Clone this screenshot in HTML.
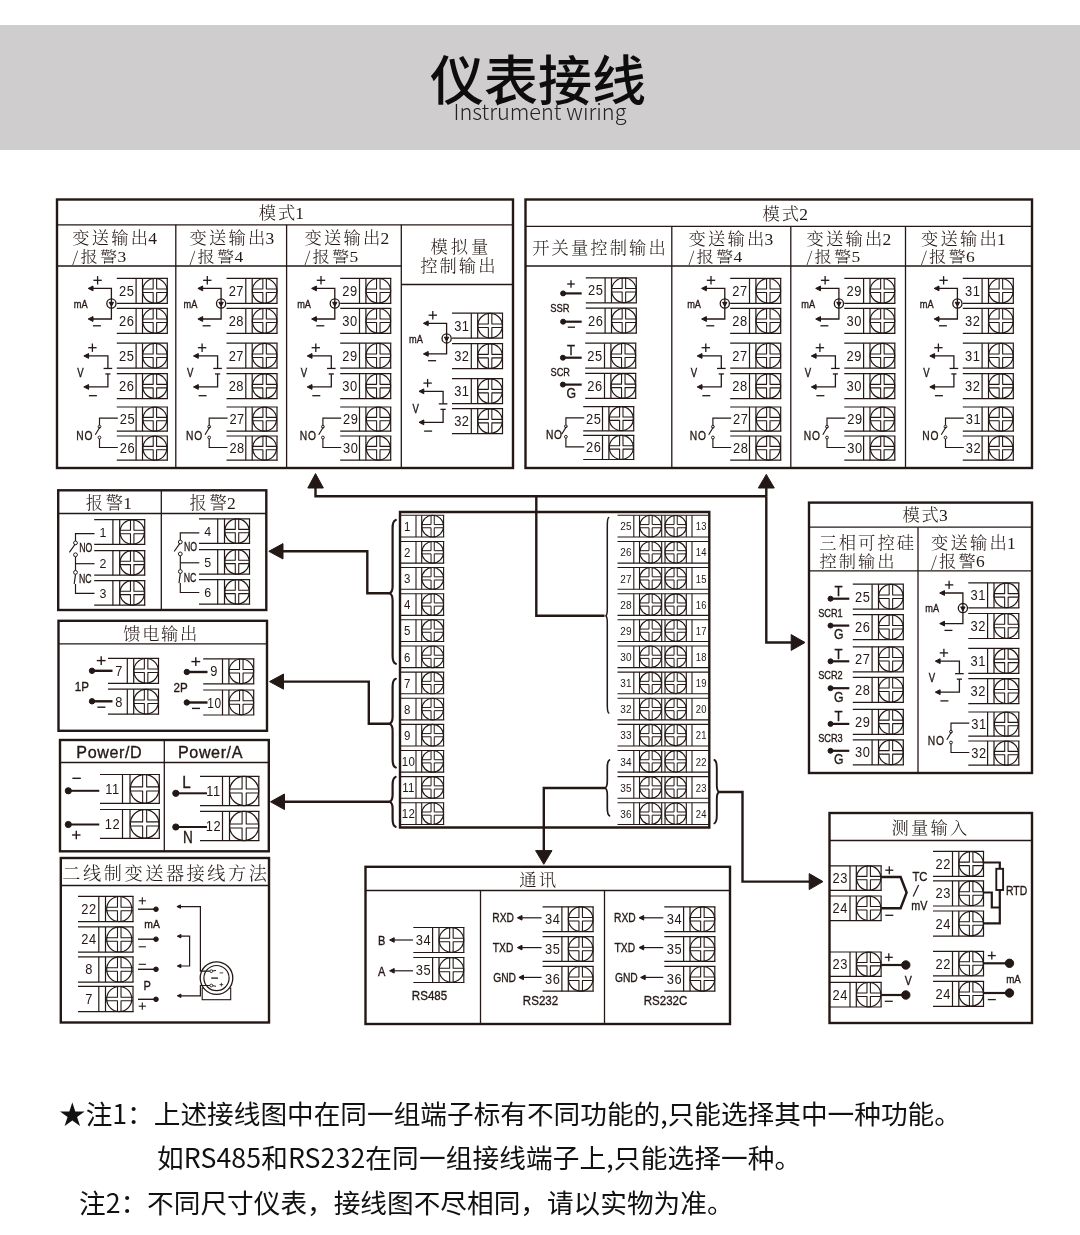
<!DOCTYPE html>
<html lang="zh-CN">
<head>
<meta charset="utf-8">
<title>仪表接线 Instrument wiring</title>
<style>
html,body{margin:0;padding:0;background:#fff;}
body{width:1080px;height:1235px;position:relative;overflow:hidden;font-family:"Liberation Sans","Noto Sans CJK SC",sans-serif;color:#111;}
.banner{position:absolute;left:0;top:25px;width:1080px;height:125.4px;background:#cfcdce;}
.title{position:absolute;left:0;width:1080px;text-align:center;top:38.5px;font-family:"Noto Sans CJK SC","Liberation Sans",sans-serif;font-weight:500;font-size:54px;line-height:78px;color:#0d0d0d;letter-spacing:0;margin-left:-2px;}
.sub{position:absolute;left:0;width:1080px;text-align:center;top:94.8px;font-family:"Noto Sans CJK SC","Liberation Sans",sans-serif;font-weight:300;font-size:21.7px;line-height:32px;color:#222;}
svg{position:absolute;left:0;top:0;}
.title,.sub,.note,svg{will-change:transform;}
svg *{stroke:#231815;}
svg text,svg tspan{stroke:none;fill:#231815;}
.l{font-family:"Liberation Sans",sans-serif;}
.s{font-family:"Noto Serif CJK SC","Liberation Serif",serif;font-weight:300;}
svg text.b{stroke:#231815;stroke-width:0.35px;}
.d{font-family:"Liberation Serif",serif;font-weight:400;}
.note{position:absolute;white-space:nowrap;font-family:"Noto Sans CJK SC","Liberation Sans",sans-serif;font-size:26.67px;line-height:40px;color:#111;}
</style>
</head>
<body>
<div class="banner"></div>
<div class="title">仪表接线</div>
<div class="sub">Instrument wiring</div>
<svg width="1080" height="1235" viewBox="0 0 1080 1235" fill="none">
<rect x="57" y="199.5" width="456" height="268.5" stroke-width="2.4" fill="none"/>
<line x1="57" y1="224.8" x2="513" y2="224.8" stroke-width="1.3"/>
<line x1="57" y1="266" x2="401.3" y2="266" stroke-width="1.3"/>
<line x1="175.8" y1="224.8" x2="175.8" y2="468" stroke-width="1.3"/>
<line x1="286.6" y1="224.8" x2="286.6" y2="468" stroke-width="1.3"/>
<line x1="401.3" y1="224.8" x2="401.3" y2="468" stroke-width="1.3"/>
<line x1="401.3" y1="284.5" x2="513" y2="284.5" stroke-width="1.3"/>
<text class="s" x="258.8" y="218.6" font-size="17.3" text-anchor="start" letter-spacing="1.8">模式<tspan class="d" font-size="17.47" dx="-1.6">1</tspan></text>
<text class="s" x="72.3" y="244.3" font-size="17.3" text-anchor="start" letter-spacing="2.2">变送输出<tspan class="d" font-size="17.47" dx="-2">4</tspan></text>
<text class="s" font-size="17.3" text-anchor="start" letter-spacing="2.2" transform="translate(72.3 262.2) scale(1 0.88)">/报警<tspan class="d" font-size="17.47" dx="-2">3</tspan></text>
<text class="s" x="189.5" y="244.3" font-size="17.3" text-anchor="start" letter-spacing="2.2">变送输出<tspan class="d" font-size="17.47" dx="-2">3</tspan></text>
<text class="s" font-size="17.3" text-anchor="start" letter-spacing="2.2" transform="translate(189.5 262.2) scale(1 0.88)">/报警<tspan class="d" font-size="17.47" dx="-2">4</tspan></text>
<text class="s" x="304.5" y="244.3" font-size="17.3" text-anchor="start" letter-spacing="2.2">变送输出<tspan class="d" font-size="17.47" dx="-2">2</tspan></text>
<text class="s" font-size="17.3" text-anchor="start" letter-spacing="2.2" transform="translate(304.5 262.2) scale(1 0.88)">/报警<tspan class="d" font-size="17.47" dx="-2">5</tspan></text>
<text class="s" x="430.5" y="253.3" font-size="17.3" text-anchor="start" letter-spacing="3">模拟量</text>
<text class="s" x="420.3" y="271.5" font-size="17.3" text-anchor="start" letter-spacing="2">控制输出</text>
<line x1="116.8" y1="278.3" x2="167.9" y2="278.3" stroke-width="1.2"/>
<line x1="116.8" y1="303.3" x2="167.9" y2="303.3" stroke-width="1.2"/>
<line x1="136.1" y1="278.3" x2="136.1" y2="303.3" stroke-width="1.2"/>
<line x1="142.5" y1="278.3" x2="142.5" y2="303.3" stroke-width="1.2"/>
<line x1="167.3" y1="278.3" x2="167.3" y2="303.3" stroke-width="1.2"/>
<circle cx="154.9" cy="290.8" r="12.3" stroke-width="1.2" fill="none"/>
<polyline points="142.5,289.05 153.15,289.05 153.15,278.3" stroke-width="1.08" stroke-linejoin="round"/>
<polyline points="142.5,292.55 153.15,292.55 153.15,303.3" stroke-width="1.08" stroke-linejoin="round"/>
<polyline points="167.3,289.05 156.65,289.05 156.65,278.3" stroke-width="1.08" stroke-linejoin="round"/>
<polyline points="167.3,292.55 156.65,292.55 156.65,303.3" stroke-width="1.08" stroke-linejoin="round"/>
<text class="l" font-size="14" text-anchor="middle" letter-spacing="0.6" transform="translate(126.65 295.84) scale(0.92 1)">25</text>
<line x1="116.8" y1="308.3" x2="167.9" y2="308.3" stroke-width="1.2"/>
<line x1="116.8" y1="333.3" x2="167.9" y2="333.3" stroke-width="1.2"/>
<line x1="136.1" y1="308.3" x2="136.1" y2="333.3" stroke-width="1.2"/>
<line x1="142.5" y1="308.3" x2="142.5" y2="333.3" stroke-width="1.2"/>
<line x1="167.3" y1="308.3" x2="167.3" y2="333.3" stroke-width="1.2"/>
<circle cx="154.9" cy="320.8" r="12.3" stroke-width="1.2" fill="none"/>
<polyline points="142.5,319.05 153.15,319.05 153.15,308.3" stroke-width="1.08" stroke-linejoin="round"/>
<polyline points="142.5,322.55 153.15,322.55 153.15,333.3" stroke-width="1.08" stroke-linejoin="round"/>
<polyline points="167.3,319.05 156.65,319.05 156.65,308.3" stroke-width="1.08" stroke-linejoin="round"/>
<polyline points="167.3,322.55 156.65,322.55 156.65,333.3" stroke-width="1.08" stroke-linejoin="round"/>
<text class="l" font-size="14" text-anchor="middle" letter-spacing="0.6" transform="translate(126.65 325.84) scale(0.92 1)">26</text>
<polyline points="91.2,288.4 111.4,288.4 111.4,319 91.2,319" stroke-width="1.3" stroke-linejoin="miter"/>
<polygon points="88.2,288.4 93,286 93,290.8" fill="#231815" stroke="none"/>
<polygon points="88.2,319 93,316.6 93,321.4" fill="#231815" stroke="none"/>
<circle cx="111.4" cy="303.5" r="4.6" stroke-width="1.3" fill="none"/>
<polygon points="111.4,306.3 109.2,302.3 113.6,302.3" fill="#231815" stroke="none"/>
<line x1="93.4" y1="280.3" x2="101.8" y2="280.3" stroke-width="1.3"/>
<line x1="97.6" y1="276.1" x2="97.6" y2="284.5" stroke-width="1.3"/>
<line x1="92.9" y1="325.8" x2="100.9" y2="325.8" stroke-width="1.3"/>
<text class="l b" font-size="11.5" text-anchor="start" transform="translate(73.8 307.6) scale(0.8 1)">mA</text>
<line x1="116.8" y1="343.2" x2="167.9" y2="343.2" stroke-width="1.2"/>
<line x1="116.8" y1="368.2" x2="167.9" y2="368.2" stroke-width="1.2"/>
<line x1="136.1" y1="343.2" x2="136.1" y2="368.2" stroke-width="1.2"/>
<line x1="142.5" y1="343.2" x2="142.5" y2="368.2" stroke-width="1.2"/>
<line x1="167.3" y1="343.2" x2="167.3" y2="368.2" stroke-width="1.2"/>
<circle cx="154.9" cy="355.7" r="12.3" stroke-width="1.2" fill="none"/>
<polyline points="142.5,353.95 153.15,353.95 153.15,343.2" stroke-width="1.08" stroke-linejoin="round"/>
<polyline points="142.5,357.45 153.15,357.45 153.15,368.2" stroke-width="1.08" stroke-linejoin="round"/>
<polyline points="167.3,353.95 156.65,353.95 156.65,343.2" stroke-width="1.08" stroke-linejoin="round"/>
<polyline points="167.3,357.45 156.65,357.45 156.65,368.2" stroke-width="1.08" stroke-linejoin="round"/>
<text class="l" font-size="14" text-anchor="middle" letter-spacing="0.6" transform="translate(126.65 360.74) scale(0.92 1)">25</text>
<line x1="116.8" y1="373.6" x2="167.9" y2="373.6" stroke-width="1.2"/>
<line x1="116.8" y1="398.6" x2="167.9" y2="398.6" stroke-width="1.2"/>
<line x1="136.1" y1="373.6" x2="136.1" y2="398.6" stroke-width="1.2"/>
<line x1="142.5" y1="373.6" x2="142.5" y2="398.6" stroke-width="1.2"/>
<line x1="167.3" y1="373.6" x2="167.3" y2="398.6" stroke-width="1.2"/>
<circle cx="154.9" cy="386.1" r="12.3" stroke-width="1.2" fill="none"/>
<polyline points="142.5,384.35 153.15,384.35 153.15,373.6" stroke-width="1.08" stroke-linejoin="round"/>
<polyline points="142.5,387.85 153.15,387.85 153.15,398.6" stroke-width="1.08" stroke-linejoin="round"/>
<polyline points="167.3,384.35 156.65,384.35 156.65,373.6" stroke-width="1.08" stroke-linejoin="round"/>
<polyline points="167.3,387.85 156.65,387.85 156.65,398.6" stroke-width="1.08" stroke-linejoin="round"/>
<text class="l" font-size="14" text-anchor="middle" letter-spacing="0.6" transform="translate(126.65 391.14) scale(0.92 1)">26</text>
<polyline points="86.8,355.95 107.9,355.95 107.9,368.45" stroke-width="1.3" stroke-linejoin="miter"/>
<polyline points="107.9,373.95 107.9,386.95 86.8,386.95" stroke-width="1.3" stroke-linejoin="miter"/>
<line x1="103.6" y1="368.45" x2="112.2" y2="368.45" stroke-width="1.3"/>
<line x1="105.3" y1="373.95" x2="110.5" y2="373.95" stroke-width="1.3"/>
<polygon points="83.8,355.95 88.6,353.55 88.6,358.35" fill="#231815" stroke="none"/>
<polygon points="83.8,386.95 88.6,384.55 88.6,389.35" fill="#231815" stroke="none"/>
<line x1="88.2" y1="347.7" x2="96.6" y2="347.7" stroke-width="1.3"/>
<line x1="92.4" y1="343.5" x2="92.4" y2="351.9" stroke-width="1.3"/>
<line x1="88.9" y1="395.7" x2="96.9" y2="395.7" stroke-width="1.3"/>
<text class="l b" font-size="12" text-anchor="start" transform="translate(77.3 377.2) scale(0.8 1)">V</text>
<line x1="116.8" y1="407" x2="167.9" y2="407" stroke-width="1.2"/>
<line x1="116.8" y1="431.2" x2="167.9" y2="431.2" stroke-width="1.2"/>
<line x1="136.1" y1="407" x2="136.1" y2="431.2" stroke-width="1.2"/>
<line x1="142.5" y1="407" x2="142.5" y2="431.2" stroke-width="1.2"/>
<line x1="167.3" y1="407" x2="167.3" y2="431.2" stroke-width="1.2"/>
<circle cx="154.9" cy="419.1" r="12" stroke-width="1.2" fill="none"/>
<polyline points="142.5,417.41 153.21,417.41 153.21,407" stroke-width="1.08" stroke-linejoin="round"/>
<polyline points="142.5,420.79 153.21,420.79 153.21,431.2" stroke-width="1.08" stroke-linejoin="round"/>
<polyline points="167.3,417.41 156.59,417.41 156.59,407" stroke-width="1.08" stroke-linejoin="round"/>
<polyline points="167.3,420.79 156.59,420.79 156.59,431.2" stroke-width="1.08" stroke-linejoin="round"/>
<text class="l" font-size="14" text-anchor="middle" letter-spacing="0.6" transform="translate(127.4 424.14) scale(0.92 1)">25</text>
<line x1="116.8" y1="436" x2="167.9" y2="436" stroke-width="1.2"/>
<line x1="116.8" y1="460.2" x2="167.9" y2="460.2" stroke-width="1.2"/>
<line x1="136.1" y1="436" x2="136.1" y2="460.2" stroke-width="1.2"/>
<line x1="142.5" y1="436" x2="142.5" y2="460.2" stroke-width="1.2"/>
<line x1="167.3" y1="436" x2="167.3" y2="460.2" stroke-width="1.2"/>
<circle cx="154.9" cy="448.1" r="12" stroke-width="1.2" fill="none"/>
<polyline points="142.5,446.41 153.21,446.41 153.21,436" stroke-width="1.08" stroke-linejoin="round"/>
<polyline points="142.5,449.79 153.21,449.79 153.21,460.2" stroke-width="1.08" stroke-linejoin="round"/>
<polyline points="167.3,446.41 156.59,446.41 156.59,436" stroke-width="1.08" stroke-linejoin="round"/>
<polyline points="167.3,449.79 156.59,449.79 156.59,460.2" stroke-width="1.08" stroke-linejoin="round"/>
<text class="l" font-size="14" text-anchor="middle" letter-spacing="0.6" transform="translate(127.4 453.14) scale(0.92 1)">26</text>
<polyline points="117.8,418.2 99.5,418.2 99.5,425.2" stroke-width="1.17" stroke-linejoin="miter"/>
<polyline points="117.8,447.5 99.5,447.5 99.5,438.9" stroke-width="1.17" stroke-linejoin="miter"/>
<circle cx="99.5" cy="426.7" r="1.4" stroke-width="1" fill="none"/>
<circle cx="99.5" cy="437.5" r="1.4" stroke-width="1" fill="none"/>
<line x1="100.1" y1="426.8" x2="95.3" y2="434.7" stroke-width="1.17"/>
<text class="l b" font-size="12.5" text-anchor="start" letter-spacing="1" transform="translate(76.3 439.7) scale(0.82 1)">NO</text>
<line x1="226.5" y1="278.3" x2="277.6" y2="278.3" stroke-width="1.2"/>
<line x1="226.5" y1="303.3" x2="277.6" y2="303.3" stroke-width="1.2"/>
<line x1="245.8" y1="278.3" x2="245.8" y2="303.3" stroke-width="1.2"/>
<line x1="252.2" y1="278.3" x2="252.2" y2="303.3" stroke-width="1.2"/>
<line x1="277" y1="278.3" x2="277" y2="303.3" stroke-width="1.2"/>
<circle cx="264.6" cy="290.8" r="12.3" stroke-width="1.2" fill="none"/>
<polyline points="252.2,289.05 262.85,289.05 262.85,278.3" stroke-width="1.08" stroke-linejoin="round"/>
<polyline points="252.2,292.55 262.85,292.55 262.85,303.3" stroke-width="1.08" stroke-linejoin="round"/>
<polyline points="277,289.05 266.35,289.05 266.35,278.3" stroke-width="1.08" stroke-linejoin="round"/>
<polyline points="277,292.55 266.35,292.55 266.35,303.3" stroke-width="1.08" stroke-linejoin="round"/>
<text class="l" font-size="14" text-anchor="middle" letter-spacing="0.6" transform="translate(236.35 295.84) scale(0.92 1)">27</text>
<line x1="226.5" y1="308.3" x2="277.6" y2="308.3" stroke-width="1.2"/>
<line x1="226.5" y1="333.3" x2="277.6" y2="333.3" stroke-width="1.2"/>
<line x1="245.8" y1="308.3" x2="245.8" y2="333.3" stroke-width="1.2"/>
<line x1="252.2" y1="308.3" x2="252.2" y2="333.3" stroke-width="1.2"/>
<line x1="277" y1="308.3" x2="277" y2="333.3" stroke-width="1.2"/>
<circle cx="264.6" cy="320.8" r="12.3" stroke-width="1.2" fill="none"/>
<polyline points="252.2,319.05 262.85,319.05 262.85,308.3" stroke-width="1.08" stroke-linejoin="round"/>
<polyline points="252.2,322.55 262.85,322.55 262.85,333.3" stroke-width="1.08" stroke-linejoin="round"/>
<polyline points="277,319.05 266.35,319.05 266.35,308.3" stroke-width="1.08" stroke-linejoin="round"/>
<polyline points="277,322.55 266.35,322.55 266.35,333.3" stroke-width="1.08" stroke-linejoin="round"/>
<text class="l" font-size="14" text-anchor="middle" letter-spacing="0.6" transform="translate(236.35 325.84) scale(0.92 1)">28</text>
<polyline points="200.9,288.4 221.1,288.4 221.1,319 200.9,319" stroke-width="1.3" stroke-linejoin="miter"/>
<polygon points="197.9,288.4 202.7,286 202.7,290.8" fill="#231815" stroke="none"/>
<polygon points="197.9,319 202.7,316.6 202.7,321.4" fill="#231815" stroke="none"/>
<circle cx="221.1" cy="303.5" r="4.6" stroke-width="1.3" fill="none"/>
<polygon points="221.1,306.3 218.9,302.3 223.3,302.3" fill="#231815" stroke="none"/>
<line x1="203.1" y1="280.3" x2="211.5" y2="280.3" stroke-width="1.3"/>
<line x1="207.3" y1="276.1" x2="207.3" y2="284.5" stroke-width="1.3"/>
<line x1="202.6" y1="325.8" x2="210.6" y2="325.8" stroke-width="1.3"/>
<text class="l b" font-size="11.5" text-anchor="start" transform="translate(183.5 307.6) scale(0.8 1)">mA</text>
<line x1="226.5" y1="343.2" x2="277.6" y2="343.2" stroke-width="1.2"/>
<line x1="226.5" y1="368.2" x2="277.6" y2="368.2" stroke-width="1.2"/>
<line x1="245.8" y1="343.2" x2="245.8" y2="368.2" stroke-width="1.2"/>
<line x1="252.2" y1="343.2" x2="252.2" y2="368.2" stroke-width="1.2"/>
<line x1="277" y1="343.2" x2="277" y2="368.2" stroke-width="1.2"/>
<circle cx="264.6" cy="355.7" r="12.3" stroke-width="1.2" fill="none"/>
<polyline points="252.2,353.95 262.85,353.95 262.85,343.2" stroke-width="1.08" stroke-linejoin="round"/>
<polyline points="252.2,357.45 262.85,357.45 262.85,368.2" stroke-width="1.08" stroke-linejoin="round"/>
<polyline points="277,353.95 266.35,353.95 266.35,343.2" stroke-width="1.08" stroke-linejoin="round"/>
<polyline points="277,357.45 266.35,357.45 266.35,368.2" stroke-width="1.08" stroke-linejoin="round"/>
<text class="l" font-size="14" text-anchor="middle" letter-spacing="0.6" transform="translate(236.35 360.74) scale(0.92 1)">27</text>
<line x1="226.5" y1="373.6" x2="277.6" y2="373.6" stroke-width="1.2"/>
<line x1="226.5" y1="398.6" x2="277.6" y2="398.6" stroke-width="1.2"/>
<line x1="245.8" y1="373.6" x2="245.8" y2="398.6" stroke-width="1.2"/>
<line x1="252.2" y1="373.6" x2="252.2" y2="398.6" stroke-width="1.2"/>
<line x1="277" y1="373.6" x2="277" y2="398.6" stroke-width="1.2"/>
<circle cx="264.6" cy="386.1" r="12.3" stroke-width="1.2" fill="none"/>
<polyline points="252.2,384.35 262.85,384.35 262.85,373.6" stroke-width="1.08" stroke-linejoin="round"/>
<polyline points="252.2,387.85 262.85,387.85 262.85,398.6" stroke-width="1.08" stroke-linejoin="round"/>
<polyline points="277,384.35 266.35,384.35 266.35,373.6" stroke-width="1.08" stroke-linejoin="round"/>
<polyline points="277,387.85 266.35,387.85 266.35,398.6" stroke-width="1.08" stroke-linejoin="round"/>
<text class="l" font-size="14" text-anchor="middle" letter-spacing="0.6" transform="translate(236.35 391.14) scale(0.92 1)">28</text>
<polyline points="196.5,355.95 217.6,355.95 217.6,368.45" stroke-width="1.3" stroke-linejoin="miter"/>
<polyline points="217.6,373.95 217.6,386.95 196.5,386.95" stroke-width="1.3" stroke-linejoin="miter"/>
<line x1="213.3" y1="368.45" x2="221.9" y2="368.45" stroke-width="1.3"/>
<line x1="215" y1="373.95" x2="220.2" y2="373.95" stroke-width="1.3"/>
<polygon points="193.5,355.95 198.3,353.55 198.3,358.35" fill="#231815" stroke="none"/>
<polygon points="193.5,386.95 198.3,384.55 198.3,389.35" fill="#231815" stroke="none"/>
<line x1="197.9" y1="347.7" x2="206.3" y2="347.7" stroke-width="1.3"/>
<line x1="202.1" y1="343.5" x2="202.1" y2="351.9" stroke-width="1.3"/>
<line x1="198.6" y1="395.7" x2="206.6" y2="395.7" stroke-width="1.3"/>
<text class="l b" font-size="12" text-anchor="start" transform="translate(187 377.2) scale(0.8 1)">V</text>
<line x1="226.5" y1="407" x2="277.6" y2="407" stroke-width="1.2"/>
<line x1="226.5" y1="431.2" x2="277.6" y2="431.2" stroke-width="1.2"/>
<line x1="245.8" y1="407" x2="245.8" y2="431.2" stroke-width="1.2"/>
<line x1="252.2" y1="407" x2="252.2" y2="431.2" stroke-width="1.2"/>
<line x1="277" y1="407" x2="277" y2="431.2" stroke-width="1.2"/>
<circle cx="264.6" cy="419.1" r="12" stroke-width="1.2" fill="none"/>
<polyline points="252.2,417.41 262.91,417.41 262.91,407" stroke-width="1.08" stroke-linejoin="round"/>
<polyline points="252.2,420.79 262.91,420.79 262.91,431.2" stroke-width="1.08" stroke-linejoin="round"/>
<polyline points="277,417.41 266.29,417.41 266.29,407" stroke-width="1.08" stroke-linejoin="round"/>
<polyline points="277,420.79 266.29,420.79 266.29,431.2" stroke-width="1.08" stroke-linejoin="round"/>
<text class="l" font-size="14" text-anchor="middle" letter-spacing="0.6" transform="translate(237.1 424.14) scale(0.92 1)">27</text>
<line x1="226.5" y1="436" x2="277.6" y2="436" stroke-width="1.2"/>
<line x1="226.5" y1="460.2" x2="277.6" y2="460.2" stroke-width="1.2"/>
<line x1="245.8" y1="436" x2="245.8" y2="460.2" stroke-width="1.2"/>
<line x1="252.2" y1="436" x2="252.2" y2="460.2" stroke-width="1.2"/>
<line x1="277" y1="436" x2="277" y2="460.2" stroke-width="1.2"/>
<circle cx="264.6" cy="448.1" r="12" stroke-width="1.2" fill="none"/>
<polyline points="252.2,446.41 262.91,446.41 262.91,436" stroke-width="1.08" stroke-linejoin="round"/>
<polyline points="252.2,449.79 262.91,449.79 262.91,460.2" stroke-width="1.08" stroke-linejoin="round"/>
<polyline points="277,446.41 266.29,446.41 266.29,436" stroke-width="1.08" stroke-linejoin="round"/>
<polyline points="277,449.79 266.29,449.79 266.29,460.2" stroke-width="1.08" stroke-linejoin="round"/>
<text class="l" font-size="14" text-anchor="middle" letter-spacing="0.6" transform="translate(237.1 453.14) scale(0.92 1)">28</text>
<polyline points="227.5,418.2 209.2,418.2 209.2,425.2" stroke-width="1.17" stroke-linejoin="miter"/>
<polyline points="227.5,447.5 209.2,447.5 209.2,438.9" stroke-width="1.17" stroke-linejoin="miter"/>
<circle cx="209.2" cy="426.7" r="1.4" stroke-width="1" fill="none"/>
<circle cx="209.2" cy="437.5" r="1.4" stroke-width="1" fill="none"/>
<line x1="209.8" y1="426.8" x2="205" y2="434.7" stroke-width="1.17"/>
<text class="l b" font-size="12.5" text-anchor="start" letter-spacing="1" transform="translate(186 439.7) scale(0.82 1)">NO</text>
<line x1="340.2" y1="278.3" x2="391.3" y2="278.3" stroke-width="1.2"/>
<line x1="340.2" y1="303.3" x2="391.3" y2="303.3" stroke-width="1.2"/>
<line x1="359.5" y1="278.3" x2="359.5" y2="303.3" stroke-width="1.2"/>
<line x1="365.9" y1="278.3" x2="365.9" y2="303.3" stroke-width="1.2"/>
<line x1="390.7" y1="278.3" x2="390.7" y2="303.3" stroke-width="1.2"/>
<circle cx="378.3" cy="290.8" r="12.3" stroke-width="1.2" fill="none"/>
<polyline points="365.9,289.05 376.55,289.05 376.55,278.3" stroke-width="1.08" stroke-linejoin="round"/>
<polyline points="365.9,292.55 376.55,292.55 376.55,303.3" stroke-width="1.08" stroke-linejoin="round"/>
<polyline points="390.7,289.05 380.05,289.05 380.05,278.3" stroke-width="1.08" stroke-linejoin="round"/>
<polyline points="390.7,292.55 380.05,292.55 380.05,303.3" stroke-width="1.08" stroke-linejoin="round"/>
<text class="l" font-size="14" text-anchor="middle" letter-spacing="0.6" transform="translate(350.05 295.84) scale(0.92 1)">29</text>
<line x1="340.2" y1="308.3" x2="391.3" y2="308.3" stroke-width="1.2"/>
<line x1="340.2" y1="333.3" x2="391.3" y2="333.3" stroke-width="1.2"/>
<line x1="359.5" y1="308.3" x2="359.5" y2="333.3" stroke-width="1.2"/>
<line x1="365.9" y1="308.3" x2="365.9" y2="333.3" stroke-width="1.2"/>
<line x1="390.7" y1="308.3" x2="390.7" y2="333.3" stroke-width="1.2"/>
<circle cx="378.3" cy="320.8" r="12.3" stroke-width="1.2" fill="none"/>
<polyline points="365.9,319.05 376.55,319.05 376.55,308.3" stroke-width="1.08" stroke-linejoin="round"/>
<polyline points="365.9,322.55 376.55,322.55 376.55,333.3" stroke-width="1.08" stroke-linejoin="round"/>
<polyline points="390.7,319.05 380.05,319.05 380.05,308.3" stroke-width="1.08" stroke-linejoin="round"/>
<polyline points="390.7,322.55 380.05,322.55 380.05,333.3" stroke-width="1.08" stroke-linejoin="round"/>
<text class="l" font-size="14" text-anchor="middle" letter-spacing="0.6" transform="translate(350.05 325.84) scale(0.92 1)">30</text>
<polyline points="314.6,288.4 334.8,288.4 334.8,319 314.6,319" stroke-width="1.3" stroke-linejoin="miter"/>
<polygon points="311.6,288.4 316.4,286 316.4,290.8" fill="#231815" stroke="none"/>
<polygon points="311.6,319 316.4,316.6 316.4,321.4" fill="#231815" stroke="none"/>
<circle cx="334.8" cy="303.5" r="4.6" stroke-width="1.3" fill="none"/>
<polygon points="334.8,306.3 332.6,302.3 337,302.3" fill="#231815" stroke="none"/>
<line x1="316.8" y1="280.3" x2="325.2" y2="280.3" stroke-width="1.3"/>
<line x1="321" y1="276.1" x2="321" y2="284.5" stroke-width="1.3"/>
<line x1="316.3" y1="325.8" x2="324.3" y2="325.8" stroke-width="1.3"/>
<text class="l b" font-size="11.5" text-anchor="start" transform="translate(297.2 307.6) scale(0.8 1)">mA</text>
<line x1="340.2" y1="343.2" x2="391.3" y2="343.2" stroke-width="1.2"/>
<line x1="340.2" y1="368.2" x2="391.3" y2="368.2" stroke-width="1.2"/>
<line x1="359.5" y1="343.2" x2="359.5" y2="368.2" stroke-width="1.2"/>
<line x1="365.9" y1="343.2" x2="365.9" y2="368.2" stroke-width="1.2"/>
<line x1="390.7" y1="343.2" x2="390.7" y2="368.2" stroke-width="1.2"/>
<circle cx="378.3" cy="355.7" r="12.3" stroke-width="1.2" fill="none"/>
<polyline points="365.9,353.95 376.55,353.95 376.55,343.2" stroke-width="1.08" stroke-linejoin="round"/>
<polyline points="365.9,357.45 376.55,357.45 376.55,368.2" stroke-width="1.08" stroke-linejoin="round"/>
<polyline points="390.7,353.95 380.05,353.95 380.05,343.2" stroke-width="1.08" stroke-linejoin="round"/>
<polyline points="390.7,357.45 380.05,357.45 380.05,368.2" stroke-width="1.08" stroke-linejoin="round"/>
<text class="l" font-size="14" text-anchor="middle" letter-spacing="0.6" transform="translate(350.05 360.74) scale(0.92 1)">29</text>
<line x1="340.2" y1="373.6" x2="391.3" y2="373.6" stroke-width="1.2"/>
<line x1="340.2" y1="398.6" x2="391.3" y2="398.6" stroke-width="1.2"/>
<line x1="359.5" y1="373.6" x2="359.5" y2="398.6" stroke-width="1.2"/>
<line x1="365.9" y1="373.6" x2="365.9" y2="398.6" stroke-width="1.2"/>
<line x1="390.7" y1="373.6" x2="390.7" y2="398.6" stroke-width="1.2"/>
<circle cx="378.3" cy="386.1" r="12.3" stroke-width="1.2" fill="none"/>
<polyline points="365.9,384.35 376.55,384.35 376.55,373.6" stroke-width="1.08" stroke-linejoin="round"/>
<polyline points="365.9,387.85 376.55,387.85 376.55,398.6" stroke-width="1.08" stroke-linejoin="round"/>
<polyline points="390.7,384.35 380.05,384.35 380.05,373.6" stroke-width="1.08" stroke-linejoin="round"/>
<polyline points="390.7,387.85 380.05,387.85 380.05,398.6" stroke-width="1.08" stroke-linejoin="round"/>
<text class="l" font-size="14" text-anchor="middle" letter-spacing="0.6" transform="translate(350.05 391.14) scale(0.92 1)">30</text>
<polyline points="310.2,355.95 331.3,355.95 331.3,368.45" stroke-width="1.3" stroke-linejoin="miter"/>
<polyline points="331.3,373.95 331.3,386.95 310.2,386.95" stroke-width="1.3" stroke-linejoin="miter"/>
<line x1="327" y1="368.45" x2="335.6" y2="368.45" stroke-width="1.3"/>
<line x1="328.7" y1="373.95" x2="333.9" y2="373.95" stroke-width="1.3"/>
<polygon points="307.2,355.95 312,353.55 312,358.35" fill="#231815" stroke="none"/>
<polygon points="307.2,386.95 312,384.55 312,389.35" fill="#231815" stroke="none"/>
<line x1="311.6" y1="347.7" x2="320" y2="347.7" stroke-width="1.3"/>
<line x1="315.8" y1="343.5" x2="315.8" y2="351.9" stroke-width="1.3"/>
<line x1="312.3" y1="395.7" x2="320.3" y2="395.7" stroke-width="1.3"/>
<text class="l b" font-size="12" text-anchor="start" transform="translate(300.7 377.2) scale(0.8 1)">V</text>
<line x1="340.2" y1="407" x2="391.3" y2="407" stroke-width="1.2"/>
<line x1="340.2" y1="431.2" x2="391.3" y2="431.2" stroke-width="1.2"/>
<line x1="359.5" y1="407" x2="359.5" y2="431.2" stroke-width="1.2"/>
<line x1="365.9" y1="407" x2="365.9" y2="431.2" stroke-width="1.2"/>
<line x1="390.7" y1="407" x2="390.7" y2="431.2" stroke-width="1.2"/>
<circle cx="378.3" cy="419.1" r="12" stroke-width="1.2" fill="none"/>
<polyline points="365.9,417.41 376.61,417.41 376.61,407" stroke-width="1.08" stroke-linejoin="round"/>
<polyline points="365.9,420.79 376.61,420.79 376.61,431.2" stroke-width="1.08" stroke-linejoin="round"/>
<polyline points="390.7,417.41 379.99,417.41 379.99,407" stroke-width="1.08" stroke-linejoin="round"/>
<polyline points="390.7,420.79 379.99,420.79 379.99,431.2" stroke-width="1.08" stroke-linejoin="round"/>
<text class="l" font-size="14" text-anchor="middle" letter-spacing="0.6" transform="translate(350.8 424.14) scale(0.92 1)">29</text>
<line x1="340.2" y1="436" x2="391.3" y2="436" stroke-width="1.2"/>
<line x1="340.2" y1="460.2" x2="391.3" y2="460.2" stroke-width="1.2"/>
<line x1="359.5" y1="436" x2="359.5" y2="460.2" stroke-width="1.2"/>
<line x1="365.9" y1="436" x2="365.9" y2="460.2" stroke-width="1.2"/>
<line x1="390.7" y1="436" x2="390.7" y2="460.2" stroke-width="1.2"/>
<circle cx="378.3" cy="448.1" r="12" stroke-width="1.2" fill="none"/>
<polyline points="365.9,446.41 376.61,446.41 376.61,436" stroke-width="1.08" stroke-linejoin="round"/>
<polyline points="365.9,449.79 376.61,449.79 376.61,460.2" stroke-width="1.08" stroke-linejoin="round"/>
<polyline points="390.7,446.41 379.99,446.41 379.99,436" stroke-width="1.08" stroke-linejoin="round"/>
<polyline points="390.7,449.79 379.99,449.79 379.99,460.2" stroke-width="1.08" stroke-linejoin="round"/>
<text class="l" font-size="14" text-anchor="middle" letter-spacing="0.6" transform="translate(350.8 453.14) scale(0.92 1)">30</text>
<polyline points="341.2,418.2 322.9,418.2 322.9,425.2" stroke-width="1.17" stroke-linejoin="miter"/>
<polyline points="341.2,447.5 322.9,447.5 322.9,438.9" stroke-width="1.17" stroke-linejoin="miter"/>
<circle cx="322.9" cy="426.7" r="1.4" stroke-width="1" fill="none"/>
<circle cx="322.9" cy="437.5" r="1.4" stroke-width="1" fill="none"/>
<line x1="323.5" y1="426.8" x2="318.7" y2="434.7" stroke-width="1.17"/>
<text class="l b" font-size="12.5" text-anchor="start" letter-spacing="1" transform="translate(299.7 439.7) scale(0.82 1)">NO</text>
<line x1="452" y1="313.2" x2="503.1" y2="313.2" stroke-width="1.2"/>
<line x1="452" y1="338.2" x2="503.1" y2="338.2" stroke-width="1.2"/>
<line x1="471.3" y1="313.2" x2="471.3" y2="338.2" stroke-width="1.2"/>
<line x1="477.7" y1="313.2" x2="477.7" y2="338.2" stroke-width="1.2"/>
<line x1="502.5" y1="313.2" x2="502.5" y2="338.2" stroke-width="1.2"/>
<circle cx="490.1" cy="325.7" r="12.3" stroke-width="1.2" fill="none"/>
<polyline points="477.7,323.95 488.35,323.95 488.35,313.2" stroke-width="1.08" stroke-linejoin="round"/>
<polyline points="477.7,327.45 488.35,327.45 488.35,338.2" stroke-width="1.08" stroke-linejoin="round"/>
<polyline points="502.5,323.95 491.85,323.95 491.85,313.2" stroke-width="1.08" stroke-linejoin="round"/>
<polyline points="502.5,327.45 491.85,327.45 491.85,338.2" stroke-width="1.08" stroke-linejoin="round"/>
<text class="l" font-size="14" text-anchor="middle" letter-spacing="0.6" transform="translate(461.85 330.74) scale(0.92 1)">31</text>
<line x1="452" y1="343.6" x2="503.1" y2="343.6" stroke-width="1.2"/>
<line x1="452" y1="368.6" x2="503.1" y2="368.6" stroke-width="1.2"/>
<line x1="471.3" y1="343.6" x2="471.3" y2="368.6" stroke-width="1.2"/>
<line x1="477.7" y1="343.6" x2="477.7" y2="368.6" stroke-width="1.2"/>
<line x1="502.5" y1="343.6" x2="502.5" y2="368.6" stroke-width="1.2"/>
<circle cx="490.1" cy="356.1" r="12.3" stroke-width="1.2" fill="none"/>
<polyline points="477.7,354.35 488.35,354.35 488.35,343.6" stroke-width="1.08" stroke-linejoin="round"/>
<polyline points="477.7,357.85 488.35,357.85 488.35,368.6" stroke-width="1.08" stroke-linejoin="round"/>
<polyline points="502.5,354.35 491.85,354.35 491.85,343.6" stroke-width="1.08" stroke-linejoin="round"/>
<polyline points="502.5,357.85 491.85,357.85 491.85,368.6" stroke-width="1.08" stroke-linejoin="round"/>
<text class="l" font-size="14" text-anchor="middle" letter-spacing="0.6" transform="translate(461.85 361.14) scale(0.92 1)">32</text>
<polyline points="426.4,323.3 446.6,323.3 446.6,353.9 426.4,353.9" stroke-width="1.3" stroke-linejoin="miter"/>
<polygon points="423.4,323.3 428.2,320.9 428.2,325.7" fill="#231815" stroke="none"/>
<polygon points="423.4,353.9 428.2,351.5 428.2,356.3" fill="#231815" stroke="none"/>
<circle cx="446.6" cy="338.4" r="4.6" stroke-width="1.3" fill="none"/>
<polygon points="446.6,341.2 444.4,337.2 448.8,337.2" fill="#231815" stroke="none"/>
<line x1="428.6" y1="315.2" x2="437" y2="315.2" stroke-width="1.3"/>
<line x1="432.8" y1="311" x2="432.8" y2="319.4" stroke-width="1.3"/>
<line x1="428.1" y1="360.7" x2="436.1" y2="360.7" stroke-width="1.3"/>
<text class="l b" font-size="11.5" text-anchor="start" transform="translate(409 342.5) scale(0.8 1)">mA</text>
<line x1="452" y1="378.6" x2="503.1" y2="378.6" stroke-width="1.2"/>
<line x1="452" y1="403.6" x2="503.1" y2="403.6" stroke-width="1.2"/>
<line x1="471.3" y1="378.6" x2="471.3" y2="403.6" stroke-width="1.2"/>
<line x1="477.7" y1="378.6" x2="477.7" y2="403.6" stroke-width="1.2"/>
<line x1="502.5" y1="378.6" x2="502.5" y2="403.6" stroke-width="1.2"/>
<circle cx="490.1" cy="391.1" r="12.3" stroke-width="1.2" fill="none"/>
<polyline points="477.7,389.35 488.35,389.35 488.35,378.6" stroke-width="1.08" stroke-linejoin="round"/>
<polyline points="477.7,392.85 488.35,392.85 488.35,403.6" stroke-width="1.08" stroke-linejoin="round"/>
<polyline points="502.5,389.35 491.85,389.35 491.85,378.6" stroke-width="1.08" stroke-linejoin="round"/>
<polyline points="502.5,392.85 491.85,392.85 491.85,403.6" stroke-width="1.08" stroke-linejoin="round"/>
<text class="l" font-size="14" text-anchor="middle" letter-spacing="0.6" transform="translate(461.85 396.14) scale(0.92 1)">31</text>
<line x1="452" y1="408.6" x2="503.1" y2="408.6" stroke-width="1.2"/>
<line x1="452" y1="433.6" x2="503.1" y2="433.6" stroke-width="1.2"/>
<line x1="471.3" y1="408.6" x2="471.3" y2="433.6" stroke-width="1.2"/>
<line x1="477.7" y1="408.6" x2="477.7" y2="433.6" stroke-width="1.2"/>
<line x1="502.5" y1="408.6" x2="502.5" y2="433.6" stroke-width="1.2"/>
<circle cx="490.1" cy="421.1" r="12.3" stroke-width="1.2" fill="none"/>
<polyline points="477.7,419.35 488.35,419.35 488.35,408.6" stroke-width="1.08" stroke-linejoin="round"/>
<polyline points="477.7,422.85 488.35,422.85 488.35,433.6" stroke-width="1.08" stroke-linejoin="round"/>
<polyline points="502.5,419.35 491.85,419.35 491.85,408.6" stroke-width="1.08" stroke-linejoin="round"/>
<polyline points="502.5,422.85 491.85,422.85 491.85,433.6" stroke-width="1.08" stroke-linejoin="round"/>
<text class="l" font-size="14" text-anchor="middle" letter-spacing="0.6" transform="translate(461.85 426.14) scale(0.92 1)">32</text>
<polyline points="422,391.35 443.1,391.35 443.1,403.85" stroke-width="1.3" stroke-linejoin="miter"/>
<polyline points="443.1,409.35 443.1,422.35 422,422.35" stroke-width="1.3" stroke-linejoin="miter"/>
<line x1="438.8" y1="403.85" x2="447.4" y2="403.85" stroke-width="1.3"/>
<line x1="440.5" y1="409.35" x2="445.7" y2="409.35" stroke-width="1.3"/>
<polygon points="419,391.35 423.8,388.95 423.8,393.75" fill="#231815" stroke="none"/>
<polygon points="419,422.35 423.8,419.95 423.8,424.75" fill="#231815" stroke="none"/>
<line x1="423.4" y1="383.1" x2="431.8" y2="383.1" stroke-width="1.3"/>
<line x1="427.6" y1="378.9" x2="427.6" y2="387.3" stroke-width="1.3"/>
<line x1="424.1" y1="431.1" x2="432.1" y2="431.1" stroke-width="1.3"/>
<text class="l b" font-size="12" text-anchor="start" transform="translate(412.5 412.6) scale(0.8 1)">V</text>
<rect x="525.5" y="199.5" width="506.5" height="268.5" stroke-width="2.4" fill="none"/>
<line x1="525.5" y1="226.4" x2="1032" y2="226.4" stroke-width="1.4"/>
<line x1="525.5" y1="266" x2="1032" y2="266" stroke-width="1.3"/>
<line x1="671.8" y1="226.4" x2="671.8" y2="468" stroke-width="1.3"/>
<line x1="790.8" y1="226.4" x2="790.8" y2="468" stroke-width="1.3"/>
<line x1="905.5" y1="226.4" x2="905.5" y2="468" stroke-width="1.3"/>
<text class="s" x="762.6" y="219.6" font-size="17.3" text-anchor="start" letter-spacing="1.8">模式<tspan class="d" font-size="17.47" dx="-1.6">2</tspan></text>
<text class="s" x="532.2" y="254.4" font-size="17.3" text-anchor="start" letter-spacing="2.1">开关量控制输出</text>
<text class="s" x="688.5" y="245.1" font-size="17.3" text-anchor="start" letter-spacing="2.2">变送输出<tspan class="d" font-size="17.47" dx="-2">3</tspan></text>
<text class="s" font-size="17.3" text-anchor="start" letter-spacing="2.2" transform="translate(688.5 262.3) scale(1 0.88)">/报警<tspan class="d" font-size="17.47" dx="-2">4</tspan></text>
<text class="s" x="806.5" y="245.1" font-size="17.3" text-anchor="start" letter-spacing="2.2">变送输出<tspan class="d" font-size="17.47" dx="-2">2</tspan></text>
<text class="s" font-size="17.3" text-anchor="start" letter-spacing="2.2" transform="translate(806.5 262.3) scale(1 0.88)">/报警<tspan class="d" font-size="17.47" dx="-2">5</tspan></text>
<text class="s" x="921" y="245.1" font-size="17.3" text-anchor="start" letter-spacing="2.2">变送输出<tspan class="d" font-size="17.47" dx="-2">1</tspan></text>
<text class="s" font-size="17.3" text-anchor="start" letter-spacing="2.2" transform="translate(921 262.3) scale(1 0.88)">/报警<tspan class="d" font-size="17.47" dx="-2">6</tspan></text>
<line x1="585.8" y1="277.8" x2="636.9" y2="277.8" stroke-width="1.2"/>
<line x1="585.8" y1="302.8" x2="636.9" y2="302.8" stroke-width="1.2"/>
<line x1="605.1" y1="277.8" x2="605.1" y2="302.8" stroke-width="1.2"/>
<line x1="611.5" y1="277.8" x2="611.5" y2="302.8" stroke-width="1.2"/>
<line x1="636.3" y1="277.8" x2="636.3" y2="302.8" stroke-width="1.2"/>
<circle cx="623.9" cy="290.3" r="12.3" stroke-width="1.2" fill="none"/>
<polyline points="611.5,288.55 622.15,288.55 622.15,277.8" stroke-width="1.08" stroke-linejoin="round"/>
<polyline points="611.5,292.05 622.15,292.05 622.15,302.8" stroke-width="1.08" stroke-linejoin="round"/>
<polyline points="636.3,288.55 625.65,288.55 625.65,277.8" stroke-width="1.08" stroke-linejoin="round"/>
<polyline points="636.3,292.05 625.65,292.05 625.65,302.8" stroke-width="1.08" stroke-linejoin="round"/>
<text class="l" font-size="14" text-anchor="middle" letter-spacing="0.6" transform="translate(595.65 295.34) scale(0.92 1)">25</text>
<line x1="585.8" y1="308.2" x2="636.9" y2="308.2" stroke-width="1.2"/>
<line x1="585.8" y1="333.2" x2="636.9" y2="333.2" stroke-width="1.2"/>
<line x1="605.1" y1="308.2" x2="605.1" y2="333.2" stroke-width="1.2"/>
<line x1="611.5" y1="308.2" x2="611.5" y2="333.2" stroke-width="1.2"/>
<line x1="636.3" y1="308.2" x2="636.3" y2="333.2" stroke-width="1.2"/>
<circle cx="623.9" cy="320.7" r="12.3" stroke-width="1.2" fill="none"/>
<polyline points="611.5,318.95 622.15,318.95 622.15,308.2" stroke-width="1.08" stroke-linejoin="round"/>
<polyline points="611.5,322.45 622.15,322.45 622.15,333.2" stroke-width="1.08" stroke-linejoin="round"/>
<polyline points="636.3,318.95 625.65,318.95 625.65,308.2" stroke-width="1.08" stroke-linejoin="round"/>
<polyline points="636.3,322.45 625.65,322.45 625.65,333.2" stroke-width="1.08" stroke-linejoin="round"/>
<text class="l" font-size="14" text-anchor="middle" letter-spacing="0.6" transform="translate(595.65 325.74) scale(0.92 1)">26</text>
<circle cx="563.1" cy="293.4" r="2.5" fill="#231815" stroke="none"/>
<line x1="563.1" y1="293.4" x2="581.7" y2="293.4" stroke-width="2.2"/>
<circle cx="563.1" cy="321.7" r="2.5" fill="#231815" stroke="none"/>
<line x1="563.1" y1="321.7" x2="581.7" y2="321.7" stroke-width="2.2"/>
<line x1="567.2" y1="284" x2="574.8" y2="284" stroke-width="1.3"/>
<line x1="571" y1="280.2" x2="571" y2="287.8" stroke-width="1.3"/>
<line x1="567.8" y1="327.2" x2="575" y2="327.2" stroke-width="1.3"/>
<text class="l b" font-size="11.5" text-anchor="start" transform="translate(550.2 312) scale(0.82 1)">SSR</text>
<line x1="585.2" y1="343.2" x2="636.3" y2="343.2" stroke-width="1.2"/>
<line x1="585.2" y1="368.2" x2="636.3" y2="368.2" stroke-width="1.2"/>
<line x1="604.5" y1="343.2" x2="604.5" y2="368.2" stroke-width="1.2"/>
<line x1="610.9" y1="343.2" x2="610.9" y2="368.2" stroke-width="1.2"/>
<line x1="635.7" y1="343.2" x2="635.7" y2="368.2" stroke-width="1.2"/>
<circle cx="623.3" cy="355.7" r="12.3" stroke-width="1.2" fill="none"/>
<polyline points="610.9,353.95 621.55,353.95 621.55,343.2" stroke-width="1.08" stroke-linejoin="round"/>
<polyline points="610.9,357.45 621.55,357.45 621.55,368.2" stroke-width="1.08" stroke-linejoin="round"/>
<polyline points="635.7,353.95 625.05,353.95 625.05,343.2" stroke-width="1.08" stroke-linejoin="round"/>
<polyline points="635.7,357.45 625.05,357.45 625.05,368.2" stroke-width="1.08" stroke-linejoin="round"/>
<text class="l" font-size="14" text-anchor="middle" letter-spacing="0.6" transform="translate(595.05 360.74) scale(0.92 1)">25</text>
<line x1="585.2" y1="373.4" x2="636.3" y2="373.4" stroke-width="1.2"/>
<line x1="585.2" y1="398.4" x2="636.3" y2="398.4" stroke-width="1.2"/>
<line x1="604.5" y1="373.4" x2="604.5" y2="398.4" stroke-width="1.2"/>
<line x1="610.9" y1="373.4" x2="610.9" y2="398.4" stroke-width="1.2"/>
<line x1="635.7" y1="373.4" x2="635.7" y2="398.4" stroke-width="1.2"/>
<circle cx="623.3" cy="385.9" r="12.3" stroke-width="1.2" fill="none"/>
<polyline points="610.9,384.15 621.55,384.15 621.55,373.4" stroke-width="1.08" stroke-linejoin="round"/>
<polyline points="610.9,387.65 621.55,387.65 621.55,398.4" stroke-width="1.08" stroke-linejoin="round"/>
<polyline points="635.7,384.15 625.05,384.15 625.05,373.4" stroke-width="1.08" stroke-linejoin="round"/>
<polyline points="635.7,387.65 625.05,387.65 625.05,398.4" stroke-width="1.08" stroke-linejoin="round"/>
<text class="l" font-size="14" text-anchor="middle" letter-spacing="0.6" transform="translate(595.05 390.94) scale(0.92 1)">26</text>
<circle cx="562.9" cy="357.7" r="2.5" fill="#231815" stroke="none"/>
<line x1="562.9" y1="357.7" x2="581.7" y2="357.7" stroke-width="2.2"/>
<circle cx="562.9" cy="384.6" r="2.5" fill="#231815" stroke="none"/>
<line x1="562.9" y1="384.6" x2="581.7" y2="384.6" stroke-width="2.2"/>
<text class="l b" font-size="15.3" text-anchor="middle" transform="translate(570.9 354.9) scale(0.86 1)">T</text>
<text class="l b" font-size="15" text-anchor="middle" transform="translate(571.2 397.9) scale(0.82 1)">G</text>
<text class="l b" font-size="11.5" text-anchor="start" transform="translate(550.6 375.8) scale(0.8 1)">SCR</text>
<line x1="583.2" y1="406.6" x2="634.3" y2="406.6" stroke-width="1.2"/>
<line x1="583.2" y1="430.8" x2="634.3" y2="430.8" stroke-width="1.2"/>
<line x1="602.5" y1="406.6" x2="602.5" y2="430.8" stroke-width="1.2"/>
<line x1="608.9" y1="406.6" x2="608.9" y2="430.8" stroke-width="1.2"/>
<line x1="633.7" y1="406.6" x2="633.7" y2="430.8" stroke-width="1.2"/>
<circle cx="621.3" cy="418.7" r="12" stroke-width="1.2" fill="none"/>
<polyline points="608.9,417.01 619.61,417.01 619.61,406.6" stroke-width="1.08" stroke-linejoin="round"/>
<polyline points="608.9,420.39 619.61,420.39 619.61,430.8" stroke-width="1.08" stroke-linejoin="round"/>
<polyline points="633.7,417.01 622.99,417.01 622.99,406.6" stroke-width="1.08" stroke-linejoin="round"/>
<polyline points="633.7,420.39 622.99,420.39 622.99,430.8" stroke-width="1.08" stroke-linejoin="round"/>
<text class="l" font-size="14" text-anchor="middle" letter-spacing="0.6" transform="translate(593.8 423.74) scale(0.92 1)">25</text>
<line x1="583.2" y1="435.3" x2="634.3" y2="435.3" stroke-width="1.2"/>
<line x1="583.2" y1="459.5" x2="634.3" y2="459.5" stroke-width="1.2"/>
<line x1="602.5" y1="435.3" x2="602.5" y2="459.5" stroke-width="1.2"/>
<line x1="608.9" y1="435.3" x2="608.9" y2="459.5" stroke-width="1.2"/>
<line x1="633.7" y1="435.3" x2="633.7" y2="459.5" stroke-width="1.2"/>
<circle cx="621.3" cy="447.4" r="12" stroke-width="1.2" fill="none"/>
<polyline points="608.9,445.71 619.61,445.71 619.61,435.3" stroke-width="1.08" stroke-linejoin="round"/>
<polyline points="608.9,449.09 619.61,449.09 619.61,459.5" stroke-width="1.08" stroke-linejoin="round"/>
<polyline points="633.7,445.71 622.99,445.71 622.99,435.3" stroke-width="1.08" stroke-linejoin="round"/>
<polyline points="633.7,449.09 622.99,449.09 622.99,459.5" stroke-width="1.08" stroke-linejoin="round"/>
<text class="l" font-size="14" text-anchor="middle" letter-spacing="0.6" transform="translate(593.8 452.44) scale(0.92 1)">26</text>
<polyline points="584.2,417.8 565.9,417.8 565.9,424.8" stroke-width="1.17" stroke-linejoin="miter"/>
<polyline points="584.2,446.8 565.9,446.8 565.9,438.2" stroke-width="1.17" stroke-linejoin="miter"/>
<circle cx="565.9" cy="426.3" r="1.4" stroke-width="1" fill="none"/>
<circle cx="565.9" cy="436.8" r="1.4" stroke-width="1" fill="none"/>
<line x1="566.5" y1="426.4" x2="561.7" y2="434.3" stroke-width="1.17"/>
<text class="l b" font-size="12.5" text-anchor="start" letter-spacing="1" transform="translate(545.9 439.3) scale(0.82 1)">NO</text>
<line x1="730.2" y1="278.3" x2="781.3" y2="278.3" stroke-width="1.2"/>
<line x1="730.2" y1="303.3" x2="781.3" y2="303.3" stroke-width="1.2"/>
<line x1="749.5" y1="278.3" x2="749.5" y2="303.3" stroke-width="1.2"/>
<line x1="755.9" y1="278.3" x2="755.9" y2="303.3" stroke-width="1.2"/>
<line x1="780.7" y1="278.3" x2="780.7" y2="303.3" stroke-width="1.2"/>
<circle cx="768.3" cy="290.8" r="12.3" stroke-width="1.2" fill="none"/>
<polyline points="755.9,289.05 766.55,289.05 766.55,278.3" stroke-width="1.08" stroke-linejoin="round"/>
<polyline points="755.9,292.55 766.55,292.55 766.55,303.3" stroke-width="1.08" stroke-linejoin="round"/>
<polyline points="780.7,289.05 770.05,289.05 770.05,278.3" stroke-width="1.08" stroke-linejoin="round"/>
<polyline points="780.7,292.55 770.05,292.55 770.05,303.3" stroke-width="1.08" stroke-linejoin="round"/>
<text class="l" font-size="14" text-anchor="middle" letter-spacing="0.6" transform="translate(740.05 295.84) scale(0.92 1)">27</text>
<line x1="730.2" y1="308.3" x2="781.3" y2="308.3" stroke-width="1.2"/>
<line x1="730.2" y1="333.3" x2="781.3" y2="333.3" stroke-width="1.2"/>
<line x1="749.5" y1="308.3" x2="749.5" y2="333.3" stroke-width="1.2"/>
<line x1="755.9" y1="308.3" x2="755.9" y2="333.3" stroke-width="1.2"/>
<line x1="780.7" y1="308.3" x2="780.7" y2="333.3" stroke-width="1.2"/>
<circle cx="768.3" cy="320.8" r="12.3" stroke-width="1.2" fill="none"/>
<polyline points="755.9,319.05 766.55,319.05 766.55,308.3" stroke-width="1.08" stroke-linejoin="round"/>
<polyline points="755.9,322.55 766.55,322.55 766.55,333.3" stroke-width="1.08" stroke-linejoin="round"/>
<polyline points="780.7,319.05 770.05,319.05 770.05,308.3" stroke-width="1.08" stroke-linejoin="round"/>
<polyline points="780.7,322.55 770.05,322.55 770.05,333.3" stroke-width="1.08" stroke-linejoin="round"/>
<text class="l" font-size="14" text-anchor="middle" letter-spacing="0.6" transform="translate(740.05 325.84) scale(0.92 1)">28</text>
<polyline points="704.6,288.4 724.8,288.4 724.8,319 704.6,319" stroke-width="1.3" stroke-linejoin="miter"/>
<polygon points="701.6,288.4 706.4,286 706.4,290.8" fill="#231815" stroke="none"/>
<polygon points="701.6,319 706.4,316.6 706.4,321.4" fill="#231815" stroke="none"/>
<circle cx="724.8" cy="303.5" r="4.6" stroke-width="1.3" fill="none"/>
<polygon points="724.8,306.3 722.6,302.3 727,302.3" fill="#231815" stroke="none"/>
<line x1="706.8" y1="280.3" x2="715.2" y2="280.3" stroke-width="1.3"/>
<line x1="711" y1="276.1" x2="711" y2="284.5" stroke-width="1.3"/>
<line x1="706.3" y1="325.8" x2="714.3" y2="325.8" stroke-width="1.3"/>
<text class="l b" font-size="11.5" text-anchor="start" transform="translate(687.2 307.6) scale(0.8 1)">mA</text>
<line x1="730.2" y1="343.2" x2="781.3" y2="343.2" stroke-width="1.2"/>
<line x1="730.2" y1="368.2" x2="781.3" y2="368.2" stroke-width="1.2"/>
<line x1="749.5" y1="343.2" x2="749.5" y2="368.2" stroke-width="1.2"/>
<line x1="755.9" y1="343.2" x2="755.9" y2="368.2" stroke-width="1.2"/>
<line x1="780.7" y1="343.2" x2="780.7" y2="368.2" stroke-width="1.2"/>
<circle cx="768.3" cy="355.7" r="12.3" stroke-width="1.2" fill="none"/>
<polyline points="755.9,353.95 766.55,353.95 766.55,343.2" stroke-width="1.08" stroke-linejoin="round"/>
<polyline points="755.9,357.45 766.55,357.45 766.55,368.2" stroke-width="1.08" stroke-linejoin="round"/>
<polyline points="780.7,353.95 770.05,353.95 770.05,343.2" stroke-width="1.08" stroke-linejoin="round"/>
<polyline points="780.7,357.45 770.05,357.45 770.05,368.2" stroke-width="1.08" stroke-linejoin="round"/>
<text class="l" font-size="14" text-anchor="middle" letter-spacing="0.6" transform="translate(740.05 360.74) scale(0.92 1)">27</text>
<line x1="730.2" y1="373.6" x2="781.3" y2="373.6" stroke-width="1.2"/>
<line x1="730.2" y1="398.6" x2="781.3" y2="398.6" stroke-width="1.2"/>
<line x1="749.5" y1="373.6" x2="749.5" y2="398.6" stroke-width="1.2"/>
<line x1="755.9" y1="373.6" x2="755.9" y2="398.6" stroke-width="1.2"/>
<line x1="780.7" y1="373.6" x2="780.7" y2="398.6" stroke-width="1.2"/>
<circle cx="768.3" cy="386.1" r="12.3" stroke-width="1.2" fill="none"/>
<polyline points="755.9,384.35 766.55,384.35 766.55,373.6" stroke-width="1.08" stroke-linejoin="round"/>
<polyline points="755.9,387.85 766.55,387.85 766.55,398.6" stroke-width="1.08" stroke-linejoin="round"/>
<polyline points="780.7,384.35 770.05,384.35 770.05,373.6" stroke-width="1.08" stroke-linejoin="round"/>
<polyline points="780.7,387.85 770.05,387.85 770.05,398.6" stroke-width="1.08" stroke-linejoin="round"/>
<text class="l" font-size="14" text-anchor="middle" letter-spacing="0.6" transform="translate(740.05 391.14) scale(0.92 1)">28</text>
<polyline points="700.2,355.95 721.3,355.95 721.3,368.45" stroke-width="1.3" stroke-linejoin="miter"/>
<polyline points="721.3,373.95 721.3,386.95 700.2,386.95" stroke-width="1.3" stroke-linejoin="miter"/>
<line x1="717" y1="368.45" x2="725.6" y2="368.45" stroke-width="1.3"/>
<line x1="718.7" y1="373.95" x2="723.9" y2="373.95" stroke-width="1.3"/>
<polygon points="697.2,355.95 702,353.55 702,358.35" fill="#231815" stroke="none"/>
<polygon points="697.2,386.95 702,384.55 702,389.35" fill="#231815" stroke="none"/>
<line x1="701.6" y1="347.7" x2="710" y2="347.7" stroke-width="1.3"/>
<line x1="705.8" y1="343.5" x2="705.8" y2="351.9" stroke-width="1.3"/>
<line x1="702.3" y1="395.7" x2="710.3" y2="395.7" stroke-width="1.3"/>
<text class="l b" font-size="12" text-anchor="start" transform="translate(690.7 377.2) scale(0.8 1)">V</text>
<line x1="730.2" y1="407" x2="781.3" y2="407" stroke-width="1.2"/>
<line x1="730.2" y1="431.2" x2="781.3" y2="431.2" stroke-width="1.2"/>
<line x1="749.5" y1="407" x2="749.5" y2="431.2" stroke-width="1.2"/>
<line x1="755.9" y1="407" x2="755.9" y2="431.2" stroke-width="1.2"/>
<line x1="780.7" y1="407" x2="780.7" y2="431.2" stroke-width="1.2"/>
<circle cx="768.3" cy="419.1" r="12" stroke-width="1.2" fill="none"/>
<polyline points="755.9,417.41 766.61,417.41 766.61,407" stroke-width="1.08" stroke-linejoin="round"/>
<polyline points="755.9,420.79 766.61,420.79 766.61,431.2" stroke-width="1.08" stroke-linejoin="round"/>
<polyline points="780.7,417.41 769.99,417.41 769.99,407" stroke-width="1.08" stroke-linejoin="round"/>
<polyline points="780.7,420.79 769.99,420.79 769.99,431.2" stroke-width="1.08" stroke-linejoin="round"/>
<text class="l" font-size="14" text-anchor="middle" letter-spacing="0.6" transform="translate(740.8 424.14) scale(0.92 1)">27</text>
<line x1="730.2" y1="436" x2="781.3" y2="436" stroke-width="1.2"/>
<line x1="730.2" y1="460.2" x2="781.3" y2="460.2" stroke-width="1.2"/>
<line x1="749.5" y1="436" x2="749.5" y2="460.2" stroke-width="1.2"/>
<line x1="755.9" y1="436" x2="755.9" y2="460.2" stroke-width="1.2"/>
<line x1="780.7" y1="436" x2="780.7" y2="460.2" stroke-width="1.2"/>
<circle cx="768.3" cy="448.1" r="12" stroke-width="1.2" fill="none"/>
<polyline points="755.9,446.41 766.61,446.41 766.61,436" stroke-width="1.08" stroke-linejoin="round"/>
<polyline points="755.9,449.79 766.61,449.79 766.61,460.2" stroke-width="1.08" stroke-linejoin="round"/>
<polyline points="780.7,446.41 769.99,446.41 769.99,436" stroke-width="1.08" stroke-linejoin="round"/>
<polyline points="780.7,449.79 769.99,449.79 769.99,460.2" stroke-width="1.08" stroke-linejoin="round"/>
<text class="l" font-size="14" text-anchor="middle" letter-spacing="0.6" transform="translate(740.8 453.14) scale(0.92 1)">28</text>
<polyline points="731.2,418.2 712.9,418.2 712.9,425.2" stroke-width="1.17" stroke-linejoin="miter"/>
<polyline points="731.2,447.5 712.9,447.5 712.9,438.9" stroke-width="1.17" stroke-linejoin="miter"/>
<circle cx="712.9" cy="426.7" r="1.4" stroke-width="1" fill="none"/>
<circle cx="712.9" cy="437.5" r="1.4" stroke-width="1" fill="none"/>
<line x1="713.5" y1="426.8" x2="708.7" y2="434.7" stroke-width="1.17"/>
<text class="l b" font-size="12.5" text-anchor="start" letter-spacing="1" transform="translate(689.7 439.7) scale(0.82 1)">NO</text>
<line x1="844.3" y1="278.3" x2="895.4" y2="278.3" stroke-width="1.2"/>
<line x1="844.3" y1="303.3" x2="895.4" y2="303.3" stroke-width="1.2"/>
<line x1="863.6" y1="278.3" x2="863.6" y2="303.3" stroke-width="1.2"/>
<line x1="870" y1="278.3" x2="870" y2="303.3" stroke-width="1.2"/>
<line x1="894.8" y1="278.3" x2="894.8" y2="303.3" stroke-width="1.2"/>
<circle cx="882.4" cy="290.8" r="12.3" stroke-width="1.2" fill="none"/>
<polyline points="870,289.05 880.65,289.05 880.65,278.3" stroke-width="1.08" stroke-linejoin="round"/>
<polyline points="870,292.55 880.65,292.55 880.65,303.3" stroke-width="1.08" stroke-linejoin="round"/>
<polyline points="894.8,289.05 884.15,289.05 884.15,278.3" stroke-width="1.08" stroke-linejoin="round"/>
<polyline points="894.8,292.55 884.15,292.55 884.15,303.3" stroke-width="1.08" stroke-linejoin="round"/>
<text class="l" font-size="14" text-anchor="middle" letter-spacing="0.6" transform="translate(854.15 295.84) scale(0.92 1)">29</text>
<line x1="844.3" y1="308.3" x2="895.4" y2="308.3" stroke-width="1.2"/>
<line x1="844.3" y1="333.3" x2="895.4" y2="333.3" stroke-width="1.2"/>
<line x1="863.6" y1="308.3" x2="863.6" y2="333.3" stroke-width="1.2"/>
<line x1="870" y1="308.3" x2="870" y2="333.3" stroke-width="1.2"/>
<line x1="894.8" y1="308.3" x2="894.8" y2="333.3" stroke-width="1.2"/>
<circle cx="882.4" cy="320.8" r="12.3" stroke-width="1.2" fill="none"/>
<polyline points="870,319.05 880.65,319.05 880.65,308.3" stroke-width="1.08" stroke-linejoin="round"/>
<polyline points="870,322.55 880.65,322.55 880.65,333.3" stroke-width="1.08" stroke-linejoin="round"/>
<polyline points="894.8,319.05 884.15,319.05 884.15,308.3" stroke-width="1.08" stroke-linejoin="round"/>
<polyline points="894.8,322.55 884.15,322.55 884.15,333.3" stroke-width="1.08" stroke-linejoin="round"/>
<text class="l" font-size="14" text-anchor="middle" letter-spacing="0.6" transform="translate(854.15 325.84) scale(0.92 1)">30</text>
<polyline points="818.7,288.4 838.9,288.4 838.9,319 818.7,319" stroke-width="1.3" stroke-linejoin="miter"/>
<polygon points="815.7,288.4 820.5,286 820.5,290.8" fill="#231815" stroke="none"/>
<polygon points="815.7,319 820.5,316.6 820.5,321.4" fill="#231815" stroke="none"/>
<circle cx="838.9" cy="303.5" r="4.6" stroke-width="1.3" fill="none"/>
<polygon points="838.9,306.3 836.7,302.3 841.1,302.3" fill="#231815" stroke="none"/>
<line x1="820.9" y1="280.3" x2="829.3" y2="280.3" stroke-width="1.3"/>
<line x1="825.1" y1="276.1" x2="825.1" y2="284.5" stroke-width="1.3"/>
<line x1="820.4" y1="325.8" x2="828.4" y2="325.8" stroke-width="1.3"/>
<text class="l b" font-size="11.5" text-anchor="start" transform="translate(801.3 307.6) scale(0.8 1)">mA</text>
<line x1="844.3" y1="343.2" x2="895.4" y2="343.2" stroke-width="1.2"/>
<line x1="844.3" y1="368.2" x2="895.4" y2="368.2" stroke-width="1.2"/>
<line x1="863.6" y1="343.2" x2="863.6" y2="368.2" stroke-width="1.2"/>
<line x1="870" y1="343.2" x2="870" y2="368.2" stroke-width="1.2"/>
<line x1="894.8" y1="343.2" x2="894.8" y2="368.2" stroke-width="1.2"/>
<circle cx="882.4" cy="355.7" r="12.3" stroke-width="1.2" fill="none"/>
<polyline points="870,353.95 880.65,353.95 880.65,343.2" stroke-width="1.08" stroke-linejoin="round"/>
<polyline points="870,357.45 880.65,357.45 880.65,368.2" stroke-width="1.08" stroke-linejoin="round"/>
<polyline points="894.8,353.95 884.15,353.95 884.15,343.2" stroke-width="1.08" stroke-linejoin="round"/>
<polyline points="894.8,357.45 884.15,357.45 884.15,368.2" stroke-width="1.08" stroke-linejoin="round"/>
<text class="l" font-size="14" text-anchor="middle" letter-spacing="0.6" transform="translate(854.15 360.74) scale(0.92 1)">29</text>
<line x1="844.3" y1="373.6" x2="895.4" y2="373.6" stroke-width="1.2"/>
<line x1="844.3" y1="398.6" x2="895.4" y2="398.6" stroke-width="1.2"/>
<line x1="863.6" y1="373.6" x2="863.6" y2="398.6" stroke-width="1.2"/>
<line x1="870" y1="373.6" x2="870" y2="398.6" stroke-width="1.2"/>
<line x1="894.8" y1="373.6" x2="894.8" y2="398.6" stroke-width="1.2"/>
<circle cx="882.4" cy="386.1" r="12.3" stroke-width="1.2" fill="none"/>
<polyline points="870,384.35 880.65,384.35 880.65,373.6" stroke-width="1.08" stroke-linejoin="round"/>
<polyline points="870,387.85 880.65,387.85 880.65,398.6" stroke-width="1.08" stroke-linejoin="round"/>
<polyline points="894.8,384.35 884.15,384.35 884.15,373.6" stroke-width="1.08" stroke-linejoin="round"/>
<polyline points="894.8,387.85 884.15,387.85 884.15,398.6" stroke-width="1.08" stroke-linejoin="round"/>
<text class="l" font-size="14" text-anchor="middle" letter-spacing="0.6" transform="translate(854.15 391.14) scale(0.92 1)">30</text>
<polyline points="814.3,355.95 835.4,355.95 835.4,368.45" stroke-width="1.3" stroke-linejoin="miter"/>
<polyline points="835.4,373.95 835.4,386.95 814.3,386.95" stroke-width="1.3" stroke-linejoin="miter"/>
<line x1="831.1" y1="368.45" x2="839.7" y2="368.45" stroke-width="1.3"/>
<line x1="832.8" y1="373.95" x2="838" y2="373.95" stroke-width="1.3"/>
<polygon points="811.3,355.95 816.1,353.55 816.1,358.35" fill="#231815" stroke="none"/>
<polygon points="811.3,386.95 816.1,384.55 816.1,389.35" fill="#231815" stroke="none"/>
<line x1="815.7" y1="347.7" x2="824.1" y2="347.7" stroke-width="1.3"/>
<line x1="819.9" y1="343.5" x2="819.9" y2="351.9" stroke-width="1.3"/>
<line x1="816.4" y1="395.7" x2="824.4" y2="395.7" stroke-width="1.3"/>
<text class="l b" font-size="12" text-anchor="start" transform="translate(804.8 377.2) scale(0.8 1)">V</text>
<line x1="844.3" y1="407" x2="895.4" y2="407" stroke-width="1.2"/>
<line x1="844.3" y1="431.2" x2="895.4" y2="431.2" stroke-width="1.2"/>
<line x1="863.6" y1="407" x2="863.6" y2="431.2" stroke-width="1.2"/>
<line x1="870" y1="407" x2="870" y2="431.2" stroke-width="1.2"/>
<line x1="894.8" y1="407" x2="894.8" y2="431.2" stroke-width="1.2"/>
<circle cx="882.4" cy="419.1" r="12" stroke-width="1.2" fill="none"/>
<polyline points="870,417.41 880.71,417.41 880.71,407" stroke-width="1.08" stroke-linejoin="round"/>
<polyline points="870,420.79 880.71,420.79 880.71,431.2" stroke-width="1.08" stroke-linejoin="round"/>
<polyline points="894.8,417.41 884.09,417.41 884.09,407" stroke-width="1.08" stroke-linejoin="round"/>
<polyline points="894.8,420.79 884.09,420.79 884.09,431.2" stroke-width="1.08" stroke-linejoin="round"/>
<text class="l" font-size="14" text-anchor="middle" letter-spacing="0.6" transform="translate(854.9 424.14) scale(0.92 1)">29</text>
<line x1="844.3" y1="436" x2="895.4" y2="436" stroke-width="1.2"/>
<line x1="844.3" y1="460.2" x2="895.4" y2="460.2" stroke-width="1.2"/>
<line x1="863.6" y1="436" x2="863.6" y2="460.2" stroke-width="1.2"/>
<line x1="870" y1="436" x2="870" y2="460.2" stroke-width="1.2"/>
<line x1="894.8" y1="436" x2="894.8" y2="460.2" stroke-width="1.2"/>
<circle cx="882.4" cy="448.1" r="12" stroke-width="1.2" fill="none"/>
<polyline points="870,446.41 880.71,446.41 880.71,436" stroke-width="1.08" stroke-linejoin="round"/>
<polyline points="870,449.79 880.71,449.79 880.71,460.2" stroke-width="1.08" stroke-linejoin="round"/>
<polyline points="894.8,446.41 884.09,446.41 884.09,436" stroke-width="1.08" stroke-linejoin="round"/>
<polyline points="894.8,449.79 884.09,449.79 884.09,460.2" stroke-width="1.08" stroke-linejoin="round"/>
<text class="l" font-size="14" text-anchor="middle" letter-spacing="0.6" transform="translate(854.9 453.14) scale(0.92 1)">30</text>
<polyline points="845.3,418.2 827,418.2 827,425.2" stroke-width="1.17" stroke-linejoin="miter"/>
<polyline points="845.3,447.5 827,447.5 827,438.9" stroke-width="1.17" stroke-linejoin="miter"/>
<circle cx="827" cy="426.7" r="1.4" stroke-width="1" fill="none"/>
<circle cx="827" cy="437.5" r="1.4" stroke-width="1" fill="none"/>
<line x1="827.6" y1="426.8" x2="822.8" y2="434.7" stroke-width="1.17"/>
<text class="l b" font-size="12.5" text-anchor="start" letter-spacing="1" transform="translate(803.8 439.7) scale(0.82 1)">NO</text>
<line x1="962.8" y1="278.3" x2="1013.9" y2="278.3" stroke-width="1.2"/>
<line x1="962.8" y1="303.3" x2="1013.9" y2="303.3" stroke-width="1.2"/>
<line x1="982.1" y1="278.3" x2="982.1" y2="303.3" stroke-width="1.2"/>
<line x1="988.5" y1="278.3" x2="988.5" y2="303.3" stroke-width="1.2"/>
<line x1="1013.3" y1="278.3" x2="1013.3" y2="303.3" stroke-width="1.2"/>
<circle cx="1000.9" cy="290.8" r="12.3" stroke-width="1.2" fill="none"/>
<polyline points="988.5,289.05 999.15,289.05 999.15,278.3" stroke-width="1.08" stroke-linejoin="round"/>
<polyline points="988.5,292.55 999.15,292.55 999.15,303.3" stroke-width="1.08" stroke-linejoin="round"/>
<polyline points="1013.3,289.05 1002.65,289.05 1002.65,278.3" stroke-width="1.08" stroke-linejoin="round"/>
<polyline points="1013.3,292.55 1002.65,292.55 1002.65,303.3" stroke-width="1.08" stroke-linejoin="round"/>
<text class="l" font-size="14" text-anchor="middle" letter-spacing="0.6" transform="translate(972.65 295.84) scale(0.92 1)">31</text>
<line x1="962.8" y1="308.3" x2="1013.9" y2="308.3" stroke-width="1.2"/>
<line x1="962.8" y1="333.3" x2="1013.9" y2="333.3" stroke-width="1.2"/>
<line x1="982.1" y1="308.3" x2="982.1" y2="333.3" stroke-width="1.2"/>
<line x1="988.5" y1="308.3" x2="988.5" y2="333.3" stroke-width="1.2"/>
<line x1="1013.3" y1="308.3" x2="1013.3" y2="333.3" stroke-width="1.2"/>
<circle cx="1000.9" cy="320.8" r="12.3" stroke-width="1.2" fill="none"/>
<polyline points="988.5,319.05 999.15,319.05 999.15,308.3" stroke-width="1.08" stroke-linejoin="round"/>
<polyline points="988.5,322.55 999.15,322.55 999.15,333.3" stroke-width="1.08" stroke-linejoin="round"/>
<polyline points="1013.3,319.05 1002.65,319.05 1002.65,308.3" stroke-width="1.08" stroke-linejoin="round"/>
<polyline points="1013.3,322.55 1002.65,322.55 1002.65,333.3" stroke-width="1.08" stroke-linejoin="round"/>
<text class="l" font-size="14" text-anchor="middle" letter-spacing="0.6" transform="translate(972.65 325.84) scale(0.92 1)">32</text>
<polyline points="937.2,288.4 957.4,288.4 957.4,319 937.2,319" stroke-width="1.3" stroke-linejoin="miter"/>
<polygon points="934.2,288.4 939,286 939,290.8" fill="#231815" stroke="none"/>
<polygon points="934.2,319 939,316.6 939,321.4" fill="#231815" stroke="none"/>
<circle cx="957.4" cy="303.5" r="4.6" stroke-width="1.3" fill="none"/>
<polygon points="957.4,306.3 955.2,302.3 959.6,302.3" fill="#231815" stroke="none"/>
<line x1="939.4" y1="280.3" x2="947.8" y2="280.3" stroke-width="1.3"/>
<line x1="943.6" y1="276.1" x2="943.6" y2="284.5" stroke-width="1.3"/>
<line x1="938.9" y1="325.8" x2="946.9" y2="325.8" stroke-width="1.3"/>
<text class="l b" font-size="11.5" text-anchor="start" transform="translate(919.8 307.6) scale(0.8 1)">mA</text>
<line x1="962.8" y1="343.2" x2="1013.9" y2="343.2" stroke-width="1.2"/>
<line x1="962.8" y1="368.2" x2="1013.9" y2="368.2" stroke-width="1.2"/>
<line x1="982.1" y1="343.2" x2="982.1" y2="368.2" stroke-width="1.2"/>
<line x1="988.5" y1="343.2" x2="988.5" y2="368.2" stroke-width="1.2"/>
<line x1="1013.3" y1="343.2" x2="1013.3" y2="368.2" stroke-width="1.2"/>
<circle cx="1000.9" cy="355.7" r="12.3" stroke-width="1.2" fill="none"/>
<polyline points="988.5,353.95 999.15,353.95 999.15,343.2" stroke-width="1.08" stroke-linejoin="round"/>
<polyline points="988.5,357.45 999.15,357.45 999.15,368.2" stroke-width="1.08" stroke-linejoin="round"/>
<polyline points="1013.3,353.95 1002.65,353.95 1002.65,343.2" stroke-width="1.08" stroke-linejoin="round"/>
<polyline points="1013.3,357.45 1002.65,357.45 1002.65,368.2" stroke-width="1.08" stroke-linejoin="round"/>
<text class="l" font-size="14" text-anchor="middle" letter-spacing="0.6" transform="translate(972.65 360.74) scale(0.92 1)">31</text>
<line x1="962.8" y1="373.6" x2="1013.9" y2="373.6" stroke-width="1.2"/>
<line x1="962.8" y1="398.6" x2="1013.9" y2="398.6" stroke-width="1.2"/>
<line x1="982.1" y1="373.6" x2="982.1" y2="398.6" stroke-width="1.2"/>
<line x1="988.5" y1="373.6" x2="988.5" y2="398.6" stroke-width="1.2"/>
<line x1="1013.3" y1="373.6" x2="1013.3" y2="398.6" stroke-width="1.2"/>
<circle cx="1000.9" cy="386.1" r="12.3" stroke-width="1.2" fill="none"/>
<polyline points="988.5,384.35 999.15,384.35 999.15,373.6" stroke-width="1.08" stroke-linejoin="round"/>
<polyline points="988.5,387.85 999.15,387.85 999.15,398.6" stroke-width="1.08" stroke-linejoin="round"/>
<polyline points="1013.3,384.35 1002.65,384.35 1002.65,373.6" stroke-width="1.08" stroke-linejoin="round"/>
<polyline points="1013.3,387.85 1002.65,387.85 1002.65,398.6" stroke-width="1.08" stroke-linejoin="round"/>
<text class="l" font-size="14" text-anchor="middle" letter-spacing="0.6" transform="translate(972.65 391.14) scale(0.92 1)">32</text>
<polyline points="932.8,355.95 953.9,355.95 953.9,368.45" stroke-width="1.3" stroke-linejoin="miter"/>
<polyline points="953.9,373.95 953.9,386.95 932.8,386.95" stroke-width="1.3" stroke-linejoin="miter"/>
<line x1="949.6" y1="368.45" x2="958.2" y2="368.45" stroke-width="1.3"/>
<line x1="951.3" y1="373.95" x2="956.5" y2="373.95" stroke-width="1.3"/>
<polygon points="929.8,355.95 934.6,353.55 934.6,358.35" fill="#231815" stroke="none"/>
<polygon points="929.8,386.95 934.6,384.55 934.6,389.35" fill="#231815" stroke="none"/>
<line x1="934.2" y1="347.7" x2="942.6" y2="347.7" stroke-width="1.3"/>
<line x1="938.4" y1="343.5" x2="938.4" y2="351.9" stroke-width="1.3"/>
<line x1="934.9" y1="395.7" x2="942.9" y2="395.7" stroke-width="1.3"/>
<text class="l b" font-size="12" text-anchor="start" transform="translate(923.3 377.2) scale(0.8 1)">V</text>
<line x1="962.8" y1="407" x2="1013.9" y2="407" stroke-width="1.2"/>
<line x1="962.8" y1="431.2" x2="1013.9" y2="431.2" stroke-width="1.2"/>
<line x1="982.1" y1="407" x2="982.1" y2="431.2" stroke-width="1.2"/>
<line x1="988.5" y1="407" x2="988.5" y2="431.2" stroke-width="1.2"/>
<line x1="1013.3" y1="407" x2="1013.3" y2="431.2" stroke-width="1.2"/>
<circle cx="1000.9" cy="419.1" r="12" stroke-width="1.2" fill="none"/>
<polyline points="988.5,417.41 999.21,417.41 999.21,407" stroke-width="1.08" stroke-linejoin="round"/>
<polyline points="988.5,420.79 999.21,420.79 999.21,431.2" stroke-width="1.08" stroke-linejoin="round"/>
<polyline points="1013.3,417.41 1002.59,417.41 1002.59,407" stroke-width="1.08" stroke-linejoin="round"/>
<polyline points="1013.3,420.79 1002.59,420.79 1002.59,431.2" stroke-width="1.08" stroke-linejoin="round"/>
<text class="l" font-size="14" text-anchor="middle" letter-spacing="0.6" transform="translate(973.4 424.14) scale(0.92 1)">31</text>
<line x1="962.8" y1="436" x2="1013.9" y2="436" stroke-width="1.2"/>
<line x1="962.8" y1="460.2" x2="1013.9" y2="460.2" stroke-width="1.2"/>
<line x1="982.1" y1="436" x2="982.1" y2="460.2" stroke-width="1.2"/>
<line x1="988.5" y1="436" x2="988.5" y2="460.2" stroke-width="1.2"/>
<line x1="1013.3" y1="436" x2="1013.3" y2="460.2" stroke-width="1.2"/>
<circle cx="1000.9" cy="448.1" r="12" stroke-width="1.2" fill="none"/>
<polyline points="988.5,446.41 999.21,446.41 999.21,436" stroke-width="1.08" stroke-linejoin="round"/>
<polyline points="988.5,449.79 999.21,449.79 999.21,460.2" stroke-width="1.08" stroke-linejoin="round"/>
<polyline points="1013.3,446.41 1002.59,446.41 1002.59,436" stroke-width="1.08" stroke-linejoin="round"/>
<polyline points="1013.3,449.79 1002.59,449.79 1002.59,460.2" stroke-width="1.08" stroke-linejoin="round"/>
<text class="l" font-size="14" text-anchor="middle" letter-spacing="0.6" transform="translate(973.4 453.14) scale(0.92 1)">32</text>
<polyline points="963.8,418.2 945.5,418.2 945.5,425.2" stroke-width="1.17" stroke-linejoin="miter"/>
<polyline points="963.8,447.5 945.5,447.5 945.5,438.9" stroke-width="1.17" stroke-linejoin="miter"/>
<circle cx="945.5" cy="426.7" r="1.4" stroke-width="1" fill="none"/>
<circle cx="945.5" cy="437.5" r="1.4" stroke-width="1" fill="none"/>
<line x1="946.1" y1="426.8" x2="941.3" y2="434.7" stroke-width="1.17"/>
<text class="l b" font-size="12.5" text-anchor="start" letter-spacing="1" transform="translate(922.3 439.7) scale(0.82 1)">NO</text>
<rect x="809" y="502.6" width="223" height="270.4" stroke-width="2.4" fill="none"/>
<line x1="809" y1="527.2" x2="1032" y2="527.2" stroke-width="1.3"/>
<line x1="809" y1="570.8" x2="1032" y2="570.8" stroke-width="1.3"/>
<line x1="918" y1="527.2" x2="918" y2="773" stroke-width="1.3"/>
<text class="s" x="902.4" y="521.4" font-size="17.3" text-anchor="start" letter-spacing="1.8">模式<tspan class="d" font-size="17.47" dx="-1.6">3</tspan></text>
<text class="s" x="819.3" y="548.6" font-size="17.3" text-anchor="start" letter-spacing="2.1">三相可控硅</text>
<text class="s" font-size="17.3" text-anchor="start" letter-spacing="2" transform="translate(819.5 566.6) scale(1 0.92)">控制输出</text>
<text class="s" x="931" y="548.6" font-size="17.3" text-anchor="start" letter-spacing="2.2">变送输出<tspan class="d" font-size="17.47" dx="-2">1</tspan></text>
<text class="s" font-size="17.3" text-anchor="start" letter-spacing="2.2" transform="translate(931 566.6) scale(1 0.9)">/报警<tspan class="d" font-size="17.47" dx="-2">6</tspan></text>
<line x1="852.8" y1="584.2" x2="903.9" y2="584.2" stroke-width="1.2"/>
<line x1="852.8" y1="609.2" x2="903.9" y2="609.2" stroke-width="1.2"/>
<line x1="872.1" y1="584.2" x2="872.1" y2="609.2" stroke-width="1.2"/>
<line x1="878.5" y1="584.2" x2="878.5" y2="609.2" stroke-width="1.2"/>
<line x1="903.3" y1="584.2" x2="903.3" y2="609.2" stroke-width="1.2"/>
<circle cx="890.9" cy="596.7" r="12.3" stroke-width="1.2" fill="none"/>
<polyline points="878.5,594.95 889.15,594.95 889.15,584.2" stroke-width="1.08" stroke-linejoin="round"/>
<polyline points="878.5,598.45 889.15,598.45 889.15,609.2" stroke-width="1.08" stroke-linejoin="round"/>
<polyline points="903.3,594.95 892.65,594.95 892.65,584.2" stroke-width="1.08" stroke-linejoin="round"/>
<polyline points="903.3,598.45 892.65,598.45 892.65,609.2" stroke-width="1.08" stroke-linejoin="round"/>
<text class="l" font-size="14" text-anchor="middle" letter-spacing="0.6" transform="translate(862.65 601.74) scale(0.92 1)">25</text>
<line x1="852.8" y1="614.7" x2="903.9" y2="614.7" stroke-width="1.2"/>
<line x1="852.8" y1="639.7" x2="903.9" y2="639.7" stroke-width="1.2"/>
<line x1="872.1" y1="614.7" x2="872.1" y2="639.7" stroke-width="1.2"/>
<line x1="878.5" y1="614.7" x2="878.5" y2="639.7" stroke-width="1.2"/>
<line x1="903.3" y1="614.7" x2="903.3" y2="639.7" stroke-width="1.2"/>
<circle cx="890.9" cy="627.2" r="12.3" stroke-width="1.2" fill="none"/>
<polyline points="878.5,625.45 889.15,625.45 889.15,614.7" stroke-width="1.08" stroke-linejoin="round"/>
<polyline points="878.5,628.95 889.15,628.95 889.15,639.7" stroke-width="1.08" stroke-linejoin="round"/>
<polyline points="903.3,625.45 892.65,625.45 892.65,614.7" stroke-width="1.08" stroke-linejoin="round"/>
<polyline points="903.3,628.95 892.65,628.95 892.65,639.7" stroke-width="1.08" stroke-linejoin="round"/>
<text class="l" font-size="14" text-anchor="middle" letter-spacing="0.6" transform="translate(862.65 632.24) scale(0.92 1)">26</text>
<circle cx="830.5" cy="598.7" r="2.5" fill="#231815" stroke="none"/>
<line x1="830.5" y1="598.7" x2="849.3" y2="598.7" stroke-width="2.2"/>
<circle cx="830.5" cy="625.6" r="2.5" fill="#231815" stroke="none"/>
<line x1="830.5" y1="625.6" x2="849.3" y2="625.6" stroke-width="2.2"/>
<text class="l b" font-size="15.3" text-anchor="middle" transform="translate(838.5 595.9) scale(0.86 1)">T</text>
<text class="l b" font-size="15" text-anchor="middle" transform="translate(838.8 638.9) scale(0.82 1)">G</text>
<text class="l b" font-size="11.5" text-anchor="start" transform="translate(818.2 616.8) scale(0.8 1)">SCR1</text>
<line x1="852.8" y1="646.8" x2="903.9" y2="646.8" stroke-width="1.2"/>
<line x1="852.8" y1="671.8" x2="903.9" y2="671.8" stroke-width="1.2"/>
<line x1="872.1" y1="646.8" x2="872.1" y2="671.8" stroke-width="1.2"/>
<line x1="878.5" y1="646.8" x2="878.5" y2="671.8" stroke-width="1.2"/>
<line x1="903.3" y1="646.8" x2="903.3" y2="671.8" stroke-width="1.2"/>
<circle cx="890.9" cy="659.3" r="12.3" stroke-width="1.2" fill="none"/>
<polyline points="878.5,657.55 889.15,657.55 889.15,646.8" stroke-width="1.08" stroke-linejoin="round"/>
<polyline points="878.5,661.05 889.15,661.05 889.15,671.8" stroke-width="1.08" stroke-linejoin="round"/>
<polyline points="903.3,657.55 892.65,657.55 892.65,646.8" stroke-width="1.08" stroke-linejoin="round"/>
<polyline points="903.3,661.05 892.65,661.05 892.65,671.8" stroke-width="1.08" stroke-linejoin="round"/>
<text class="l" font-size="14" text-anchor="middle" letter-spacing="0.6" transform="translate(862.65 664.34) scale(0.92 1)">27</text>
<line x1="852.8" y1="677.3" x2="903.9" y2="677.3" stroke-width="1.2"/>
<line x1="852.8" y1="702.3" x2="903.9" y2="702.3" stroke-width="1.2"/>
<line x1="872.1" y1="677.3" x2="872.1" y2="702.3" stroke-width="1.2"/>
<line x1="878.5" y1="677.3" x2="878.5" y2="702.3" stroke-width="1.2"/>
<line x1="903.3" y1="677.3" x2="903.3" y2="702.3" stroke-width="1.2"/>
<circle cx="890.9" cy="689.8" r="12.3" stroke-width="1.2" fill="none"/>
<polyline points="878.5,688.05 889.15,688.05 889.15,677.3" stroke-width="1.08" stroke-linejoin="round"/>
<polyline points="878.5,691.55 889.15,691.55 889.15,702.3" stroke-width="1.08" stroke-linejoin="round"/>
<polyline points="903.3,688.05 892.65,688.05 892.65,677.3" stroke-width="1.08" stroke-linejoin="round"/>
<polyline points="903.3,691.55 892.65,691.55 892.65,702.3" stroke-width="1.08" stroke-linejoin="round"/>
<text class="l" font-size="14" text-anchor="middle" letter-spacing="0.6" transform="translate(862.65 694.84) scale(0.92 1)">28</text>
<circle cx="830.5" cy="661.3" r="2.5" fill="#231815" stroke="none"/>
<line x1="830.5" y1="661.3" x2="849.3" y2="661.3" stroke-width="2.2"/>
<circle cx="830.5" cy="688.2" r="2.5" fill="#231815" stroke="none"/>
<line x1="830.5" y1="688.2" x2="849.3" y2="688.2" stroke-width="2.2"/>
<text class="l b" font-size="15.3" text-anchor="middle" transform="translate(838.5 658.5) scale(0.86 1)">T</text>
<text class="l b" font-size="15" text-anchor="middle" transform="translate(838.8 701.5) scale(0.82 1)">G</text>
<text class="l b" font-size="11.5" text-anchor="start" transform="translate(818.2 679.4) scale(0.8 1)">SCR2</text>
<line x1="852.8" y1="709.4" x2="903.9" y2="709.4" stroke-width="1.2"/>
<line x1="852.8" y1="734.4" x2="903.9" y2="734.4" stroke-width="1.2"/>
<line x1="872.1" y1="709.4" x2="872.1" y2="734.4" stroke-width="1.2"/>
<line x1="878.5" y1="709.4" x2="878.5" y2="734.4" stroke-width="1.2"/>
<line x1="903.3" y1="709.4" x2="903.3" y2="734.4" stroke-width="1.2"/>
<circle cx="890.9" cy="721.9" r="12.3" stroke-width="1.2" fill="none"/>
<polyline points="878.5,720.15 889.15,720.15 889.15,709.4" stroke-width="1.08" stroke-linejoin="round"/>
<polyline points="878.5,723.65 889.15,723.65 889.15,734.4" stroke-width="1.08" stroke-linejoin="round"/>
<polyline points="903.3,720.15 892.65,720.15 892.65,709.4" stroke-width="1.08" stroke-linejoin="round"/>
<polyline points="903.3,723.65 892.65,723.65 892.65,734.4" stroke-width="1.08" stroke-linejoin="round"/>
<text class="l" font-size="14" text-anchor="middle" letter-spacing="0.6" transform="translate(862.65 726.94) scale(0.92 1)">29</text>
<line x1="852.8" y1="739.9" x2="903.9" y2="739.9" stroke-width="1.2"/>
<line x1="852.8" y1="764.9" x2="903.9" y2="764.9" stroke-width="1.2"/>
<line x1="872.1" y1="739.9" x2="872.1" y2="764.9" stroke-width="1.2"/>
<line x1="878.5" y1="739.9" x2="878.5" y2="764.9" stroke-width="1.2"/>
<line x1="903.3" y1="739.9" x2="903.3" y2="764.9" stroke-width="1.2"/>
<circle cx="890.9" cy="752.4" r="12.3" stroke-width="1.2" fill="none"/>
<polyline points="878.5,750.65 889.15,750.65 889.15,739.9" stroke-width="1.08" stroke-linejoin="round"/>
<polyline points="878.5,754.15 889.15,754.15 889.15,764.9" stroke-width="1.08" stroke-linejoin="round"/>
<polyline points="903.3,750.65 892.65,750.65 892.65,739.9" stroke-width="1.08" stroke-linejoin="round"/>
<polyline points="903.3,754.15 892.65,754.15 892.65,764.9" stroke-width="1.08" stroke-linejoin="round"/>
<text class="l" font-size="14" text-anchor="middle" letter-spacing="0.6" transform="translate(862.65 757.44) scale(0.92 1)">30</text>
<circle cx="830.5" cy="723.9" r="2.5" fill="#231815" stroke="none"/>
<line x1="830.5" y1="723.9" x2="849.3" y2="723.9" stroke-width="2.2"/>
<circle cx="830.5" cy="750.8" r="2.5" fill="#231815" stroke="none"/>
<line x1="830.5" y1="750.8" x2="849.3" y2="750.8" stroke-width="2.2"/>
<text class="l b" font-size="15.3" text-anchor="middle" transform="translate(838.5 721.1) scale(0.86 1)">T</text>
<text class="l b" font-size="15" text-anchor="middle" transform="translate(838.8 764.1) scale(0.82 1)">G</text>
<text class="l b" font-size="11.5" text-anchor="start" transform="translate(818.2 742) scale(0.8 1)">SCR3</text>
<line x1="968.3" y1="582.9" x2="1019.4" y2="582.9" stroke-width="1.2"/>
<line x1="968.3" y1="607.9" x2="1019.4" y2="607.9" stroke-width="1.2"/>
<line x1="987.6" y1="582.9" x2="987.6" y2="607.9" stroke-width="1.2"/>
<line x1="994" y1="582.9" x2="994" y2="607.9" stroke-width="1.2"/>
<line x1="1018.8" y1="582.9" x2="1018.8" y2="607.9" stroke-width="1.2"/>
<circle cx="1006.4" cy="595.4" r="12.3" stroke-width="1.2" fill="none"/>
<polyline points="994,593.65 1004.65,593.65 1004.65,582.9" stroke-width="1.08" stroke-linejoin="round"/>
<polyline points="994,597.15 1004.65,597.15 1004.65,607.9" stroke-width="1.08" stroke-linejoin="round"/>
<polyline points="1018.8,593.65 1008.15,593.65 1008.15,582.9" stroke-width="1.08" stroke-linejoin="round"/>
<polyline points="1018.8,597.15 1008.15,597.15 1008.15,607.9" stroke-width="1.08" stroke-linejoin="round"/>
<text class="l" font-size="14" text-anchor="middle" letter-spacing="0.6" transform="translate(978.15 600.44) scale(0.92 1)">31</text>
<line x1="968.3" y1="613.5" x2="1019.4" y2="613.5" stroke-width="1.2"/>
<line x1="968.3" y1="638.5" x2="1019.4" y2="638.5" stroke-width="1.2"/>
<line x1="987.6" y1="613.5" x2="987.6" y2="638.5" stroke-width="1.2"/>
<line x1="994" y1="613.5" x2="994" y2="638.5" stroke-width="1.2"/>
<line x1="1018.8" y1="613.5" x2="1018.8" y2="638.5" stroke-width="1.2"/>
<circle cx="1006.4" cy="626" r="12.3" stroke-width="1.2" fill="none"/>
<polyline points="994,624.25 1004.65,624.25 1004.65,613.5" stroke-width="1.08" stroke-linejoin="round"/>
<polyline points="994,627.75 1004.65,627.75 1004.65,638.5" stroke-width="1.08" stroke-linejoin="round"/>
<polyline points="1018.8,624.25 1008.15,624.25 1008.15,613.5" stroke-width="1.08" stroke-linejoin="round"/>
<polyline points="1018.8,627.75 1008.15,627.75 1008.15,638.5" stroke-width="1.08" stroke-linejoin="round"/>
<text class="l" font-size="14" text-anchor="middle" letter-spacing="0.6" transform="translate(978.15 631.04) scale(0.92 1)">32</text>
<polyline points="942.7,593 962.9,593 962.9,623.6 942.7,623.6" stroke-width="1.3" stroke-linejoin="miter"/>
<polygon points="939.7,593 944.5,590.6 944.5,595.4" fill="#231815" stroke="none"/>
<polygon points="939.7,623.6 944.5,621.2 944.5,626" fill="#231815" stroke="none"/>
<circle cx="962.9" cy="608.1" r="4.6" stroke-width="1.3" fill="none"/>
<polygon points="962.9,610.9 960.7,606.9 965.1,606.9" fill="#231815" stroke="none"/>
<line x1="944.9" y1="584.9" x2="953.3" y2="584.9" stroke-width="1.3"/>
<line x1="949.1" y1="580.7" x2="949.1" y2="589.1" stroke-width="1.3"/>
<line x1="944.4" y1="630.4" x2="952.4" y2="630.4" stroke-width="1.3"/>
<text class="l b" font-size="11.5" text-anchor="start" transform="translate(925.3 612.2) scale(0.8 1)">mA</text>
<line x1="968.3" y1="648.4" x2="1019.4" y2="648.4" stroke-width="1.2"/>
<line x1="968.3" y1="673.4" x2="1019.4" y2="673.4" stroke-width="1.2"/>
<line x1="987.6" y1="648.4" x2="987.6" y2="673.4" stroke-width="1.2"/>
<line x1="994" y1="648.4" x2="994" y2="673.4" stroke-width="1.2"/>
<line x1="1018.8" y1="648.4" x2="1018.8" y2="673.4" stroke-width="1.2"/>
<circle cx="1006.4" cy="660.9" r="12.3" stroke-width="1.2" fill="none"/>
<polyline points="994,659.15 1004.65,659.15 1004.65,648.4" stroke-width="1.08" stroke-linejoin="round"/>
<polyline points="994,662.65 1004.65,662.65 1004.65,673.4" stroke-width="1.08" stroke-linejoin="round"/>
<polyline points="1018.8,659.15 1008.15,659.15 1008.15,648.4" stroke-width="1.08" stroke-linejoin="round"/>
<polyline points="1018.8,662.65 1008.15,662.65 1008.15,673.4" stroke-width="1.08" stroke-linejoin="round"/>
<text class="l" font-size="14" text-anchor="middle" letter-spacing="0.6" transform="translate(978.15 665.94) scale(0.92 1)">31</text>
<line x1="968.3" y1="678.7" x2="1019.4" y2="678.7" stroke-width="1.2"/>
<line x1="968.3" y1="703.7" x2="1019.4" y2="703.7" stroke-width="1.2"/>
<line x1="987.6" y1="678.7" x2="987.6" y2="703.7" stroke-width="1.2"/>
<line x1="994" y1="678.7" x2="994" y2="703.7" stroke-width="1.2"/>
<line x1="1018.8" y1="678.7" x2="1018.8" y2="703.7" stroke-width="1.2"/>
<circle cx="1006.4" cy="691.2" r="12.3" stroke-width="1.2" fill="none"/>
<polyline points="994,689.45 1004.65,689.45 1004.65,678.7" stroke-width="1.08" stroke-linejoin="round"/>
<polyline points="994,692.95 1004.65,692.95 1004.65,703.7" stroke-width="1.08" stroke-linejoin="round"/>
<polyline points="1018.8,689.45 1008.15,689.45 1008.15,678.7" stroke-width="1.08" stroke-linejoin="round"/>
<polyline points="1018.8,692.95 1008.15,692.95 1008.15,703.7" stroke-width="1.08" stroke-linejoin="round"/>
<text class="l" font-size="14" text-anchor="middle" letter-spacing="0.6" transform="translate(978.15 696.24) scale(0.92 1)">32</text>
<polyline points="938.3,661.15 959.4,661.15 959.4,673.65" stroke-width="1.3" stroke-linejoin="miter"/>
<polyline points="959.4,679.15 959.4,692.15 938.3,692.15" stroke-width="1.3" stroke-linejoin="miter"/>
<line x1="955.1" y1="673.65" x2="963.7" y2="673.65" stroke-width="1.3"/>
<line x1="956.8" y1="679.15" x2="962" y2="679.15" stroke-width="1.3"/>
<polygon points="935.3,661.15 940.1,658.75 940.1,663.55" fill="#231815" stroke="none"/>
<polygon points="935.3,692.15 940.1,689.75 940.1,694.55" fill="#231815" stroke="none"/>
<line x1="939.7" y1="652.9" x2="948.1" y2="652.9" stroke-width="1.3"/>
<line x1="943.9" y1="648.7" x2="943.9" y2="657.1" stroke-width="1.3"/>
<line x1="940.4" y1="700.9" x2="948.4" y2="700.9" stroke-width="1.3"/>
<text class="l b" font-size="12" text-anchor="start" transform="translate(928.8 682.4) scale(0.8 1)">V</text>
<line x1="968.3" y1="712" x2="1019.4" y2="712" stroke-width="1.2"/>
<line x1="968.3" y1="736.2" x2="1019.4" y2="736.2" stroke-width="1.2"/>
<line x1="987.6" y1="712" x2="987.6" y2="736.2" stroke-width="1.2"/>
<line x1="994" y1="712" x2="994" y2="736.2" stroke-width="1.2"/>
<line x1="1018.8" y1="712" x2="1018.8" y2="736.2" stroke-width="1.2"/>
<circle cx="1006.4" cy="724.1" r="12" stroke-width="1.2" fill="none"/>
<polyline points="994,722.41 1004.71,722.41 1004.71,712" stroke-width="1.08" stroke-linejoin="round"/>
<polyline points="994,725.79 1004.71,725.79 1004.71,736.2" stroke-width="1.08" stroke-linejoin="round"/>
<polyline points="1018.8,722.41 1008.09,722.41 1008.09,712" stroke-width="1.08" stroke-linejoin="round"/>
<polyline points="1018.8,725.79 1008.09,725.79 1008.09,736.2" stroke-width="1.08" stroke-linejoin="round"/>
<text class="l" font-size="14" text-anchor="middle" letter-spacing="0.6" transform="translate(978.9 729.14) scale(0.92 1)">31</text>
<line x1="968.3" y1="741" x2="1019.4" y2="741" stroke-width="1.2"/>
<line x1="968.3" y1="765.2" x2="1019.4" y2="765.2" stroke-width="1.2"/>
<line x1="987.6" y1="741" x2="987.6" y2="765.2" stroke-width="1.2"/>
<line x1="994" y1="741" x2="994" y2="765.2" stroke-width="1.2"/>
<line x1="1018.8" y1="741" x2="1018.8" y2="765.2" stroke-width="1.2"/>
<circle cx="1006.4" cy="753.1" r="12" stroke-width="1.2" fill="none"/>
<polyline points="994,751.41 1004.71,751.41 1004.71,741" stroke-width="1.08" stroke-linejoin="round"/>
<polyline points="994,754.79 1004.71,754.79 1004.71,765.2" stroke-width="1.08" stroke-linejoin="round"/>
<polyline points="1018.8,751.41 1008.09,751.41 1008.09,741" stroke-width="1.08" stroke-linejoin="round"/>
<polyline points="1018.8,754.79 1008.09,754.79 1008.09,765.2" stroke-width="1.08" stroke-linejoin="round"/>
<text class="l" font-size="14" text-anchor="middle" letter-spacing="0.6" transform="translate(978.9 758.14) scale(0.92 1)">32</text>
<polyline points="969.3,723.2 951,723.2 951,730.2" stroke-width="1.17" stroke-linejoin="miter"/>
<polyline points="969.3,752.5 951,752.5 951,743.9" stroke-width="1.17" stroke-linejoin="miter"/>
<circle cx="951" cy="731.7" r="1.4" stroke-width="1" fill="none"/>
<circle cx="951" cy="742.5" r="1.4" stroke-width="1" fill="none"/>
<line x1="951.6" y1="731.8" x2="946.8" y2="739.7" stroke-width="1.17"/>
<text class="l b" font-size="12.5" text-anchor="start" letter-spacing="1" transform="translate(927.8 744.7) scale(0.82 1)">NO</text>
<rect x="58.2" y="490.3" width="208.1" height="119.7" stroke-width="2.4" fill="none"/>
<line x1="58.2" y1="513.5" x2="266.3" y2="513.5" stroke-width="1.3"/>
<line x1="161.3" y1="490.3" x2="161.3" y2="610" stroke-width="1.3"/>
<text class="s" x="85.8" y="509.2" font-size="17.3" text-anchor="start" letter-spacing="2.7">报警<tspan class="d" font-size="17.47" dx="-2.5">1</tspan></text>
<text class="s" x="189.6" y="509.2" font-size="17.3" text-anchor="start" letter-spacing="2.7">报警<tspan class="d" font-size="17.47" dx="-2.5">2</tspan></text>
<line x1="94.2" y1="519.7" x2="145.3" y2="519.7" stroke-width="1.2"/>
<line x1="94.2" y1="544.3" x2="145.3" y2="544.3" stroke-width="1.2"/>
<line x1="112.9" y1="519.7" x2="112.9" y2="544.3" stroke-width="1.2"/>
<line x1="119.7" y1="519.7" x2="119.7" y2="544.3" stroke-width="1.2"/>
<line x1="144.7" y1="519.7" x2="144.7" y2="544.3" stroke-width="1.2"/>
<circle cx="132.2" cy="532" r="12.2" stroke-width="1.2" fill="none"/>
<polyline points="119.7,530.28 130.48,530.28 130.48,519.7" stroke-width="1.08" stroke-linejoin="round"/>
<polyline points="119.7,533.72 130.48,533.72 130.48,544.3" stroke-width="1.08" stroke-linejoin="round"/>
<polyline points="144.7,530.28 133.92,530.28 133.92,519.7" stroke-width="1.08" stroke-linejoin="round"/>
<polyline points="144.7,533.72 133.92,533.72 133.92,544.3" stroke-width="1.08" stroke-linejoin="round"/>
<text class="l" font-size="13.5" text-anchor="middle" letter-spacing="0.6" transform="translate(103.2 536.86) scale(0.92 1)">1</text>
<line x1="94.2" y1="550.6" x2="145.3" y2="550.6" stroke-width="1.2"/>
<line x1="94.2" y1="575.2" x2="145.3" y2="575.2" stroke-width="1.2"/>
<line x1="112.9" y1="550.6" x2="112.9" y2="575.2" stroke-width="1.2"/>
<line x1="119.7" y1="550.6" x2="119.7" y2="575.2" stroke-width="1.2"/>
<line x1="144.7" y1="550.6" x2="144.7" y2="575.2" stroke-width="1.2"/>
<circle cx="132.2" cy="562.9" r="12.2" stroke-width="1.2" fill="none"/>
<polyline points="119.7,561.18 130.48,561.18 130.48,550.6" stroke-width="1.08" stroke-linejoin="round"/>
<polyline points="119.7,564.62 130.48,564.62 130.48,575.2" stroke-width="1.08" stroke-linejoin="round"/>
<polyline points="144.7,561.18 133.92,561.18 133.92,550.6" stroke-width="1.08" stroke-linejoin="round"/>
<polyline points="144.7,564.62 133.92,564.62 133.92,575.2" stroke-width="1.08" stroke-linejoin="round"/>
<text class="l" font-size="13.5" text-anchor="middle" letter-spacing="0.6" transform="translate(103.2 567.76) scale(0.92 1)">2</text>
<line x1="94.2" y1="580.6" x2="145.3" y2="580.6" stroke-width="1.2"/>
<line x1="94.2" y1="605.2" x2="145.3" y2="605.2" stroke-width="1.2"/>
<line x1="112.9" y1="580.6" x2="112.9" y2="605.2" stroke-width="1.2"/>
<line x1="119.7" y1="580.6" x2="119.7" y2="605.2" stroke-width="1.2"/>
<line x1="144.7" y1="580.6" x2="144.7" y2="605.2" stroke-width="1.2"/>
<circle cx="132.2" cy="592.9" r="12.2" stroke-width="1.2" fill="none"/>
<polyline points="119.7,591.18 130.48,591.18 130.48,580.6" stroke-width="1.08" stroke-linejoin="round"/>
<polyline points="119.7,594.62 130.48,594.62 130.48,605.2" stroke-width="1.08" stroke-linejoin="round"/>
<polyline points="144.7,591.18 133.92,591.18 133.92,580.6" stroke-width="1.08" stroke-linejoin="round"/>
<polyline points="144.7,594.62 133.92,594.62 133.92,605.2" stroke-width="1.08" stroke-linejoin="round"/>
<text class="l" font-size="13.5" text-anchor="middle" letter-spacing="0.6" transform="translate(103.2 597.76) scale(0.92 1)">3</text>
<polyline points="94.5,533.7 75.5,533.7 75.5,541" stroke-width="1.17" stroke-linejoin="miter"/>
<circle cx="75.5" cy="542.9" r="1.9" stroke-width="1" fill="none"/>
<line x1="75.2" y1="544.04" x2="69.4" y2="552.4" stroke-width="1.17"/>
<circle cx="75.5" cy="554.8" r="1.9" stroke-width="1" fill="none"/>
<line x1="75.5" y1="556.7" x2="75.5" y2="570.5" stroke-width="1.17"/>
<line x1="75.5" y1="563.7" x2="94.5" y2="563.7" stroke-width="1.17"/>
<circle cx="75.5" cy="572.4" r="1.9" stroke-width="1" fill="none"/>
<line x1="75.5" y1="574.3" x2="74.2" y2="584" stroke-width="1.17"/>
<polyline points="75.5,584 75.5,593.4 94.5,593.4" stroke-width="1.17" stroke-linejoin="miter"/>
<text class="l b" font-size="12.5" text-anchor="start" transform="translate(79.2 552) scale(0.7 1)">NO</text>
<text class="l b" font-size="12.5" text-anchor="start" transform="translate(78.9 582.5) scale(0.7 1)">NC</text>
<line x1="199" y1="518.8" x2="250.1" y2="518.8" stroke-width="1.2"/>
<line x1="199" y1="543.4" x2="250.1" y2="543.4" stroke-width="1.2"/>
<line x1="217.7" y1="518.8" x2="217.7" y2="543.4" stroke-width="1.2"/>
<line x1="224.5" y1="518.8" x2="224.5" y2="543.4" stroke-width="1.2"/>
<line x1="249.5" y1="518.8" x2="249.5" y2="543.4" stroke-width="1.2"/>
<circle cx="237" cy="531.1" r="12.2" stroke-width="1.2" fill="none"/>
<polyline points="224.5,529.38 235.28,529.38 235.28,518.8" stroke-width="1.08" stroke-linejoin="round"/>
<polyline points="224.5,532.82 235.28,532.82 235.28,543.4" stroke-width="1.08" stroke-linejoin="round"/>
<polyline points="249.5,529.38 238.72,529.38 238.72,518.8" stroke-width="1.08" stroke-linejoin="round"/>
<polyline points="249.5,532.82 238.72,532.82 238.72,543.4" stroke-width="1.08" stroke-linejoin="round"/>
<text class="l" font-size="13.5" text-anchor="middle" letter-spacing="0.6" transform="translate(208 535.96) scale(0.92 1)">4</text>
<line x1="199" y1="549.6" x2="250.1" y2="549.6" stroke-width="1.2"/>
<line x1="199" y1="574.2" x2="250.1" y2="574.2" stroke-width="1.2"/>
<line x1="217.7" y1="549.6" x2="217.7" y2="574.2" stroke-width="1.2"/>
<line x1="224.5" y1="549.6" x2="224.5" y2="574.2" stroke-width="1.2"/>
<line x1="249.5" y1="549.6" x2="249.5" y2="574.2" stroke-width="1.2"/>
<circle cx="237" cy="561.9" r="12.2" stroke-width="1.2" fill="none"/>
<polyline points="224.5,560.18 235.28,560.18 235.28,549.6" stroke-width="1.08" stroke-linejoin="round"/>
<polyline points="224.5,563.62 235.28,563.62 235.28,574.2" stroke-width="1.08" stroke-linejoin="round"/>
<polyline points="249.5,560.18 238.72,560.18 238.72,549.6" stroke-width="1.08" stroke-linejoin="round"/>
<polyline points="249.5,563.62 238.72,563.62 238.72,574.2" stroke-width="1.08" stroke-linejoin="round"/>
<text class="l" font-size="13.5" text-anchor="middle" letter-spacing="0.6" transform="translate(208 566.76) scale(0.92 1)">5</text>
<line x1="199" y1="579.6" x2="250.1" y2="579.6" stroke-width="1.2"/>
<line x1="199" y1="604.2" x2="250.1" y2="604.2" stroke-width="1.2"/>
<line x1="217.7" y1="579.6" x2="217.7" y2="604.2" stroke-width="1.2"/>
<line x1="224.5" y1="579.6" x2="224.5" y2="604.2" stroke-width="1.2"/>
<line x1="249.5" y1="579.6" x2="249.5" y2="604.2" stroke-width="1.2"/>
<circle cx="237" cy="591.9" r="12.2" stroke-width="1.2" fill="none"/>
<polyline points="224.5,590.18 235.28,590.18 235.28,579.6" stroke-width="1.08" stroke-linejoin="round"/>
<polyline points="224.5,593.62 235.28,593.62 235.28,604.2" stroke-width="1.08" stroke-linejoin="round"/>
<polyline points="249.5,590.18 238.72,590.18 238.72,579.6" stroke-width="1.08" stroke-linejoin="round"/>
<polyline points="249.5,593.62 238.72,593.62 238.72,604.2" stroke-width="1.08" stroke-linejoin="round"/>
<text class="l" font-size="13.5" text-anchor="middle" letter-spacing="0.6" transform="translate(208 596.76) scale(0.92 1)">6</text>
<polyline points="199.3,532.8 180.3,532.8 180.3,540.1" stroke-width="1.17" stroke-linejoin="miter"/>
<circle cx="180.3" cy="542" r="1.9" stroke-width="1" fill="none"/>
<line x1="180" y1="543.14" x2="174.2" y2="551.5" stroke-width="1.17"/>
<circle cx="180.3" cy="553.9" r="1.9" stroke-width="1" fill="none"/>
<line x1="180.3" y1="555.8" x2="180.3" y2="569.6" stroke-width="1.17"/>
<line x1="180.3" y1="562.8" x2="199.3" y2="562.8" stroke-width="1.17"/>
<circle cx="180.3" cy="571.5" r="1.9" stroke-width="1" fill="none"/>
<line x1="180.3" y1="573.4" x2="179" y2="583.1" stroke-width="1.17"/>
<polyline points="180.3,583.1 180.3,592.5 199.3,592.5" stroke-width="1.17" stroke-linejoin="miter"/>
<text class="l b" font-size="12.5" text-anchor="start" transform="translate(184 551.1) scale(0.7 1)">NO</text>
<text class="l b" font-size="12.5" text-anchor="start" transform="translate(183.7 581.6) scale(0.7 1)">NC</text>
<rect x="58.5" y="620.8" width="208.5" height="110" stroke-width="2.4" fill="none"/>
<line x1="58.5" y1="643.8" x2="267" y2="643.8" stroke-width="1.3"/>
<text class="s" x="123.3" y="639.5" font-size="17.3" text-anchor="start" letter-spacing="1.6">馈电输出</text>
<line x1="108" y1="658.3" x2="159.1" y2="658.3" stroke-width="1.2"/>
<line x1="108" y1="683.3" x2="159.1" y2="683.3" stroke-width="1.2"/>
<line x1="127.3" y1="658.3" x2="127.3" y2="683.3" stroke-width="1.2"/>
<line x1="133.7" y1="658.3" x2="133.7" y2="683.3" stroke-width="1.2"/>
<line x1="158.5" y1="658.3" x2="158.5" y2="683.3" stroke-width="1.2"/>
<circle cx="146.1" cy="670.8" r="12.3" stroke-width="1.2" fill="none"/>
<polyline points="133.7,669.05 144.35,669.05 144.35,658.3" stroke-width="1.08" stroke-linejoin="round"/>
<polyline points="133.7,672.55 144.35,672.55 144.35,683.3" stroke-width="1.08" stroke-linejoin="round"/>
<polyline points="158.5,669.05 147.85,669.05 147.85,658.3" stroke-width="1.08" stroke-linejoin="round"/>
<polyline points="158.5,672.55 147.85,672.55 147.85,683.3" stroke-width="1.08" stroke-linejoin="round"/>
<text class="l" font-size="14" text-anchor="middle" letter-spacing="0.6" transform="translate(119 675.84) scale(0.92 1)">7</text>
<line x1="108" y1="689.2" x2="159.1" y2="689.2" stroke-width="1.2"/>
<line x1="108" y1="714.2" x2="159.1" y2="714.2" stroke-width="1.2"/>
<line x1="127.3" y1="689.2" x2="127.3" y2="714.2" stroke-width="1.2"/>
<line x1="133.7" y1="689.2" x2="133.7" y2="714.2" stroke-width="1.2"/>
<line x1="158.5" y1="689.2" x2="158.5" y2="714.2" stroke-width="1.2"/>
<circle cx="146.1" cy="701.7" r="12.3" stroke-width="1.2" fill="none"/>
<polyline points="133.7,699.95 144.35,699.95 144.35,689.2" stroke-width="1.08" stroke-linejoin="round"/>
<polyline points="133.7,703.45 144.35,703.45 144.35,714.2" stroke-width="1.08" stroke-linejoin="round"/>
<polyline points="158.5,699.95 147.85,699.95 147.85,689.2" stroke-width="1.08" stroke-linejoin="round"/>
<polyline points="158.5,703.45 147.85,703.45 147.85,714.2" stroke-width="1.08" stroke-linejoin="round"/>
<text class="l" font-size="14" text-anchor="middle" letter-spacing="0.6" transform="translate(119 706.74) scale(0.92 1)">8</text>
<circle cx="92" cy="670.8" r="2.7" fill="#231815" stroke="none"/>
<line x1="92" y1="670.8" x2="112.5" y2="670.8" stroke-width="2.4"/>
<circle cx="92" cy="701.3" r="2.7" fill="#231815" stroke="none"/>
<line x1="92" y1="701.3" x2="112.5" y2="701.3" stroke-width="2.4"/>
<line x1="96.8" y1="660.6" x2="105.6" y2="660.6" stroke-width="1.4"/>
<line x1="101.2" y1="656.2" x2="101.2" y2="665" stroke-width="1.4"/>
<line x1="97.4" y1="707.2" x2="105.4" y2="707.2" stroke-width="1.4"/>
<text class="l b" font-size="13.5" text-anchor="start" transform="translate(74.8 691.4) scale(0.86 1)">1P</text>
<line x1="203.2" y1="658.8" x2="254.3" y2="658.8" stroke-width="1.2"/>
<line x1="203.2" y1="683.8" x2="254.3" y2="683.8" stroke-width="1.2"/>
<line x1="222.5" y1="658.8" x2="222.5" y2="683.8" stroke-width="1.2"/>
<line x1="228.9" y1="658.8" x2="228.9" y2="683.8" stroke-width="1.2"/>
<line x1="253.7" y1="658.8" x2="253.7" y2="683.8" stroke-width="1.2"/>
<circle cx="241.3" cy="671.3" r="12.3" stroke-width="1.2" fill="none"/>
<polyline points="228.9,669.55 239.55,669.55 239.55,658.8" stroke-width="1.08" stroke-linejoin="round"/>
<polyline points="228.9,673.05 239.55,673.05 239.55,683.8" stroke-width="1.08" stroke-linejoin="round"/>
<polyline points="253.7,669.55 243.05,669.55 243.05,658.8" stroke-width="1.08" stroke-linejoin="round"/>
<polyline points="253.7,673.05 243.05,673.05 243.05,683.8" stroke-width="1.08" stroke-linejoin="round"/>
<text class="l" font-size="14" text-anchor="middle" letter-spacing="0.6" transform="translate(214.2 676.34) scale(0.92 1)">9</text>
<line x1="203.2" y1="690" x2="254.3" y2="690" stroke-width="1.2"/>
<line x1="203.2" y1="715" x2="254.3" y2="715" stroke-width="1.2"/>
<line x1="222.5" y1="690" x2="222.5" y2="715" stroke-width="1.2"/>
<line x1="228.9" y1="690" x2="228.9" y2="715" stroke-width="1.2"/>
<line x1="253.7" y1="690" x2="253.7" y2="715" stroke-width="1.2"/>
<circle cx="241.3" cy="702.5" r="12.3" stroke-width="1.2" fill="none"/>
<polyline points="228.9,700.75 239.55,700.75 239.55,690" stroke-width="1.08" stroke-linejoin="round"/>
<polyline points="228.9,704.25 239.55,704.25 239.55,715" stroke-width="1.08" stroke-linejoin="round"/>
<polyline points="253.7,700.75 243.05,700.75 243.05,690" stroke-width="1.08" stroke-linejoin="round"/>
<polyline points="253.7,704.25 243.05,704.25 243.05,715" stroke-width="1.08" stroke-linejoin="round"/>
<text class="l" font-size="14" text-anchor="middle" letter-spacing="0.6" transform="translate(214.5 707.54) scale(0.85 1)">10</text>
<circle cx="186.8" cy="672" r="2.7" fill="#231815" stroke="none"/>
<line x1="186.8" y1="672" x2="207.5" y2="672" stroke-width="2.4"/>
<circle cx="186.8" cy="702.5" r="2.7" fill="#231815" stroke="none"/>
<line x1="186.8" y1="702.5" x2="207.5" y2="702.5" stroke-width="2.4"/>
<line x1="191.4" y1="661.6" x2="200.2" y2="661.6" stroke-width="1.4"/>
<line x1="195.8" y1="657.2" x2="195.8" y2="666" stroke-width="1.4"/>
<line x1="192" y1="708.4" x2="200" y2="708.4" stroke-width="1.4"/>
<text class="l b" font-size="13.5" text-anchor="start" transform="translate(173.5 692.4) scale(0.86 1)">2P</text>
<rect x="60" y="740" width="208.8" height="111.3" stroke-width="2.4" fill="none"/>
<line x1="60" y1="762.5" x2="268.8" y2="762.5" stroke-width="1.3"/>
<line x1="164.3" y1="740" x2="164.3" y2="851.3" stroke-width="1.3"/>
<text class="l b" font-size="17" text-anchor="middle" letter-spacing="0.6" transform="translate(109.3 757.6) scale(0.95 1)">Power/D</text>
<text class="l b" font-size="17" text-anchor="middle" letter-spacing="0.6" transform="translate(210.5 757.6) scale(0.95 1)">Power/A</text>
<line x1="100" y1="774.5" x2="159.9" y2="774.5" stroke-width="1.2"/>
<line x1="100" y1="803.3" x2="159.9" y2="803.3" stroke-width="1.2"/>
<line x1="122.5" y1="774.5" x2="122.5" y2="803.3" stroke-width="1.2"/>
<line x1="130" y1="774.5" x2="130" y2="803.3" stroke-width="1.2"/>
<line x1="159.3" y1="774.5" x2="159.3" y2="803.3" stroke-width="1.2"/>
<circle cx="144.65" cy="788.9" r="14.3" stroke-width="1.2" fill="none"/>
<polyline points="130,786.88 142.63,786.88 142.63,774.5" stroke-width="1.08" stroke-linejoin="round"/>
<polyline points="130,790.92 142.63,790.92 142.63,803.3" stroke-width="1.08" stroke-linejoin="round"/>
<polyline points="159.3,786.88 146.67,786.88 146.67,774.5" stroke-width="1.08" stroke-linejoin="round"/>
<polyline points="159.3,790.92 146.67,790.92 146.67,803.3" stroke-width="1.08" stroke-linejoin="round"/>
<text class="l" font-size="14" text-anchor="middle" letter-spacing="0.6" transform="translate(112.5 793.94) scale(0.92 1)">11</text>
<line x1="100" y1="809.5" x2="159.9" y2="809.5" stroke-width="1.2"/>
<line x1="100" y1="838.3" x2="159.9" y2="838.3" stroke-width="1.2"/>
<line x1="122.5" y1="809.5" x2="122.5" y2="838.3" stroke-width="1.2"/>
<line x1="130" y1="809.5" x2="130" y2="838.3" stroke-width="1.2"/>
<line x1="159.3" y1="809.5" x2="159.3" y2="838.3" stroke-width="1.2"/>
<circle cx="144.65" cy="823.9" r="14.3" stroke-width="1.2" fill="none"/>
<polyline points="130,821.88 142.63,821.88 142.63,809.5" stroke-width="1.08" stroke-linejoin="round"/>
<polyline points="130,825.92 142.63,825.92 142.63,838.3" stroke-width="1.08" stroke-linejoin="round"/>
<polyline points="159.3,821.88 146.67,821.88 146.67,809.5" stroke-width="1.08" stroke-linejoin="round"/>
<polyline points="159.3,825.92 146.67,825.92 146.67,838.3" stroke-width="1.08" stroke-linejoin="round"/>
<text class="l" font-size="14" text-anchor="middle" letter-spacing="0.6" transform="translate(112.5 828.94) scale(0.92 1)">12</text>
<circle cx="68.3" cy="790.8" r="3.1" fill="#231815" stroke="none"/>
<line x1="68.3" y1="790.8" x2="99.3" y2="790.8" stroke-width="2"/>
<circle cx="68.3" cy="824.5" r="3.1" fill="#231815" stroke="none"/>
<line x1="68.3" y1="824.5" x2="99.3" y2="824.5" stroke-width="2"/>
<line x1="72.4" y1="778.3" x2="80.8" y2="778.3" stroke-width="1.4"/>
<line x1="72.1" y1="835" x2="80.5" y2="835" stroke-width="1.4"/>
<line x1="76.3" y1="830.8" x2="76.3" y2="839.2" stroke-width="1.4"/>
<line x1="200" y1="776.3" x2="259.4" y2="776.3" stroke-width="1.2"/>
<line x1="200" y1="805.7" x2="259.4" y2="805.7" stroke-width="1.2"/>
<line x1="222.5" y1="776.3" x2="222.5" y2="805.7" stroke-width="1.2"/>
<line x1="229.5" y1="776.3" x2="229.5" y2="805.7" stroke-width="1.2"/>
<line x1="258.8" y1="776.3" x2="258.8" y2="805.7" stroke-width="1.2"/>
<circle cx="244.15" cy="791" r="14.55" stroke-width="1.2" fill="none"/>
<polyline points="229.5,788.94 242.09,788.94 242.09,776.3" stroke-width="1.08" stroke-linejoin="round"/>
<polyline points="229.5,793.06 242.09,793.06 242.09,805.7" stroke-width="1.08" stroke-linejoin="round"/>
<polyline points="258.8,788.94 246.21,788.94 246.21,776.3" stroke-width="1.08" stroke-linejoin="round"/>
<polyline points="258.8,793.06 246.21,793.06 246.21,805.7" stroke-width="1.08" stroke-linejoin="round"/>
<text class="l" font-size="14" text-anchor="middle" letter-spacing="0.6" transform="translate(213.5 796.04) scale(0.92 1)">11</text>
<line x1="200" y1="811.3" x2="259.4" y2="811.3" stroke-width="1.2"/>
<line x1="200" y1="840.7" x2="259.4" y2="840.7" stroke-width="1.2"/>
<line x1="222.5" y1="811.3" x2="222.5" y2="840.7" stroke-width="1.2"/>
<line x1="229.5" y1="811.3" x2="229.5" y2="840.7" stroke-width="1.2"/>
<line x1="258.8" y1="811.3" x2="258.8" y2="840.7" stroke-width="1.2"/>
<circle cx="244.15" cy="826" r="14.55" stroke-width="1.2" fill="none"/>
<polyline points="229.5,823.94 242.09,823.94 242.09,811.3" stroke-width="1.08" stroke-linejoin="round"/>
<polyline points="229.5,828.06 242.09,828.06 242.09,840.7" stroke-width="1.08" stroke-linejoin="round"/>
<polyline points="258.8,823.94 246.21,823.94 246.21,811.3" stroke-width="1.08" stroke-linejoin="round"/>
<polyline points="258.8,828.06 246.21,828.06 246.21,840.7" stroke-width="1.08" stroke-linejoin="round"/>
<text class="l" font-size="14" text-anchor="middle" letter-spacing="0.6" transform="translate(213.5 831.04) scale(0.92 1)">12</text>
<circle cx="175.8" cy="793.3" r="3.1" fill="#231815" stroke="none"/>
<line x1="175.8" y1="793.3" x2="207" y2="793.3" stroke-width="2"/>
<circle cx="175.8" cy="827" r="3.1" fill="#231815" stroke="none"/>
<line x1="175.8" y1="827" x2="207" y2="827" stroke-width="2"/>
<text class="l b" font-size="16" text-anchor="middle" transform="translate(186.6 787.6) scale(0.95 1)">L</text>
<text class="l b" font-size="16" text-anchor="middle" transform="translate(188 843.4) scale(0.85 1)">N</text>
<rect x="60.8" y="858" width="208.2" height="164.5" stroke-width="2.4" fill="none"/>
<line x1="60.8" y1="885.5" x2="269" y2="885.5" stroke-width="1.3"/>
<text class="s" x="62.2" y="880" font-size="18.2" text-anchor="start" letter-spacing="2.55">二线制变送器接线方法</text>
<line x1="78" y1="896.4" x2="133.6" y2="896.4" stroke-width="1.2"/>
<line x1="78" y1="921.7" x2="133.6" y2="921.7" stroke-width="1.2"/>
<line x1="98.8" y1="896.4" x2="98.8" y2="921.7" stroke-width="1.2"/>
<line x1="105.5" y1="896.4" x2="105.5" y2="921.7" stroke-width="1.2"/>
<line x1="133" y1="896.4" x2="133" y2="921.7" stroke-width="1.2"/>
<circle cx="119.25" cy="909.05" r="12.55" stroke-width="1.2" fill="none"/>
<polyline points="105.5,907.28 117.48,907.28 117.48,896.4" stroke-width="1.08" stroke-linejoin="round"/>
<polyline points="105.5,910.82 117.48,910.82 117.48,921.7" stroke-width="1.08" stroke-linejoin="round"/>
<polyline points="133,907.28 121.02,907.28 121.02,896.4" stroke-width="1.08" stroke-linejoin="round"/>
<polyline points="133,910.82 121.02,910.82 121.02,921.7" stroke-width="1.08" stroke-linejoin="round"/>
<text class="l" font-size="14" text-anchor="middle" letter-spacing="0.6" transform="translate(89 914.09) scale(0.92 1)">22</text>
<line x1="78" y1="926.8" x2="133.6" y2="926.8" stroke-width="1.2"/>
<line x1="78" y1="952.1" x2="133.6" y2="952.1" stroke-width="1.2"/>
<line x1="98.8" y1="926.8" x2="98.8" y2="952.1" stroke-width="1.2"/>
<line x1="105.5" y1="926.8" x2="105.5" y2="952.1" stroke-width="1.2"/>
<line x1="133" y1="926.8" x2="133" y2="952.1" stroke-width="1.2"/>
<circle cx="119.25" cy="939.45" r="12.55" stroke-width="1.2" fill="none"/>
<polyline points="105.5,937.68 117.48,937.68 117.48,926.8" stroke-width="1.08" stroke-linejoin="round"/>
<polyline points="105.5,941.22 117.48,941.22 117.48,952.1" stroke-width="1.08" stroke-linejoin="round"/>
<polyline points="133,937.68 121.02,937.68 121.02,926.8" stroke-width="1.08" stroke-linejoin="round"/>
<polyline points="133,941.22 121.02,941.22 121.02,952.1" stroke-width="1.08" stroke-linejoin="round"/>
<text class="l" font-size="14" text-anchor="middle" letter-spacing="0.6" transform="translate(89 944.49) scale(0.92 1)">24</text>
<line x1="78" y1="956.8" x2="133.6" y2="956.8" stroke-width="1.2"/>
<line x1="78" y1="982.1" x2="133.6" y2="982.1" stroke-width="1.2"/>
<line x1="98.8" y1="956.8" x2="98.8" y2="982.1" stroke-width="1.2"/>
<line x1="105.5" y1="956.8" x2="105.5" y2="982.1" stroke-width="1.2"/>
<line x1="133" y1="956.8" x2="133" y2="982.1" stroke-width="1.2"/>
<circle cx="119.25" cy="969.45" r="12.55" stroke-width="1.2" fill="none"/>
<polyline points="105.5,967.68 117.48,967.68 117.48,956.8" stroke-width="1.08" stroke-linejoin="round"/>
<polyline points="105.5,971.22 117.48,971.22 117.48,982.1" stroke-width="1.08" stroke-linejoin="round"/>
<polyline points="133,967.68 121.02,967.68 121.02,956.8" stroke-width="1.08" stroke-linejoin="round"/>
<polyline points="133,971.22 121.02,971.22 121.02,982.1" stroke-width="1.08" stroke-linejoin="round"/>
<text class="l" font-size="14" text-anchor="middle" letter-spacing="0.6" transform="translate(89 974.49) scale(0.92 1)">8</text>
<line x1="78" y1="986.4" x2="133.6" y2="986.4" stroke-width="1.2"/>
<line x1="78" y1="1011.7" x2="133.6" y2="1011.7" stroke-width="1.2"/>
<line x1="98.8" y1="986.4" x2="98.8" y2="1011.7" stroke-width="1.2"/>
<line x1="105.5" y1="986.4" x2="105.5" y2="1011.7" stroke-width="1.2"/>
<line x1="133" y1="986.4" x2="133" y2="1011.7" stroke-width="1.2"/>
<circle cx="119.25" cy="999.05" r="12.55" stroke-width="1.2" fill="none"/>
<polyline points="105.5,997.28 117.48,997.28 117.48,986.4" stroke-width="1.08" stroke-linejoin="round"/>
<polyline points="105.5,1000.82 117.48,1000.82 117.48,1011.7" stroke-width="1.08" stroke-linejoin="round"/>
<polyline points="133,997.28 121.02,997.28 121.02,986.4" stroke-width="1.08" stroke-linejoin="round"/>
<polyline points="133,1000.82 121.02,1000.82 121.02,1011.7" stroke-width="1.08" stroke-linejoin="round"/>
<text class="l" font-size="14" text-anchor="middle" letter-spacing="0.6" transform="translate(89 1004.09) scale(0.92 1)">7</text>
<line x1="138" y1="909.2" x2="156" y2="909.2" stroke-width="1.4"/>
<circle cx="156" cy="909.2" r="2.3" fill="#231815" stroke="none"/>
<line x1="138" y1="939.2" x2="156" y2="939.2" stroke-width="1.4"/>
<circle cx="156" cy="939.2" r="2.3" fill="#231815" stroke="none"/>
<line x1="138" y1="969.3" x2="156" y2="969.3" stroke-width="1.4"/>
<circle cx="156" cy="969.3" r="2.3" fill="#231815" stroke="none"/>
<line x1="138" y1="999.3" x2="156" y2="999.3" stroke-width="1.4"/>
<circle cx="156" cy="999.3" r="2.3" fill="#231815" stroke="none"/>
<line x1="138.7" y1="900.8" x2="145.9" y2="900.8" stroke-width="1.1"/>
<line x1="142.3" y1="897.2" x2="142.3" y2="904.4" stroke-width="1.1"/>
<line x1="138.7" y1="946.8" x2="145.9" y2="946.8" stroke-width="1.1"/>
<line x1="138.7" y1="964.3" x2="145.9" y2="964.3" stroke-width="1.1"/>
<line x1="138.7" y1="1006.2" x2="145.9" y2="1006.2" stroke-width="1.1"/>
<line x1="142.3" y1="1002.6" x2="142.3" y2="1009.8" stroke-width="1.1"/>
<text class="l b" font-size="11.5" text-anchor="start" transform="translate(144.3 927.8) scale(0.9 1)">mA</text>
<text class="l b" font-size="13" text-anchor="start" transform="translate(143.6 990) scale(0.85 1)">P</text>
<rect x="202.2" y="988" width="28.5" height="11.7" stroke-width="1.1" fill="#fff"/>
<circle cx="216.5" cy="978.1" r="16.3" stroke-width="1.3" fill="#fff"/>
<circle cx="216.5" cy="978.1" r="12.6" stroke-width="1.2" fill="none"/>
<polyline points="179.5,906.6 200.4,906.6 200.4,971.2 209.9,971.2" stroke-width="1.2" stroke-linejoin="miter"/>
<polygon points="176.9,906.6 180.5,904.9 180.5,908.3" fill="#231815" stroke="none"/>
<polyline points="179.5,936.2 189.6,936.2 189.6,966 179.5,966" stroke-width="1.2" stroke-linejoin="miter"/>
<polygon points="177.3,936.2 180.9,934.5 180.9,937.9" fill="#231815" stroke="none"/>
<polygon points="177.3,966 180.9,964.3 180.9,967.7" fill="#231815" stroke="none"/>
<polyline points="179.5,995.8 200.4,995.8 200.4,985.5 209.9,985.5" stroke-width="1.2" stroke-linejoin="miter"/>
<polygon points="177.3,995.8 180.9,994.1 180.9,997.5" fill="#231815" stroke="none"/>
<circle cx="211.3" cy="971.2" r="1.4" stroke-width="0.9" fill="none"/>
<circle cx="211.3" cy="985.5" r="1.4" stroke-width="0.9" fill="none"/>
<line x1="212.7" y1="971" x2="216" y2="970.4" stroke-width="1"/>
<line x1="212.7" y1="985.7" x2="216" y2="986.3" stroke-width="1"/>
<line x1="211.2" y1="978.1" x2="218" y2="978.1" stroke-width="1.3"/>
<line x1="219.6" y1="972.9" x2="223.2" y2="972.9" stroke-width="0.8"/>
<line x1="219.6" y1="984.6" x2="223.2" y2="984.6" stroke-width="0.8"/>
<line x1="221.4" y1="982.8" x2="221.4" y2="986.4" stroke-width="0.8"/>
<polyline points="400,828.7 400,512 709.3,512 709.3,827.5 400,827.5" stroke-width="2.4" stroke-linejoin="miter"/>
<line x1="400" y1="515.3" x2="444.2" y2="515.3" stroke-width="1.1"/>
<line x1="400" y1="537" x2="444.2" y2="537" stroke-width="1.1"/>
<line x1="416" y1="515.3" x2="416" y2="537" stroke-width="1.1"/>
<line x1="421.7" y1="515.3" x2="421.7" y2="537" stroke-width="1.1"/>
<line x1="443.6" y1="515.3" x2="443.6" y2="537" stroke-width="1.1"/>
<circle cx="432.65" cy="526.15" r="10.85" stroke-width="1.1" fill="none"/>
<polyline points="421.7,524.55 431.05,524.55 431.05,515.3" stroke-width="0.99" stroke-linejoin="round"/>
<polyline points="421.7,527.75 431.05,527.75 431.05,537" stroke-width="0.99" stroke-linejoin="round"/>
<polyline points="443.6,524.55 434.25,524.55 434.25,515.3" stroke-width="0.99" stroke-linejoin="round"/>
<polyline points="443.6,527.75 434.25,527.75 434.25,537" stroke-width="0.99" stroke-linejoin="round"/>
<text class="l" font-size="13.5" text-anchor="middle" transform="translate(407.2 530.95) scale(0.85 1)">1</text>
<line x1="617.5" y1="515.3" x2="709.3" y2="515.3" stroke-width="1.1"/>
<line x1="617.5" y1="537" x2="709.3" y2="537" stroke-width="1.1"/>
<line x1="633.8" y1="515.3" x2="633.8" y2="537" stroke-width="1.1"/>
<line x1="639.5" y1="515.3" x2="639.5" y2="537" stroke-width="1.1"/>
<line x1="661.7" y1="515.3" x2="661.7" y2="537" stroke-width="1.1"/>
<line x1="665" y1="515.3" x2="665" y2="537" stroke-width="1.1"/>
<line x1="686.3" y1="515.3" x2="686.3" y2="537" stroke-width="1.1"/>
<line x1="692" y1="515.3" x2="692" y2="537" stroke-width="1.1"/>
<circle cx="650.6" cy="526.15" r="10.85" stroke-width="1.1" fill="none"/>
<polyline points="639.5,524.55 649,524.55 649,515.3" stroke-width="0.99" stroke-linejoin="round"/>
<polyline points="639.5,527.75 649,527.75 649,537" stroke-width="0.99" stroke-linejoin="round"/>
<polyline points="661.7,524.55 652.2,524.55 652.2,515.3" stroke-width="0.99" stroke-linejoin="round"/>
<polyline points="661.7,527.75 652.2,527.75 652.2,537" stroke-width="0.99" stroke-linejoin="round"/>
<circle cx="675.65" cy="526.15" r="10.65" stroke-width="1.1" fill="none"/>
<polyline points="665,524.55 674.05,524.55 674.05,515.3" stroke-width="0.99" stroke-linejoin="round"/>
<polyline points="665,527.75 674.05,527.75 674.05,537" stroke-width="0.99" stroke-linejoin="round"/>
<polyline points="686.3,524.55 677.25,524.55 677.25,515.3" stroke-width="0.99" stroke-linejoin="round"/>
<polyline points="686.3,527.75 677.25,527.75 677.25,537" stroke-width="0.99" stroke-linejoin="round"/>
<text class="l" font-size="11.8" text-anchor="middle" letter-spacing="0.3" transform="translate(626 530.35) scale(0.85 1)">25</text>
<text class="l" font-size="11.5" text-anchor="middle" letter-spacing="0.3" transform="translate(701.2 530.35) scale(0.82 1)">13</text>
<line x1="400" y1="541.43" x2="444.2" y2="541.43" stroke-width="1.1"/>
<line x1="400" y1="563.13" x2="444.2" y2="563.13" stroke-width="1.1"/>
<line x1="416" y1="541.43" x2="416" y2="563.13" stroke-width="1.1"/>
<line x1="421.7" y1="541.43" x2="421.7" y2="563.13" stroke-width="1.1"/>
<line x1="443.6" y1="541.43" x2="443.6" y2="563.13" stroke-width="1.1"/>
<circle cx="432.65" cy="552.28" r="10.85" stroke-width="1.1" fill="none"/>
<polyline points="421.7,550.68 431.05,550.68 431.05,541.43" stroke-width="0.99" stroke-linejoin="round"/>
<polyline points="421.7,553.88 431.05,553.88 431.05,563.13" stroke-width="0.99" stroke-linejoin="round"/>
<polyline points="443.6,550.68 434.25,550.68 434.25,541.43" stroke-width="0.99" stroke-linejoin="round"/>
<polyline points="443.6,553.88 434.25,553.88 434.25,563.13" stroke-width="0.99" stroke-linejoin="round"/>
<text class="l" font-size="13.5" text-anchor="middle" transform="translate(407.2 557.08) scale(0.85 1)">2</text>
<line x1="617.5" y1="541.43" x2="709.3" y2="541.43" stroke-width="1.1"/>
<line x1="617.5" y1="563.13" x2="709.3" y2="563.13" stroke-width="1.1"/>
<line x1="633.8" y1="541.43" x2="633.8" y2="563.13" stroke-width="1.1"/>
<line x1="639.5" y1="541.43" x2="639.5" y2="563.13" stroke-width="1.1"/>
<line x1="661.7" y1="541.43" x2="661.7" y2="563.13" stroke-width="1.1"/>
<line x1="665" y1="541.43" x2="665" y2="563.13" stroke-width="1.1"/>
<line x1="686.3" y1="541.43" x2="686.3" y2="563.13" stroke-width="1.1"/>
<line x1="692" y1="541.43" x2="692" y2="563.13" stroke-width="1.1"/>
<circle cx="650.6" cy="552.28" r="10.85" stroke-width="1.1" fill="none"/>
<polyline points="639.5,550.68 649,550.68 649,541.43" stroke-width="0.99" stroke-linejoin="round"/>
<polyline points="639.5,553.88 649,553.88 649,563.13" stroke-width="0.99" stroke-linejoin="round"/>
<polyline points="661.7,550.68 652.2,550.68 652.2,541.43" stroke-width="0.99" stroke-linejoin="round"/>
<polyline points="661.7,553.88 652.2,553.88 652.2,563.13" stroke-width="0.99" stroke-linejoin="round"/>
<circle cx="675.65" cy="552.28" r="10.65" stroke-width="1.1" fill="none"/>
<polyline points="665,550.68 674.05,550.68 674.05,541.43" stroke-width="0.99" stroke-linejoin="round"/>
<polyline points="665,553.88 674.05,553.88 674.05,563.13" stroke-width="0.99" stroke-linejoin="round"/>
<polyline points="686.3,550.68 677.25,550.68 677.25,541.43" stroke-width="0.99" stroke-linejoin="round"/>
<polyline points="686.3,553.88 677.25,553.88 677.25,563.13" stroke-width="0.99" stroke-linejoin="round"/>
<text class="l" font-size="11.8" text-anchor="middle" letter-spacing="0.3" transform="translate(626 556.48) scale(0.85 1)">26</text>
<text class="l" font-size="11.5" text-anchor="middle" letter-spacing="0.3" transform="translate(701.2 556.48) scale(0.82 1)">14</text>
<line x1="400" y1="567.56" x2="444.2" y2="567.56" stroke-width="1.1"/>
<line x1="400" y1="589.26" x2="444.2" y2="589.26" stroke-width="1.1"/>
<line x1="416" y1="567.56" x2="416" y2="589.26" stroke-width="1.1"/>
<line x1="421.7" y1="567.56" x2="421.7" y2="589.26" stroke-width="1.1"/>
<line x1="443.6" y1="567.56" x2="443.6" y2="589.26" stroke-width="1.1"/>
<circle cx="432.65" cy="578.41" r="10.85" stroke-width="1.1" fill="none"/>
<polyline points="421.7,576.81 431.05,576.81 431.05,567.56" stroke-width="0.99" stroke-linejoin="round"/>
<polyline points="421.7,580.01 431.05,580.01 431.05,589.26" stroke-width="0.99" stroke-linejoin="round"/>
<polyline points="443.6,576.81 434.25,576.81 434.25,567.56" stroke-width="0.99" stroke-linejoin="round"/>
<polyline points="443.6,580.01 434.25,580.01 434.25,589.26" stroke-width="0.99" stroke-linejoin="round"/>
<text class="l" font-size="13.5" text-anchor="middle" transform="translate(407.2 583.21) scale(0.85 1)">3</text>
<line x1="617.5" y1="567.56" x2="709.3" y2="567.56" stroke-width="1.1"/>
<line x1="617.5" y1="589.26" x2="709.3" y2="589.26" stroke-width="1.1"/>
<line x1="633.8" y1="567.56" x2="633.8" y2="589.26" stroke-width="1.1"/>
<line x1="639.5" y1="567.56" x2="639.5" y2="589.26" stroke-width="1.1"/>
<line x1="661.7" y1="567.56" x2="661.7" y2="589.26" stroke-width="1.1"/>
<line x1="665" y1="567.56" x2="665" y2="589.26" stroke-width="1.1"/>
<line x1="686.3" y1="567.56" x2="686.3" y2="589.26" stroke-width="1.1"/>
<line x1="692" y1="567.56" x2="692" y2="589.26" stroke-width="1.1"/>
<circle cx="650.6" cy="578.41" r="10.85" stroke-width="1.1" fill="none"/>
<polyline points="639.5,576.81 649,576.81 649,567.56" stroke-width="0.99" stroke-linejoin="round"/>
<polyline points="639.5,580.01 649,580.01 649,589.26" stroke-width="0.99" stroke-linejoin="round"/>
<polyline points="661.7,576.81 652.2,576.81 652.2,567.56" stroke-width="0.99" stroke-linejoin="round"/>
<polyline points="661.7,580.01 652.2,580.01 652.2,589.26" stroke-width="0.99" stroke-linejoin="round"/>
<circle cx="675.65" cy="578.41" r="10.65" stroke-width="1.1" fill="none"/>
<polyline points="665,576.81 674.05,576.81 674.05,567.56" stroke-width="0.99" stroke-linejoin="round"/>
<polyline points="665,580.01 674.05,580.01 674.05,589.26" stroke-width="0.99" stroke-linejoin="round"/>
<polyline points="686.3,576.81 677.25,576.81 677.25,567.56" stroke-width="0.99" stroke-linejoin="round"/>
<polyline points="686.3,580.01 677.25,580.01 677.25,589.26" stroke-width="0.99" stroke-linejoin="round"/>
<text class="l" font-size="11.8" text-anchor="middle" letter-spacing="0.3" transform="translate(626 582.61) scale(0.85 1)">27</text>
<text class="l" font-size="11.5" text-anchor="middle" letter-spacing="0.3" transform="translate(701.2 582.61) scale(0.82 1)">15</text>
<line x1="400" y1="593.69" x2="444.2" y2="593.69" stroke-width="1.1"/>
<line x1="400" y1="615.39" x2="444.2" y2="615.39" stroke-width="1.1"/>
<line x1="416" y1="593.69" x2="416" y2="615.39" stroke-width="1.1"/>
<line x1="421.7" y1="593.69" x2="421.7" y2="615.39" stroke-width="1.1"/>
<line x1="443.6" y1="593.69" x2="443.6" y2="615.39" stroke-width="1.1"/>
<circle cx="432.65" cy="604.54" r="10.85" stroke-width="1.1" fill="none"/>
<polyline points="421.7,602.94 431.05,602.94 431.05,593.69" stroke-width="0.99" stroke-linejoin="round"/>
<polyline points="421.7,606.14 431.05,606.14 431.05,615.39" stroke-width="0.99" stroke-linejoin="round"/>
<polyline points="443.6,602.94 434.25,602.94 434.25,593.69" stroke-width="0.99" stroke-linejoin="round"/>
<polyline points="443.6,606.14 434.25,606.14 434.25,615.39" stroke-width="0.99" stroke-linejoin="round"/>
<text class="l" font-size="13.5" text-anchor="middle" transform="translate(407.2 609.34) scale(0.85 1)">4</text>
<line x1="617.5" y1="593.69" x2="709.3" y2="593.69" stroke-width="1.1"/>
<line x1="617.5" y1="615.39" x2="709.3" y2="615.39" stroke-width="1.1"/>
<line x1="633.8" y1="593.69" x2="633.8" y2="615.39" stroke-width="1.1"/>
<line x1="639.5" y1="593.69" x2="639.5" y2="615.39" stroke-width="1.1"/>
<line x1="661.7" y1="593.69" x2="661.7" y2="615.39" stroke-width="1.1"/>
<line x1="665" y1="593.69" x2="665" y2="615.39" stroke-width="1.1"/>
<line x1="686.3" y1="593.69" x2="686.3" y2="615.39" stroke-width="1.1"/>
<line x1="692" y1="593.69" x2="692" y2="615.39" stroke-width="1.1"/>
<circle cx="650.6" cy="604.54" r="10.85" stroke-width="1.1" fill="none"/>
<polyline points="639.5,602.94 649,602.94 649,593.69" stroke-width="0.99" stroke-linejoin="round"/>
<polyline points="639.5,606.14 649,606.14 649,615.39" stroke-width="0.99" stroke-linejoin="round"/>
<polyline points="661.7,602.94 652.2,602.94 652.2,593.69" stroke-width="0.99" stroke-linejoin="round"/>
<polyline points="661.7,606.14 652.2,606.14 652.2,615.39" stroke-width="0.99" stroke-linejoin="round"/>
<circle cx="675.65" cy="604.54" r="10.65" stroke-width="1.1" fill="none"/>
<polyline points="665,602.94 674.05,602.94 674.05,593.69" stroke-width="0.99" stroke-linejoin="round"/>
<polyline points="665,606.14 674.05,606.14 674.05,615.39" stroke-width="0.99" stroke-linejoin="round"/>
<polyline points="686.3,602.94 677.25,602.94 677.25,593.69" stroke-width="0.99" stroke-linejoin="round"/>
<polyline points="686.3,606.14 677.25,606.14 677.25,615.39" stroke-width="0.99" stroke-linejoin="round"/>
<text class="l" font-size="11.8" text-anchor="middle" letter-spacing="0.3" transform="translate(626 608.74) scale(0.85 1)">28</text>
<text class="l" font-size="11.5" text-anchor="middle" letter-spacing="0.3" transform="translate(701.2 608.74) scale(0.82 1)">16</text>
<line x1="400" y1="619.82" x2="444.2" y2="619.82" stroke-width="1.1"/>
<line x1="400" y1="641.52" x2="444.2" y2="641.52" stroke-width="1.1"/>
<line x1="416" y1="619.82" x2="416" y2="641.52" stroke-width="1.1"/>
<line x1="421.7" y1="619.82" x2="421.7" y2="641.52" stroke-width="1.1"/>
<line x1="443.6" y1="619.82" x2="443.6" y2="641.52" stroke-width="1.1"/>
<circle cx="432.65" cy="630.67" r="10.85" stroke-width="1.1" fill="none"/>
<polyline points="421.7,629.07 431.05,629.07 431.05,619.82" stroke-width="0.99" stroke-linejoin="round"/>
<polyline points="421.7,632.27 431.05,632.27 431.05,641.52" stroke-width="0.99" stroke-linejoin="round"/>
<polyline points="443.6,629.07 434.25,629.07 434.25,619.82" stroke-width="0.99" stroke-linejoin="round"/>
<polyline points="443.6,632.27 434.25,632.27 434.25,641.52" stroke-width="0.99" stroke-linejoin="round"/>
<text class="l" font-size="13.5" text-anchor="middle" transform="translate(407.2 635.47) scale(0.85 1)">5</text>
<line x1="617.5" y1="619.82" x2="709.3" y2="619.82" stroke-width="1.1"/>
<line x1="617.5" y1="641.52" x2="709.3" y2="641.52" stroke-width="1.1"/>
<line x1="633.8" y1="619.82" x2="633.8" y2="641.52" stroke-width="1.1"/>
<line x1="639.5" y1="619.82" x2="639.5" y2="641.52" stroke-width="1.1"/>
<line x1="661.7" y1="619.82" x2="661.7" y2="641.52" stroke-width="1.1"/>
<line x1="665" y1="619.82" x2="665" y2="641.52" stroke-width="1.1"/>
<line x1="686.3" y1="619.82" x2="686.3" y2="641.52" stroke-width="1.1"/>
<line x1="692" y1="619.82" x2="692" y2="641.52" stroke-width="1.1"/>
<circle cx="650.6" cy="630.67" r="10.85" stroke-width="1.1" fill="none"/>
<polyline points="639.5,629.07 649,629.07 649,619.82" stroke-width="0.99" stroke-linejoin="round"/>
<polyline points="639.5,632.27 649,632.27 649,641.52" stroke-width="0.99" stroke-linejoin="round"/>
<polyline points="661.7,629.07 652.2,629.07 652.2,619.82" stroke-width="0.99" stroke-linejoin="round"/>
<polyline points="661.7,632.27 652.2,632.27 652.2,641.52" stroke-width="0.99" stroke-linejoin="round"/>
<circle cx="675.65" cy="630.67" r="10.65" stroke-width="1.1" fill="none"/>
<polyline points="665,629.07 674.05,629.07 674.05,619.82" stroke-width="0.99" stroke-linejoin="round"/>
<polyline points="665,632.27 674.05,632.27 674.05,641.52" stroke-width="0.99" stroke-linejoin="round"/>
<polyline points="686.3,629.07 677.25,629.07 677.25,619.82" stroke-width="0.99" stroke-linejoin="round"/>
<polyline points="686.3,632.27 677.25,632.27 677.25,641.52" stroke-width="0.99" stroke-linejoin="round"/>
<text class="l" font-size="11.8" text-anchor="middle" letter-spacing="0.3" transform="translate(626 634.87) scale(0.85 1)">29</text>
<text class="l" font-size="11.5" text-anchor="middle" letter-spacing="0.3" transform="translate(701.2 634.87) scale(0.82 1)">17</text>
<line x1="400" y1="645.95" x2="444.2" y2="645.95" stroke-width="1.1"/>
<line x1="400" y1="667.65" x2="444.2" y2="667.65" stroke-width="1.1"/>
<line x1="416" y1="645.95" x2="416" y2="667.65" stroke-width="1.1"/>
<line x1="421.7" y1="645.95" x2="421.7" y2="667.65" stroke-width="1.1"/>
<line x1="443.6" y1="645.95" x2="443.6" y2="667.65" stroke-width="1.1"/>
<circle cx="432.65" cy="656.8" r="10.85" stroke-width="1.1" fill="none"/>
<polyline points="421.7,655.2 431.05,655.2 431.05,645.95" stroke-width="0.99" stroke-linejoin="round"/>
<polyline points="421.7,658.4 431.05,658.4 431.05,667.65" stroke-width="0.99" stroke-linejoin="round"/>
<polyline points="443.6,655.2 434.25,655.2 434.25,645.95" stroke-width="0.99" stroke-linejoin="round"/>
<polyline points="443.6,658.4 434.25,658.4 434.25,667.65" stroke-width="0.99" stroke-linejoin="round"/>
<text class="l" font-size="13.5" text-anchor="middle" transform="translate(407.2 661.6) scale(0.85 1)">6</text>
<line x1="617.5" y1="645.95" x2="709.3" y2="645.95" stroke-width="1.1"/>
<line x1="617.5" y1="667.65" x2="709.3" y2="667.65" stroke-width="1.1"/>
<line x1="633.8" y1="645.95" x2="633.8" y2="667.65" stroke-width="1.1"/>
<line x1="639.5" y1="645.95" x2="639.5" y2="667.65" stroke-width="1.1"/>
<line x1="661.7" y1="645.95" x2="661.7" y2="667.65" stroke-width="1.1"/>
<line x1="665" y1="645.95" x2="665" y2="667.65" stroke-width="1.1"/>
<line x1="686.3" y1="645.95" x2="686.3" y2="667.65" stroke-width="1.1"/>
<line x1="692" y1="645.95" x2="692" y2="667.65" stroke-width="1.1"/>
<circle cx="650.6" cy="656.8" r="10.85" stroke-width="1.1" fill="none"/>
<polyline points="639.5,655.2 649,655.2 649,645.95" stroke-width="0.99" stroke-linejoin="round"/>
<polyline points="639.5,658.4 649,658.4 649,667.65" stroke-width="0.99" stroke-linejoin="round"/>
<polyline points="661.7,655.2 652.2,655.2 652.2,645.95" stroke-width="0.99" stroke-linejoin="round"/>
<polyline points="661.7,658.4 652.2,658.4 652.2,667.65" stroke-width="0.99" stroke-linejoin="round"/>
<circle cx="675.65" cy="656.8" r="10.65" stroke-width="1.1" fill="none"/>
<polyline points="665,655.2 674.05,655.2 674.05,645.95" stroke-width="0.99" stroke-linejoin="round"/>
<polyline points="665,658.4 674.05,658.4 674.05,667.65" stroke-width="0.99" stroke-linejoin="round"/>
<polyline points="686.3,655.2 677.25,655.2 677.25,645.95" stroke-width="0.99" stroke-linejoin="round"/>
<polyline points="686.3,658.4 677.25,658.4 677.25,667.65" stroke-width="0.99" stroke-linejoin="round"/>
<text class="l" font-size="11.8" text-anchor="middle" letter-spacing="0.3" transform="translate(626 661) scale(0.85 1)">30</text>
<text class="l" font-size="11.5" text-anchor="middle" letter-spacing="0.3" transform="translate(701.2 661) scale(0.82 1)">18</text>
<line x1="400" y1="672.08" x2="444.2" y2="672.08" stroke-width="1.1"/>
<line x1="400" y1="693.78" x2="444.2" y2="693.78" stroke-width="1.1"/>
<line x1="416" y1="672.08" x2="416" y2="693.78" stroke-width="1.1"/>
<line x1="421.7" y1="672.08" x2="421.7" y2="693.78" stroke-width="1.1"/>
<line x1="443.6" y1="672.08" x2="443.6" y2="693.78" stroke-width="1.1"/>
<circle cx="432.65" cy="682.93" r="10.85" stroke-width="1.1" fill="none"/>
<polyline points="421.7,681.33 431.05,681.33 431.05,672.08" stroke-width="0.99" stroke-linejoin="round"/>
<polyline points="421.7,684.53 431.05,684.53 431.05,693.78" stroke-width="0.99" stroke-linejoin="round"/>
<polyline points="443.6,681.33 434.25,681.33 434.25,672.08" stroke-width="0.99" stroke-linejoin="round"/>
<polyline points="443.6,684.53 434.25,684.53 434.25,693.78" stroke-width="0.99" stroke-linejoin="round"/>
<text class="l" font-size="13.5" text-anchor="middle" transform="translate(407.2 687.73) scale(0.85 1)">7</text>
<line x1="617.5" y1="672.08" x2="709.3" y2="672.08" stroke-width="1.1"/>
<line x1="617.5" y1="693.78" x2="709.3" y2="693.78" stroke-width="1.1"/>
<line x1="633.8" y1="672.08" x2="633.8" y2="693.78" stroke-width="1.1"/>
<line x1="639.5" y1="672.08" x2="639.5" y2="693.78" stroke-width="1.1"/>
<line x1="661.7" y1="672.08" x2="661.7" y2="693.78" stroke-width="1.1"/>
<line x1="665" y1="672.08" x2="665" y2="693.78" stroke-width="1.1"/>
<line x1="686.3" y1="672.08" x2="686.3" y2="693.78" stroke-width="1.1"/>
<line x1="692" y1="672.08" x2="692" y2="693.78" stroke-width="1.1"/>
<circle cx="650.6" cy="682.93" r="10.85" stroke-width="1.1" fill="none"/>
<polyline points="639.5,681.33 649,681.33 649,672.08" stroke-width="0.99" stroke-linejoin="round"/>
<polyline points="639.5,684.53 649,684.53 649,693.78" stroke-width="0.99" stroke-linejoin="round"/>
<polyline points="661.7,681.33 652.2,681.33 652.2,672.08" stroke-width="0.99" stroke-linejoin="round"/>
<polyline points="661.7,684.53 652.2,684.53 652.2,693.78" stroke-width="0.99" stroke-linejoin="round"/>
<circle cx="675.65" cy="682.93" r="10.65" stroke-width="1.1" fill="none"/>
<polyline points="665,681.33 674.05,681.33 674.05,672.08" stroke-width="0.99" stroke-linejoin="round"/>
<polyline points="665,684.53 674.05,684.53 674.05,693.78" stroke-width="0.99" stroke-linejoin="round"/>
<polyline points="686.3,681.33 677.25,681.33 677.25,672.08" stroke-width="0.99" stroke-linejoin="round"/>
<polyline points="686.3,684.53 677.25,684.53 677.25,693.78" stroke-width="0.99" stroke-linejoin="round"/>
<text class="l" font-size="11.8" text-anchor="middle" letter-spacing="0.3" transform="translate(626 687.13) scale(0.85 1)">31</text>
<text class="l" font-size="11.5" text-anchor="middle" letter-spacing="0.3" transform="translate(701.2 687.13) scale(0.82 1)">19</text>
<line x1="400" y1="698.21" x2="444.2" y2="698.21" stroke-width="1.1"/>
<line x1="400" y1="719.91" x2="444.2" y2="719.91" stroke-width="1.1"/>
<line x1="416" y1="698.21" x2="416" y2="719.91" stroke-width="1.1"/>
<line x1="421.7" y1="698.21" x2="421.7" y2="719.91" stroke-width="1.1"/>
<line x1="443.6" y1="698.21" x2="443.6" y2="719.91" stroke-width="1.1"/>
<circle cx="432.65" cy="709.06" r="10.85" stroke-width="1.1" fill="none"/>
<polyline points="421.7,707.46 431.05,707.46 431.05,698.21" stroke-width="0.99" stroke-linejoin="round"/>
<polyline points="421.7,710.66 431.05,710.66 431.05,719.91" stroke-width="0.99" stroke-linejoin="round"/>
<polyline points="443.6,707.46 434.25,707.46 434.25,698.21" stroke-width="0.99" stroke-linejoin="round"/>
<polyline points="443.6,710.66 434.25,710.66 434.25,719.91" stroke-width="0.99" stroke-linejoin="round"/>
<text class="l" font-size="13.5" text-anchor="middle" transform="translate(407.2 713.86) scale(0.85 1)">8</text>
<line x1="617.5" y1="698.21" x2="709.3" y2="698.21" stroke-width="1.1"/>
<line x1="617.5" y1="719.91" x2="709.3" y2="719.91" stroke-width="1.1"/>
<line x1="633.8" y1="698.21" x2="633.8" y2="719.91" stroke-width="1.1"/>
<line x1="639.5" y1="698.21" x2="639.5" y2="719.91" stroke-width="1.1"/>
<line x1="661.7" y1="698.21" x2="661.7" y2="719.91" stroke-width="1.1"/>
<line x1="665" y1="698.21" x2="665" y2="719.91" stroke-width="1.1"/>
<line x1="686.3" y1="698.21" x2="686.3" y2="719.91" stroke-width="1.1"/>
<line x1="692" y1="698.21" x2="692" y2="719.91" stroke-width="1.1"/>
<circle cx="650.6" cy="709.06" r="10.85" stroke-width="1.1" fill="none"/>
<polyline points="639.5,707.46 649,707.46 649,698.21" stroke-width="0.99" stroke-linejoin="round"/>
<polyline points="639.5,710.66 649,710.66 649,719.91" stroke-width="0.99" stroke-linejoin="round"/>
<polyline points="661.7,707.46 652.2,707.46 652.2,698.21" stroke-width="0.99" stroke-linejoin="round"/>
<polyline points="661.7,710.66 652.2,710.66 652.2,719.91" stroke-width="0.99" stroke-linejoin="round"/>
<circle cx="675.65" cy="709.06" r="10.65" stroke-width="1.1" fill="none"/>
<polyline points="665,707.46 674.05,707.46 674.05,698.21" stroke-width="0.99" stroke-linejoin="round"/>
<polyline points="665,710.66 674.05,710.66 674.05,719.91" stroke-width="0.99" stroke-linejoin="round"/>
<polyline points="686.3,707.46 677.25,707.46 677.25,698.21" stroke-width="0.99" stroke-linejoin="round"/>
<polyline points="686.3,710.66 677.25,710.66 677.25,719.91" stroke-width="0.99" stroke-linejoin="round"/>
<text class="l" font-size="11.8" text-anchor="middle" letter-spacing="0.3" transform="translate(626 713.26) scale(0.85 1)">32</text>
<text class="l" font-size="11.5" text-anchor="middle" letter-spacing="0.3" transform="translate(701.2 713.26) scale(0.82 1)">20</text>
<line x1="400" y1="724.34" x2="444.2" y2="724.34" stroke-width="1.1"/>
<line x1="400" y1="746.04" x2="444.2" y2="746.04" stroke-width="1.1"/>
<line x1="416" y1="724.34" x2="416" y2="746.04" stroke-width="1.1"/>
<line x1="421.7" y1="724.34" x2="421.7" y2="746.04" stroke-width="1.1"/>
<line x1="443.6" y1="724.34" x2="443.6" y2="746.04" stroke-width="1.1"/>
<circle cx="432.65" cy="735.19" r="10.85" stroke-width="1.1" fill="none"/>
<polyline points="421.7,733.59 431.05,733.59 431.05,724.34" stroke-width="0.99" stroke-linejoin="round"/>
<polyline points="421.7,736.79 431.05,736.79 431.05,746.04" stroke-width="0.99" stroke-linejoin="round"/>
<polyline points="443.6,733.59 434.25,733.59 434.25,724.34" stroke-width="0.99" stroke-linejoin="round"/>
<polyline points="443.6,736.79 434.25,736.79 434.25,746.04" stroke-width="0.99" stroke-linejoin="round"/>
<text class="l" font-size="13.5" text-anchor="middle" transform="translate(407.2 739.99) scale(0.85 1)">9</text>
<line x1="617.5" y1="724.34" x2="709.3" y2="724.34" stroke-width="1.1"/>
<line x1="617.5" y1="746.04" x2="709.3" y2="746.04" stroke-width="1.1"/>
<line x1="633.8" y1="724.34" x2="633.8" y2="746.04" stroke-width="1.1"/>
<line x1="639.5" y1="724.34" x2="639.5" y2="746.04" stroke-width="1.1"/>
<line x1="661.7" y1="724.34" x2="661.7" y2="746.04" stroke-width="1.1"/>
<line x1="665" y1="724.34" x2="665" y2="746.04" stroke-width="1.1"/>
<line x1="686.3" y1="724.34" x2="686.3" y2="746.04" stroke-width="1.1"/>
<line x1="692" y1="724.34" x2="692" y2="746.04" stroke-width="1.1"/>
<circle cx="650.6" cy="735.19" r="10.85" stroke-width="1.1" fill="none"/>
<polyline points="639.5,733.59 649,733.59 649,724.34" stroke-width="0.99" stroke-linejoin="round"/>
<polyline points="639.5,736.79 649,736.79 649,746.04" stroke-width="0.99" stroke-linejoin="round"/>
<polyline points="661.7,733.59 652.2,733.59 652.2,724.34" stroke-width="0.99" stroke-linejoin="round"/>
<polyline points="661.7,736.79 652.2,736.79 652.2,746.04" stroke-width="0.99" stroke-linejoin="round"/>
<circle cx="675.65" cy="735.19" r="10.65" stroke-width="1.1" fill="none"/>
<polyline points="665,733.59 674.05,733.59 674.05,724.34" stroke-width="0.99" stroke-linejoin="round"/>
<polyline points="665,736.79 674.05,736.79 674.05,746.04" stroke-width="0.99" stroke-linejoin="round"/>
<polyline points="686.3,733.59 677.25,733.59 677.25,724.34" stroke-width="0.99" stroke-linejoin="round"/>
<polyline points="686.3,736.79 677.25,736.79 677.25,746.04" stroke-width="0.99" stroke-linejoin="round"/>
<text class="l" font-size="11.8" text-anchor="middle" letter-spacing="0.3" transform="translate(626 739.39) scale(0.85 1)">33</text>
<text class="l" font-size="11.5" text-anchor="middle" letter-spacing="0.3" transform="translate(701.2 739.39) scale(0.82 1)">21</text>
<line x1="400" y1="750.47" x2="444.2" y2="750.47" stroke-width="1.1"/>
<line x1="400" y1="772.17" x2="444.2" y2="772.17" stroke-width="1.1"/>
<line x1="416" y1="750.47" x2="416" y2="772.17" stroke-width="1.1"/>
<line x1="421.7" y1="750.47" x2="421.7" y2="772.17" stroke-width="1.1"/>
<line x1="443.6" y1="750.47" x2="443.6" y2="772.17" stroke-width="1.1"/>
<circle cx="432.65" cy="761.32" r="10.85" stroke-width="1.1" fill="none"/>
<polyline points="421.7,759.72 431.05,759.72 431.05,750.47" stroke-width="0.99" stroke-linejoin="round"/>
<polyline points="421.7,762.92 431.05,762.92 431.05,772.17" stroke-width="0.99" stroke-linejoin="round"/>
<polyline points="443.6,759.72 434.25,759.72 434.25,750.47" stroke-width="0.99" stroke-linejoin="round"/>
<polyline points="443.6,762.92 434.25,762.92 434.25,772.17" stroke-width="0.99" stroke-linejoin="round"/>
<text class="l" font-size="12.5" text-anchor="middle" letter-spacing="0.2" transform="translate(408.4 765.92) scale(0.92 1)">10</text>
<line x1="617.5" y1="750.47" x2="709.3" y2="750.47" stroke-width="1.1"/>
<line x1="617.5" y1="772.17" x2="709.3" y2="772.17" stroke-width="1.1"/>
<line x1="633.8" y1="750.47" x2="633.8" y2="772.17" stroke-width="1.1"/>
<line x1="639.5" y1="750.47" x2="639.5" y2="772.17" stroke-width="1.1"/>
<line x1="661.7" y1="750.47" x2="661.7" y2="772.17" stroke-width="1.1"/>
<line x1="665" y1="750.47" x2="665" y2="772.17" stroke-width="1.1"/>
<line x1="686.3" y1="750.47" x2="686.3" y2="772.17" stroke-width="1.1"/>
<line x1="692" y1="750.47" x2="692" y2="772.17" stroke-width="1.1"/>
<circle cx="650.6" cy="761.32" r="10.85" stroke-width="1.1" fill="none"/>
<polyline points="639.5,759.72 649,759.72 649,750.47" stroke-width="0.99" stroke-linejoin="round"/>
<polyline points="639.5,762.92 649,762.92 649,772.17" stroke-width="0.99" stroke-linejoin="round"/>
<polyline points="661.7,759.72 652.2,759.72 652.2,750.47" stroke-width="0.99" stroke-linejoin="round"/>
<polyline points="661.7,762.92 652.2,762.92 652.2,772.17" stroke-width="0.99" stroke-linejoin="round"/>
<circle cx="675.65" cy="761.32" r="10.65" stroke-width="1.1" fill="none"/>
<polyline points="665,759.72 674.05,759.72 674.05,750.47" stroke-width="0.99" stroke-linejoin="round"/>
<polyline points="665,762.92 674.05,762.92 674.05,772.17" stroke-width="0.99" stroke-linejoin="round"/>
<polyline points="686.3,759.72 677.25,759.72 677.25,750.47" stroke-width="0.99" stroke-linejoin="round"/>
<polyline points="686.3,762.92 677.25,762.92 677.25,772.17" stroke-width="0.99" stroke-linejoin="round"/>
<text class="l" font-size="11.8" text-anchor="middle" letter-spacing="0.3" transform="translate(626 765.52) scale(0.85 1)">34</text>
<text class="l" font-size="11.5" text-anchor="middle" letter-spacing="0.3" transform="translate(701.2 765.52) scale(0.82 1)">22</text>
<line x1="400" y1="776.6" x2="444.2" y2="776.6" stroke-width="1.1"/>
<line x1="400" y1="798.3" x2="444.2" y2="798.3" stroke-width="1.1"/>
<line x1="416" y1="776.6" x2="416" y2="798.3" stroke-width="1.1"/>
<line x1="421.7" y1="776.6" x2="421.7" y2="798.3" stroke-width="1.1"/>
<line x1="443.6" y1="776.6" x2="443.6" y2="798.3" stroke-width="1.1"/>
<circle cx="432.65" cy="787.45" r="10.85" stroke-width="1.1" fill="none"/>
<polyline points="421.7,785.85 431.05,785.85 431.05,776.6" stroke-width="0.99" stroke-linejoin="round"/>
<polyline points="421.7,789.05 431.05,789.05 431.05,798.3" stroke-width="0.99" stroke-linejoin="round"/>
<polyline points="443.6,785.85 434.25,785.85 434.25,776.6" stroke-width="0.99" stroke-linejoin="round"/>
<polyline points="443.6,789.05 434.25,789.05 434.25,798.3" stroke-width="0.99" stroke-linejoin="round"/>
<text class="l" font-size="12.5" text-anchor="middle" letter-spacing="0.2" transform="translate(408.4 792.05) scale(0.92 1)">11</text>
<line x1="617.5" y1="776.6" x2="709.3" y2="776.6" stroke-width="1.1"/>
<line x1="617.5" y1="798.3" x2="709.3" y2="798.3" stroke-width="1.1"/>
<line x1="633.8" y1="776.6" x2="633.8" y2="798.3" stroke-width="1.1"/>
<line x1="639.5" y1="776.6" x2="639.5" y2="798.3" stroke-width="1.1"/>
<line x1="661.7" y1="776.6" x2="661.7" y2="798.3" stroke-width="1.1"/>
<line x1="665" y1="776.6" x2="665" y2="798.3" stroke-width="1.1"/>
<line x1="686.3" y1="776.6" x2="686.3" y2="798.3" stroke-width="1.1"/>
<line x1="692" y1="776.6" x2="692" y2="798.3" stroke-width="1.1"/>
<circle cx="650.6" cy="787.45" r="10.85" stroke-width="1.1" fill="none"/>
<polyline points="639.5,785.85 649,785.85 649,776.6" stroke-width="0.99" stroke-linejoin="round"/>
<polyline points="639.5,789.05 649,789.05 649,798.3" stroke-width="0.99" stroke-linejoin="round"/>
<polyline points="661.7,785.85 652.2,785.85 652.2,776.6" stroke-width="0.99" stroke-linejoin="round"/>
<polyline points="661.7,789.05 652.2,789.05 652.2,798.3" stroke-width="0.99" stroke-linejoin="round"/>
<circle cx="675.65" cy="787.45" r="10.65" stroke-width="1.1" fill="none"/>
<polyline points="665,785.85 674.05,785.85 674.05,776.6" stroke-width="0.99" stroke-linejoin="round"/>
<polyline points="665,789.05 674.05,789.05 674.05,798.3" stroke-width="0.99" stroke-linejoin="round"/>
<polyline points="686.3,785.85 677.25,785.85 677.25,776.6" stroke-width="0.99" stroke-linejoin="round"/>
<polyline points="686.3,789.05 677.25,789.05 677.25,798.3" stroke-width="0.99" stroke-linejoin="round"/>
<text class="l" font-size="11.8" text-anchor="middle" letter-spacing="0.3" transform="translate(626 791.65) scale(0.85 1)">35</text>
<text class="l" font-size="11.5" text-anchor="middle" letter-spacing="0.3" transform="translate(701.2 791.65) scale(0.82 1)">23</text>
<line x1="400" y1="802.73" x2="444.2" y2="802.73" stroke-width="1.1"/>
<line x1="400" y1="824.43" x2="444.2" y2="824.43" stroke-width="1.1"/>
<line x1="416" y1="802.73" x2="416" y2="824.43" stroke-width="1.1"/>
<line x1="421.7" y1="802.73" x2="421.7" y2="824.43" stroke-width="1.1"/>
<line x1="443.6" y1="802.73" x2="443.6" y2="824.43" stroke-width="1.1"/>
<circle cx="432.65" cy="813.58" r="10.85" stroke-width="1.1" fill="none"/>
<polyline points="421.7,811.98 431.05,811.98 431.05,802.73" stroke-width="0.99" stroke-linejoin="round"/>
<polyline points="421.7,815.18 431.05,815.18 431.05,824.43" stroke-width="0.99" stroke-linejoin="round"/>
<polyline points="443.6,811.98 434.25,811.98 434.25,802.73" stroke-width="0.99" stroke-linejoin="round"/>
<polyline points="443.6,815.18 434.25,815.18 434.25,824.43" stroke-width="0.99" stroke-linejoin="round"/>
<text class="l" font-size="12.5" text-anchor="middle" letter-spacing="0.2" transform="translate(408.4 818.18) scale(0.92 1)">12</text>
<line x1="617.5" y1="802.73" x2="709.3" y2="802.73" stroke-width="1.1"/>
<line x1="617.5" y1="824.43" x2="709.3" y2="824.43" stroke-width="1.1"/>
<line x1="633.8" y1="802.73" x2="633.8" y2="824.43" stroke-width="1.1"/>
<line x1="639.5" y1="802.73" x2="639.5" y2="824.43" stroke-width="1.1"/>
<line x1="661.7" y1="802.73" x2="661.7" y2="824.43" stroke-width="1.1"/>
<line x1="665" y1="802.73" x2="665" y2="824.43" stroke-width="1.1"/>
<line x1="686.3" y1="802.73" x2="686.3" y2="824.43" stroke-width="1.1"/>
<line x1="692" y1="802.73" x2="692" y2="824.43" stroke-width="1.1"/>
<circle cx="650.6" cy="813.58" r="10.85" stroke-width="1.1" fill="none"/>
<polyline points="639.5,811.98 649,811.98 649,802.73" stroke-width="0.99" stroke-linejoin="round"/>
<polyline points="639.5,815.18 649,815.18 649,824.43" stroke-width="0.99" stroke-linejoin="round"/>
<polyline points="661.7,811.98 652.2,811.98 652.2,802.73" stroke-width="0.99" stroke-linejoin="round"/>
<polyline points="661.7,815.18 652.2,815.18 652.2,824.43" stroke-width="0.99" stroke-linejoin="round"/>
<circle cx="675.65" cy="813.58" r="10.65" stroke-width="1.1" fill="none"/>
<polyline points="665,811.98 674.05,811.98 674.05,802.73" stroke-width="0.99" stroke-linejoin="round"/>
<polyline points="665,815.18 674.05,815.18 674.05,824.43" stroke-width="0.99" stroke-linejoin="round"/>
<polyline points="686.3,811.98 677.25,811.98 677.25,802.73" stroke-width="0.99" stroke-linejoin="round"/>
<polyline points="686.3,815.18 677.25,815.18 677.25,824.43" stroke-width="0.99" stroke-linejoin="round"/>
<text class="l" font-size="11.8" text-anchor="middle" letter-spacing="0.3" transform="translate(626 817.78) scale(0.85 1)">36</text>
<text class="l" font-size="11.5" text-anchor="middle" letter-spacing="0.3" transform="translate(701.2 817.78) scale(0.82 1)">24</text>
<path d="M395.8,520 Q392.6,521 392.6,528 L392.6,586.2 Q392.6,592.2 389.4,593.2 Q392.6,594.2 392.6,600.2 L392.6,655.8 Q392.6,662.8 395.8,663.8" stroke-width="2.2" fill="none" stroke-linecap="round"/>
<path d="M395.8,678.8 Q392.6,679.8 392.6,686.8 L392.6,716.8 Q392.6,722.8 389.4,723.8 Q392.6,724.8 392.6,730.8 L392.6,759.5 Q392.6,766.5 395.8,767.5" stroke-width="2.2" fill="none" stroke-linecap="round"/>
<path d="M395.6,777 Q392.6,778 392.6,785 L392.6,794.8 Q392.6,800.8 389.6,801.8 Q392.6,802.8 392.6,808.8 L392.6,818.8 Q392.6,825.8 395.6,826.8" stroke-width="2.2" fill="none" stroke-linecap="round"/>
<path d="M608.7,517.5 Q607.3,518.5 607.3,525.5 L607.3,608.8 Q607.3,614.8 605.9,615.8 Q607.3,616.8 607.3,622.8 L607.3,705 Q607.3,712 608.7,713" stroke-width="1.5" fill="none" stroke-linecap="round"/>
<path d="M609.5,760 Q607.3,761 607.3,768 L607.3,781 Q607.3,787 605.1,788 Q607.3,789 607.3,795 L607.3,807.8 Q607.3,814.8 609.5,815.8" stroke-width="1.7" fill="none" stroke-linecap="round"/>
<path d="M714.4,760 Q716.8,761 716.8,768 L716.8,785 Q716.8,791 719.2,792 Q716.8,793 716.8,799 L716.8,815.3 Q716.8,822.3 714.4,823.3" stroke-width="1.9" fill="none" stroke-linecap="round"/>
<polyline points="389.5,593.2 367.3,593.2 367.3,551.3 280,551.3" stroke-width="2.4" stroke-linejoin="miter"/>
<polygon points="268.8,551.3 283,543.6 283,559" fill="#231815" stroke="none"/>
<polyline points="389.5,723.8 368.8,723.8 368.8,681.6 280,681.6" stroke-width="2.4" stroke-linejoin="miter"/>
<polygon points="269.5,681.6 283.5,674 283.5,689.2" fill="#231815" stroke="none"/>
<line x1="389.5" y1="801.8" x2="282" y2="801.8" stroke-width="2.4"/>
<polygon points="270.5,801.8 284.5,794 284.5,809.6" fill="#231815" stroke="none"/>
<polyline points="315.5,487 315.5,496.3 766.3,496.3" stroke-width="2.4" stroke-linejoin="miter"/>
<polygon points="315.5,473.6 307.8,488 323.4,488" fill="#231815" stroke="none"/>
<line x1="766.3" y1="487" x2="766.3" y2="496.3" stroke-width="2.4"/>
<polygon points="766.3,474.4 758.3,488 774.3,488" fill="#231815" stroke="none"/>
<polyline points="766.3,496.3 766.3,642.5 793,642.5" stroke-width="2.4" stroke-linejoin="miter"/>
<polygon points="805,642.5 791.2,634.6 791.2,650.4" fill="#231815" stroke="none"/>
<polyline points="536.3,496.3 536.3,615.8 604.5,615.8" stroke-width="2.4" stroke-linejoin="miter"/>
<polyline points="605,788 543.8,788 543.8,852" stroke-width="2.4" stroke-linejoin="miter"/>
<polygon points="543.8,864.3 535.6,850.6 552,850.6" fill="#231815" stroke="none"/>
<polyline points="719.5,792 742.5,792 742.5,881.6 811,881.6" stroke-width="2.4" stroke-linejoin="miter"/>
<polygon points="823,881.6 809.2,873.6 809.2,889.6" fill="#231815" stroke="none"/>
<rect x="365.5" y="866.8" width="364.5" height="157.2" stroke-width="2.4" fill="none"/>
<line x1="365.5" y1="890.5" x2="730" y2="890.5" stroke-width="1.3"/>
<line x1="480.5" y1="890.5" x2="480.5" y2="1024" stroke-width="1.3"/>
<line x1="604.5" y1="890.5" x2="604.5" y2="1024" stroke-width="1.3"/>
<text class="s" x="519.3" y="885.5" font-size="17.3" text-anchor="start" letter-spacing="2.2">通讯</text>
<line x1="413.3" y1="927.5" x2="464.4" y2="927.5" stroke-width="1.2"/>
<line x1="413.3" y1="952.5" x2="464.4" y2="952.5" stroke-width="1.2"/>
<line x1="432.6" y1="927.5" x2="432.6" y2="952.5" stroke-width="1.2"/>
<line x1="439" y1="927.5" x2="439" y2="952.5" stroke-width="1.2"/>
<line x1="463.8" y1="927.5" x2="463.8" y2="952.5" stroke-width="1.2"/>
<circle cx="451.4" cy="940" r="12.3" stroke-width="1.2" fill="none"/>
<polyline points="439,938.25 449.65,938.25 449.65,927.5" stroke-width="1.08" stroke-linejoin="round"/>
<polyline points="439,941.75 449.65,941.75 449.65,952.5" stroke-width="1.08" stroke-linejoin="round"/>
<polyline points="463.8,938.25 453.15,938.25 453.15,927.5" stroke-width="1.08" stroke-linejoin="round"/>
<polyline points="463.8,941.75 453.15,941.75 453.15,952.5" stroke-width="1.08" stroke-linejoin="round"/>
<text class="l" font-size="14" text-anchor="middle" letter-spacing="0.6" transform="translate(423.5 945.04) scale(0.92 1)">34</text>
<line x1="413.3" y1="957.5" x2="464.4" y2="957.5" stroke-width="1.2"/>
<line x1="413.3" y1="982.5" x2="464.4" y2="982.5" stroke-width="1.2"/>
<line x1="432.6" y1="957.5" x2="432.6" y2="982.5" stroke-width="1.2"/>
<line x1="439" y1="957.5" x2="439" y2="982.5" stroke-width="1.2"/>
<line x1="463.8" y1="957.5" x2="463.8" y2="982.5" stroke-width="1.2"/>
<circle cx="451.4" cy="970" r="12.3" stroke-width="1.2" fill="none"/>
<polyline points="439,968.25 449.65,968.25 449.65,957.5" stroke-width="1.08" stroke-linejoin="round"/>
<polyline points="439,971.75 449.65,971.75 449.65,982.5" stroke-width="1.08" stroke-linejoin="round"/>
<polyline points="463.8,968.25 453.15,968.25 453.15,957.5" stroke-width="1.08" stroke-linejoin="round"/>
<polyline points="463.8,971.75 453.15,971.75 453.15,982.5" stroke-width="1.08" stroke-linejoin="round"/>
<text class="l" font-size="14" text-anchor="middle" letter-spacing="0.6" transform="translate(423.5 975.04) scale(0.92 1)">35</text>
<text class="l b" font-size="13" text-anchor="middle" transform="translate(381.8 945) scale(0.85 1)">B</text>
<line x1="392.6" y1="940" x2="413" y2="940" stroke-width="1.2"/>
<polygon points="389.6,940 394.2,937.7 394.2,942.3" fill="#231815" stroke="none"/>
<text class="l b" font-size="13" text-anchor="middle" transform="translate(381.8 975.7) scale(0.85 1)">A</text>
<line x1="392.6" y1="970.8" x2="413" y2="970.8" stroke-width="1.2"/>
<polygon points="389.6,970.8 394.2,968.5 394.2,973.1" fill="#231815" stroke="none"/>
<text class="l b" font-size="13.6" text-anchor="middle" transform="translate(429.5 999.6) scale(0.85 1)">RS485</text>
<line x1="542.6" y1="906.8" x2="593.7" y2="906.8" stroke-width="1.2"/>
<line x1="542.6" y1="931.6" x2="593.7" y2="931.6" stroke-width="1.2"/>
<line x1="561.9" y1="906.8" x2="561.9" y2="931.6" stroke-width="1.2"/>
<line x1="568.3" y1="906.8" x2="568.3" y2="931.6" stroke-width="1.2"/>
<line x1="593.1" y1="906.8" x2="593.1" y2="931.6" stroke-width="1.2"/>
<circle cx="580.7" cy="919.2" r="12.3" stroke-width="1.2" fill="none"/>
<polyline points="568.3,917.46 578.96,917.46 578.96,906.8" stroke-width="1.08" stroke-linejoin="round"/>
<polyline points="568.3,920.94 578.96,920.94 578.96,931.6" stroke-width="1.08" stroke-linejoin="round"/>
<polyline points="593.1,917.46 582.44,917.46 582.44,906.8" stroke-width="1.08" stroke-linejoin="round"/>
<polyline points="593.1,920.94 582.44,920.94 582.44,931.6" stroke-width="1.08" stroke-linejoin="round"/>
<text class="l" font-size="14" text-anchor="middle" letter-spacing="0.6" transform="translate(552.8 924.24) scale(0.92 1)">34</text>
<text class="l b" font-size="12.5" text-anchor="middle" transform="translate(503.1 922.2) scale(0.82 1)">RXD</text>
<line x1="520.4" y1="917.8" x2="541.6" y2="917.8" stroke-width="1.2"/>
<polygon points="517.4,917.8 522,915.5 522,920.1" fill="#231815" stroke="none"/>
<line x1="542.6" y1="936.6" x2="593.7" y2="936.6" stroke-width="1.2"/>
<line x1="542.6" y1="961.4" x2="593.7" y2="961.4" stroke-width="1.2"/>
<line x1="561.9" y1="936.6" x2="561.9" y2="961.4" stroke-width="1.2"/>
<line x1="568.3" y1="936.6" x2="568.3" y2="961.4" stroke-width="1.2"/>
<line x1="593.1" y1="936.6" x2="593.1" y2="961.4" stroke-width="1.2"/>
<circle cx="580.7" cy="949" r="12.3" stroke-width="1.2" fill="none"/>
<polyline points="568.3,947.26 578.96,947.26 578.96,936.6" stroke-width="1.08" stroke-linejoin="round"/>
<polyline points="568.3,950.74 578.96,950.74 578.96,961.4" stroke-width="1.08" stroke-linejoin="round"/>
<polyline points="593.1,947.26 582.44,947.26 582.44,936.6" stroke-width="1.08" stroke-linejoin="round"/>
<polyline points="593.1,950.74 582.44,950.74 582.44,961.4" stroke-width="1.08" stroke-linejoin="round"/>
<text class="l" font-size="14" text-anchor="middle" letter-spacing="0.6" transform="translate(552.8 954.04) scale(0.92 1)">35</text>
<text class="l b" font-size="12.5" text-anchor="middle" transform="translate(503.1 952) scale(0.82 1)">TXD</text>
<line x1="520.4" y1="947.6" x2="541.6" y2="947.6" stroke-width="1.2"/>
<polygon points="517.4,947.6 522,945.3 522,949.9" fill="#231815" stroke="none"/>
<line x1="542.6" y1="966.4" x2="593.7" y2="966.4" stroke-width="1.2"/>
<line x1="542.6" y1="991.2" x2="593.7" y2="991.2" stroke-width="1.2"/>
<line x1="561.9" y1="966.4" x2="561.9" y2="991.2" stroke-width="1.2"/>
<line x1="568.3" y1="966.4" x2="568.3" y2="991.2" stroke-width="1.2"/>
<line x1="593.1" y1="966.4" x2="593.1" y2="991.2" stroke-width="1.2"/>
<circle cx="580.7" cy="978.8" r="12.3" stroke-width="1.2" fill="none"/>
<polyline points="568.3,977.06 578.96,977.06 578.96,966.4" stroke-width="1.08" stroke-linejoin="round"/>
<polyline points="568.3,980.54 578.96,980.54 578.96,991.2" stroke-width="1.08" stroke-linejoin="round"/>
<polyline points="593.1,977.06 582.44,977.06 582.44,966.4" stroke-width="1.08" stroke-linejoin="round"/>
<polyline points="593.1,980.54 582.44,980.54 582.44,991.2" stroke-width="1.08" stroke-linejoin="round"/>
<text class="l" font-size="14" text-anchor="middle" letter-spacing="0.6" transform="translate(552.8 983.84) scale(0.92 1)">36</text>
<text class="l b" font-size="12.5" text-anchor="middle" transform="translate(504.6 981.8) scale(0.82 1)">GND</text>
<line x1="521.9" y1="977.4" x2="541.6" y2="977.4" stroke-width="1.2"/>
<polygon points="518.9,977.4 523.5,975.1 523.5,979.7" fill="#231815" stroke="none"/>
<text class="l b" font-size="13.6" text-anchor="middle" transform="translate(540.5 1004.6) scale(0.85 1)">RS232</text>
<line x1="664.3" y1="906.8" x2="715.4" y2="906.8" stroke-width="1.2"/>
<line x1="664.3" y1="931.6" x2="715.4" y2="931.6" stroke-width="1.2"/>
<line x1="683.6" y1="906.8" x2="683.6" y2="931.6" stroke-width="1.2"/>
<line x1="690" y1="906.8" x2="690" y2="931.6" stroke-width="1.2"/>
<line x1="714.8" y1="906.8" x2="714.8" y2="931.6" stroke-width="1.2"/>
<circle cx="702.4" cy="919.2" r="12.3" stroke-width="1.2" fill="none"/>
<polyline points="690,917.46 700.66,917.46 700.66,906.8" stroke-width="1.08" stroke-linejoin="round"/>
<polyline points="690,920.94 700.66,920.94 700.66,931.6" stroke-width="1.08" stroke-linejoin="round"/>
<polyline points="714.8,917.46 704.14,917.46 704.14,906.8" stroke-width="1.08" stroke-linejoin="round"/>
<polyline points="714.8,920.94 704.14,920.94 704.14,931.6" stroke-width="1.08" stroke-linejoin="round"/>
<text class="l" font-size="14" text-anchor="middle" letter-spacing="0.6" transform="translate(674.5 924.24) scale(0.92 1)">34</text>
<text class="l b" font-size="12.5" text-anchor="middle" transform="translate(624.8 922.2) scale(0.82 1)">RXD</text>
<line x1="642.1" y1="917.8" x2="663.3" y2="917.8" stroke-width="1.2"/>
<polygon points="639.1,917.8 643.7,915.5 643.7,920.1" fill="#231815" stroke="none"/>
<line x1="664.3" y1="936.6" x2="715.4" y2="936.6" stroke-width="1.2"/>
<line x1="664.3" y1="961.4" x2="715.4" y2="961.4" stroke-width="1.2"/>
<line x1="683.6" y1="936.6" x2="683.6" y2="961.4" stroke-width="1.2"/>
<line x1="690" y1="936.6" x2="690" y2="961.4" stroke-width="1.2"/>
<line x1="714.8" y1="936.6" x2="714.8" y2="961.4" stroke-width="1.2"/>
<circle cx="702.4" cy="949" r="12.3" stroke-width="1.2" fill="none"/>
<polyline points="690,947.26 700.66,947.26 700.66,936.6" stroke-width="1.08" stroke-linejoin="round"/>
<polyline points="690,950.74 700.66,950.74 700.66,961.4" stroke-width="1.08" stroke-linejoin="round"/>
<polyline points="714.8,947.26 704.14,947.26 704.14,936.6" stroke-width="1.08" stroke-linejoin="round"/>
<polyline points="714.8,950.74 704.14,950.74 704.14,961.4" stroke-width="1.08" stroke-linejoin="round"/>
<text class="l" font-size="14" text-anchor="middle" letter-spacing="0.6" transform="translate(674.5 954.04) scale(0.92 1)">35</text>
<text class="l b" font-size="12.5" text-anchor="middle" transform="translate(624.8 952) scale(0.82 1)">TXD</text>
<line x1="642.1" y1="947.6" x2="663.3" y2="947.6" stroke-width="1.2"/>
<polygon points="639.1,947.6 643.7,945.3 643.7,949.9" fill="#231815" stroke="none"/>
<line x1="664.3" y1="966.4" x2="715.4" y2="966.4" stroke-width="1.2"/>
<line x1="664.3" y1="991.2" x2="715.4" y2="991.2" stroke-width="1.2"/>
<line x1="683.6" y1="966.4" x2="683.6" y2="991.2" stroke-width="1.2"/>
<line x1="690" y1="966.4" x2="690" y2="991.2" stroke-width="1.2"/>
<line x1="714.8" y1="966.4" x2="714.8" y2="991.2" stroke-width="1.2"/>
<circle cx="702.4" cy="978.8" r="12.3" stroke-width="1.2" fill="none"/>
<polyline points="690,977.06 700.66,977.06 700.66,966.4" stroke-width="1.08" stroke-linejoin="round"/>
<polyline points="690,980.54 700.66,980.54 700.66,991.2" stroke-width="1.08" stroke-linejoin="round"/>
<polyline points="714.8,977.06 704.14,977.06 704.14,966.4" stroke-width="1.08" stroke-linejoin="round"/>
<polyline points="714.8,980.54 704.14,980.54 704.14,991.2" stroke-width="1.08" stroke-linejoin="round"/>
<text class="l" font-size="14" text-anchor="middle" letter-spacing="0.6" transform="translate(674.5 983.84) scale(0.92 1)">36</text>
<text class="l b" font-size="12.5" text-anchor="middle" transform="translate(626.3 981.8) scale(0.82 1)">GND</text>
<line x1="643.6" y1="977.4" x2="663.3" y2="977.4" stroke-width="1.2"/>
<polygon points="640.6,977.4 645.2,975.1 645.2,979.7" fill="#231815" stroke="none"/>
<text class="l b" font-size="13.6" text-anchor="middle" transform="translate(665.5 1004.6) scale(0.85 1)">RS232C</text>
<rect x="829.5" y="813" width="202.5" height="210" stroke-width="2.4" fill="none"/>
<line x1="829.5" y1="840.5" x2="1032" y2="840.5" stroke-width="1.3"/>
<text class="s" x="891.6" y="833.8" font-size="17.3" text-anchor="start" letter-spacing="2.2">测量输入</text>
<line x1="829.5" y1="865.8" x2="881.7" y2="865.8" stroke-width="1.2"/>
<line x1="829.5" y1="890.4" x2="881.7" y2="890.4" stroke-width="1.2"/>
<line x1="850" y1="865.8" x2="850" y2="890.4" stroke-width="1.2"/>
<line x1="856.3" y1="865.8" x2="856.3" y2="890.4" stroke-width="1.2"/>
<line x1="881.1" y1="865.8" x2="881.1" y2="890.4" stroke-width="1.2"/>
<circle cx="868.7" cy="878.1" r="12.2" stroke-width="1.2" fill="none"/>
<polyline points="856.3,876.38 866.98,876.38 866.98,865.8" stroke-width="1.08" stroke-linejoin="round"/>
<polyline points="856.3,879.82 866.98,879.82 866.98,890.4" stroke-width="1.08" stroke-linejoin="round"/>
<polyline points="881.1,876.38 870.42,876.38 870.42,865.8" stroke-width="1.08" stroke-linejoin="round"/>
<polyline points="881.1,879.82 870.42,879.82 870.42,890.4" stroke-width="1.08" stroke-linejoin="round"/>
<text class="l" font-size="14" text-anchor="middle" letter-spacing="0.6" transform="translate(840.3 883.14) scale(0.92 1)">23</text>
<line x1="829.5" y1="896" x2="881.7" y2="896" stroke-width="1.2"/>
<line x1="829.5" y1="920.6" x2="881.7" y2="920.6" stroke-width="1.2"/>
<line x1="850" y1="896" x2="850" y2="920.6" stroke-width="1.2"/>
<line x1="856.3" y1="896" x2="856.3" y2="920.6" stroke-width="1.2"/>
<line x1="881.1" y1="896" x2="881.1" y2="920.6" stroke-width="1.2"/>
<circle cx="868.7" cy="908.3" r="12.2" stroke-width="1.2" fill="none"/>
<polyline points="856.3,906.58 866.98,906.58 866.98,896" stroke-width="1.08" stroke-linejoin="round"/>
<polyline points="856.3,910.02 866.98,910.02 866.98,920.6" stroke-width="1.08" stroke-linejoin="round"/>
<polyline points="881.1,906.58 870.42,906.58 870.42,896" stroke-width="1.08" stroke-linejoin="round"/>
<polyline points="881.1,910.02 870.42,910.02 870.42,920.6" stroke-width="1.08" stroke-linejoin="round"/>
<text class="l" font-size="14" text-anchor="middle" letter-spacing="0.6" transform="translate(840.3 913.34) scale(0.92 1)">24</text>
<polyline points="881.2,877 900.6,877 906.6,892.6 900.6,908.2 881.2,908.2" stroke-width="2.5" stroke-linejoin="miter"/>
<line x1="885.3" y1="870.2" x2="893.3" y2="870.2" stroke-width="1.3"/>
<line x1="889.3" y1="866.2" x2="889.3" y2="874.2" stroke-width="1.3"/>
<line x1="885.3" y1="915.3" x2="893.3" y2="915.3" stroke-width="1.3"/>
<text class="l b" font-size="13.5" text-anchor="middle" transform="translate(920 880.6) scale(0.84 1)">TC</text>
<line x1="918.6" y1="885" x2="913.2" y2="896.4" stroke-width="1.2"/>
<text class="l b" font-size="13.5" text-anchor="middle" transform="translate(919.3 909.7) scale(0.8 1)">mV</text>
<line x1="933" y1="851.3" x2="984.1" y2="851.3" stroke-width="1.2"/>
<line x1="933" y1="876.4" x2="984.1" y2="876.4" stroke-width="1.2"/>
<line x1="952.5" y1="851.3" x2="952.5" y2="876.4" stroke-width="1.2"/>
<line x1="958.8" y1="851.3" x2="958.8" y2="876.4" stroke-width="1.2"/>
<line x1="983.5" y1="851.3" x2="983.5" y2="876.4" stroke-width="1.2"/>
<circle cx="971.15" cy="863.85" r="12.25" stroke-width="1.2" fill="none"/>
<polyline points="958.8,862.09 969.39,862.09 969.39,851.3" stroke-width="1.08" stroke-linejoin="round"/>
<polyline points="958.8,865.61 969.39,865.61 969.39,876.4" stroke-width="1.08" stroke-linejoin="round"/>
<polyline points="983.5,862.09 972.91,862.09 972.91,851.3" stroke-width="1.08" stroke-linejoin="round"/>
<polyline points="983.5,865.61 972.91,865.61 972.91,876.4" stroke-width="1.08" stroke-linejoin="round"/>
<text class="l" font-size="14" text-anchor="middle" letter-spacing="0.6" transform="translate(943.3 868.89) scale(0.92 1)">22</text>
<line x1="933" y1="880.9" x2="984.1" y2="880.9" stroke-width="1.2"/>
<line x1="933" y1="906" x2="984.1" y2="906" stroke-width="1.2"/>
<line x1="952.5" y1="880.9" x2="952.5" y2="906" stroke-width="1.2"/>
<line x1="958.8" y1="880.9" x2="958.8" y2="906" stroke-width="1.2"/>
<line x1="983.5" y1="880.9" x2="983.5" y2="906" stroke-width="1.2"/>
<circle cx="971.15" cy="893.45" r="12.25" stroke-width="1.2" fill="none"/>
<polyline points="958.8,891.69 969.39,891.69 969.39,880.9" stroke-width="1.08" stroke-linejoin="round"/>
<polyline points="958.8,895.21 969.39,895.21 969.39,906" stroke-width="1.08" stroke-linejoin="round"/>
<polyline points="983.5,891.69 972.91,891.69 972.91,880.9" stroke-width="1.08" stroke-linejoin="round"/>
<polyline points="983.5,895.21 972.91,895.21 972.91,906" stroke-width="1.08" stroke-linejoin="round"/>
<text class="l" font-size="14" text-anchor="middle" letter-spacing="0.6" transform="translate(943.3 898.49) scale(0.92 1)">23</text>
<line x1="933" y1="911" x2="984.1" y2="911" stroke-width="1.2"/>
<line x1="933" y1="936.1" x2="984.1" y2="936.1" stroke-width="1.2"/>
<line x1="952.5" y1="911" x2="952.5" y2="936.1" stroke-width="1.2"/>
<line x1="958.8" y1="911" x2="958.8" y2="936.1" stroke-width="1.2"/>
<line x1="983.5" y1="911" x2="983.5" y2="936.1" stroke-width="1.2"/>
<circle cx="971.15" cy="923.55" r="12.25" stroke-width="1.2" fill="none"/>
<polyline points="958.8,921.79 969.39,921.79 969.39,911" stroke-width="1.08" stroke-linejoin="round"/>
<polyline points="958.8,925.31 969.39,925.31 969.39,936.1" stroke-width="1.08" stroke-linejoin="round"/>
<polyline points="983.5,921.79 972.91,921.79 972.91,911" stroke-width="1.08" stroke-linejoin="round"/>
<polyline points="983.5,925.31 972.91,925.31 972.91,936.1" stroke-width="1.08" stroke-linejoin="round"/>
<text class="l" font-size="14" text-anchor="middle" letter-spacing="0.6" transform="translate(943.3 928.59) scale(0.92 1)">24</text>
<polyline points="983.8,862.5 999.8,862.5 999.8,868.8" stroke-width="2.2" stroke-linejoin="miter"/>
<rect x="996.3" y="868.8" width="6.8" height="21.2" stroke-width="1.9" fill="none"/>
<polyline points="999.8,890 999.8,923.3 983.8,923.3" stroke-width="2.2" stroke-linejoin="miter"/>
<polyline points="983.8,892.5 991.8,892.5 991.8,907.5 999.8,907.5" stroke-width="2.2" stroke-linejoin="miter"/>
<text class="l b" font-size="13" text-anchor="middle" transform="translate(1016.6 895) scale(0.8 1)">RTD</text>
<line x1="829.5" y1="952" x2="881.7" y2="952" stroke-width="1.2"/>
<line x1="829.5" y1="976.4" x2="881.7" y2="976.4" stroke-width="1.2"/>
<line x1="850" y1="952" x2="850" y2="976.4" stroke-width="1.2"/>
<line x1="856.3" y1="952" x2="856.3" y2="976.4" stroke-width="1.2"/>
<line x1="881.1" y1="952" x2="881.1" y2="976.4" stroke-width="1.2"/>
<circle cx="868.7" cy="964.2" r="12.1" stroke-width="1.2" fill="none"/>
<polyline points="856.3,962.49 866.99,962.49 866.99,952" stroke-width="1.08" stroke-linejoin="round"/>
<polyline points="856.3,965.91 866.99,965.91 866.99,976.4" stroke-width="1.08" stroke-linejoin="round"/>
<polyline points="881.1,962.49 870.41,962.49 870.41,952" stroke-width="1.08" stroke-linejoin="round"/>
<polyline points="881.1,965.91 870.41,965.91 870.41,976.4" stroke-width="1.08" stroke-linejoin="round"/>
<text class="l" font-size="14" text-anchor="middle" letter-spacing="0.6" transform="translate(840.3 969.24) scale(0.92 1)">23</text>
<line x1="829.5" y1="982.4" x2="881.7" y2="982.4" stroke-width="1.2"/>
<line x1="829.5" y1="1007" x2="881.7" y2="1007" stroke-width="1.2"/>
<line x1="850" y1="982.4" x2="850" y2="1007" stroke-width="1.2"/>
<line x1="856.3" y1="982.4" x2="856.3" y2="1007" stroke-width="1.2"/>
<line x1="881.1" y1="982.4" x2="881.1" y2="1007" stroke-width="1.2"/>
<circle cx="868.7" cy="994.7" r="12.2" stroke-width="1.2" fill="none"/>
<polyline points="856.3,992.98 866.98,992.98 866.98,982.4" stroke-width="1.08" stroke-linejoin="round"/>
<polyline points="856.3,996.42 866.98,996.42 866.98,1007" stroke-width="1.08" stroke-linejoin="round"/>
<polyline points="881.1,992.98 870.42,992.98 870.42,982.4" stroke-width="1.08" stroke-linejoin="round"/>
<polyline points="881.1,996.42 870.42,996.42 870.42,1007" stroke-width="1.08" stroke-linejoin="round"/>
<text class="l" font-size="14" text-anchor="middle" letter-spacing="0.6" transform="translate(840.3 999.74) scale(0.92 1)">24</text>
<line x1="881.2" y1="965" x2="905.8" y2="965" stroke-width="2.2"/>
<circle cx="905.8" cy="965" r="4.2" fill="#231815" stroke="none"/>
<line x1="881.2" y1="995" x2="905.8" y2="995" stroke-width="2.2"/>
<circle cx="905.8" cy="995" r="4.2" fill="#231815" stroke="none"/>
<line x1="884.8" y1="957.3" x2="892.8" y2="957.3" stroke-width="1.3"/>
<line x1="888.8" y1="953.3" x2="888.8" y2="961.3" stroke-width="1.3"/>
<line x1="884.8" y1="1001.3" x2="892.8" y2="1001.3" stroke-width="1.3"/>
<text class="l b" font-size="12.5" text-anchor="middle" transform="translate(908.3 985) scale(0.85 1)">V</text>
<line x1="933" y1="951.3" x2="984.1" y2="951.3" stroke-width="1.2"/>
<line x1="933" y1="975.8" x2="984.1" y2="975.8" stroke-width="1.2"/>
<line x1="952.5" y1="951.3" x2="952.5" y2="975.8" stroke-width="1.2"/>
<line x1="958.8" y1="951.3" x2="958.8" y2="975.8" stroke-width="1.2"/>
<line x1="983.5" y1="951.3" x2="983.5" y2="975.8" stroke-width="1.2"/>
<circle cx="971.15" cy="963.55" r="12.15" stroke-width="1.2" fill="none"/>
<polyline points="958.8,961.83 969.43,961.83 969.43,951.3" stroke-width="1.08" stroke-linejoin="round"/>
<polyline points="958.8,965.26 969.43,965.26 969.43,975.8" stroke-width="1.08" stroke-linejoin="round"/>
<polyline points="983.5,961.83 972.87,961.83 972.87,951.3" stroke-width="1.08" stroke-linejoin="round"/>
<polyline points="983.5,965.26 972.87,965.26 972.87,975.8" stroke-width="1.08" stroke-linejoin="round"/>
<text class="l" font-size="14" text-anchor="middle" letter-spacing="0.6" transform="translate(943.3 968.59) scale(0.92 1)">22</text>
<line x1="933" y1="981.3" x2="984.1" y2="981.3" stroke-width="1.2"/>
<line x1="933" y1="1006.3" x2="984.1" y2="1006.3" stroke-width="1.2"/>
<line x1="952.5" y1="981.3" x2="952.5" y2="1006.3" stroke-width="1.2"/>
<line x1="958.8" y1="981.3" x2="958.8" y2="1006.3" stroke-width="1.2"/>
<line x1="983.5" y1="981.3" x2="983.5" y2="1006.3" stroke-width="1.2"/>
<circle cx="971.15" cy="993.8" r="12.25" stroke-width="1.2" fill="none"/>
<polyline points="958.8,992.05 969.4,992.05 969.4,981.3" stroke-width="1.08" stroke-linejoin="round"/>
<polyline points="958.8,995.55 969.4,995.55 969.4,1006.3" stroke-width="1.08" stroke-linejoin="round"/>
<polyline points="983.5,992.05 972.9,992.05 972.9,981.3" stroke-width="1.08" stroke-linejoin="round"/>
<polyline points="983.5,995.55 972.9,995.55 972.9,1006.3" stroke-width="1.08" stroke-linejoin="round"/>
<text class="l" font-size="14" text-anchor="middle" letter-spacing="0.6" transform="translate(943.3 998.84) scale(0.92 1)">24</text>
<line x1="983.8" y1="963.3" x2="1009.5" y2="963.3" stroke-width="2.2"/>
<circle cx="1009.5" cy="963.3" r="4.2" fill="#231815" stroke="none"/>
<line x1="983.8" y1="993" x2="1009.5" y2="993" stroke-width="2.2"/>
<circle cx="1009.5" cy="993" r="4.2" fill="#231815" stroke="none"/>
<line x1="987.8" y1="955.6" x2="995.8" y2="955.6" stroke-width="1.3"/>
<line x1="991.8" y1="951.6" x2="991.8" y2="959.6" stroke-width="1.3"/>
<line x1="987.8" y1="999.6" x2="995.8" y2="999.6" stroke-width="1.3"/>
<text class="l b" font-size="11.5" text-anchor="middle" transform="translate(1013.5 983.3) scale(0.85 1)">mA</text>
</svg>
<div class="note" style="left:59px;top:1093px;">★注1：上述接线图中在同一组端子标有不同功能的,只能选择其中一种功能。</div>
<div class="note" style="left:157px;top:1136.5px;letter-spacing:0.12px;">如RS485和RS232在同一组接线端子上,只能选择一种。</div>
<div class="note" style="left:79px;top:1182px;">注2：不同尺寸仪表，接线图不尽相同，请以实物为准。</div>
</body>
</html>
